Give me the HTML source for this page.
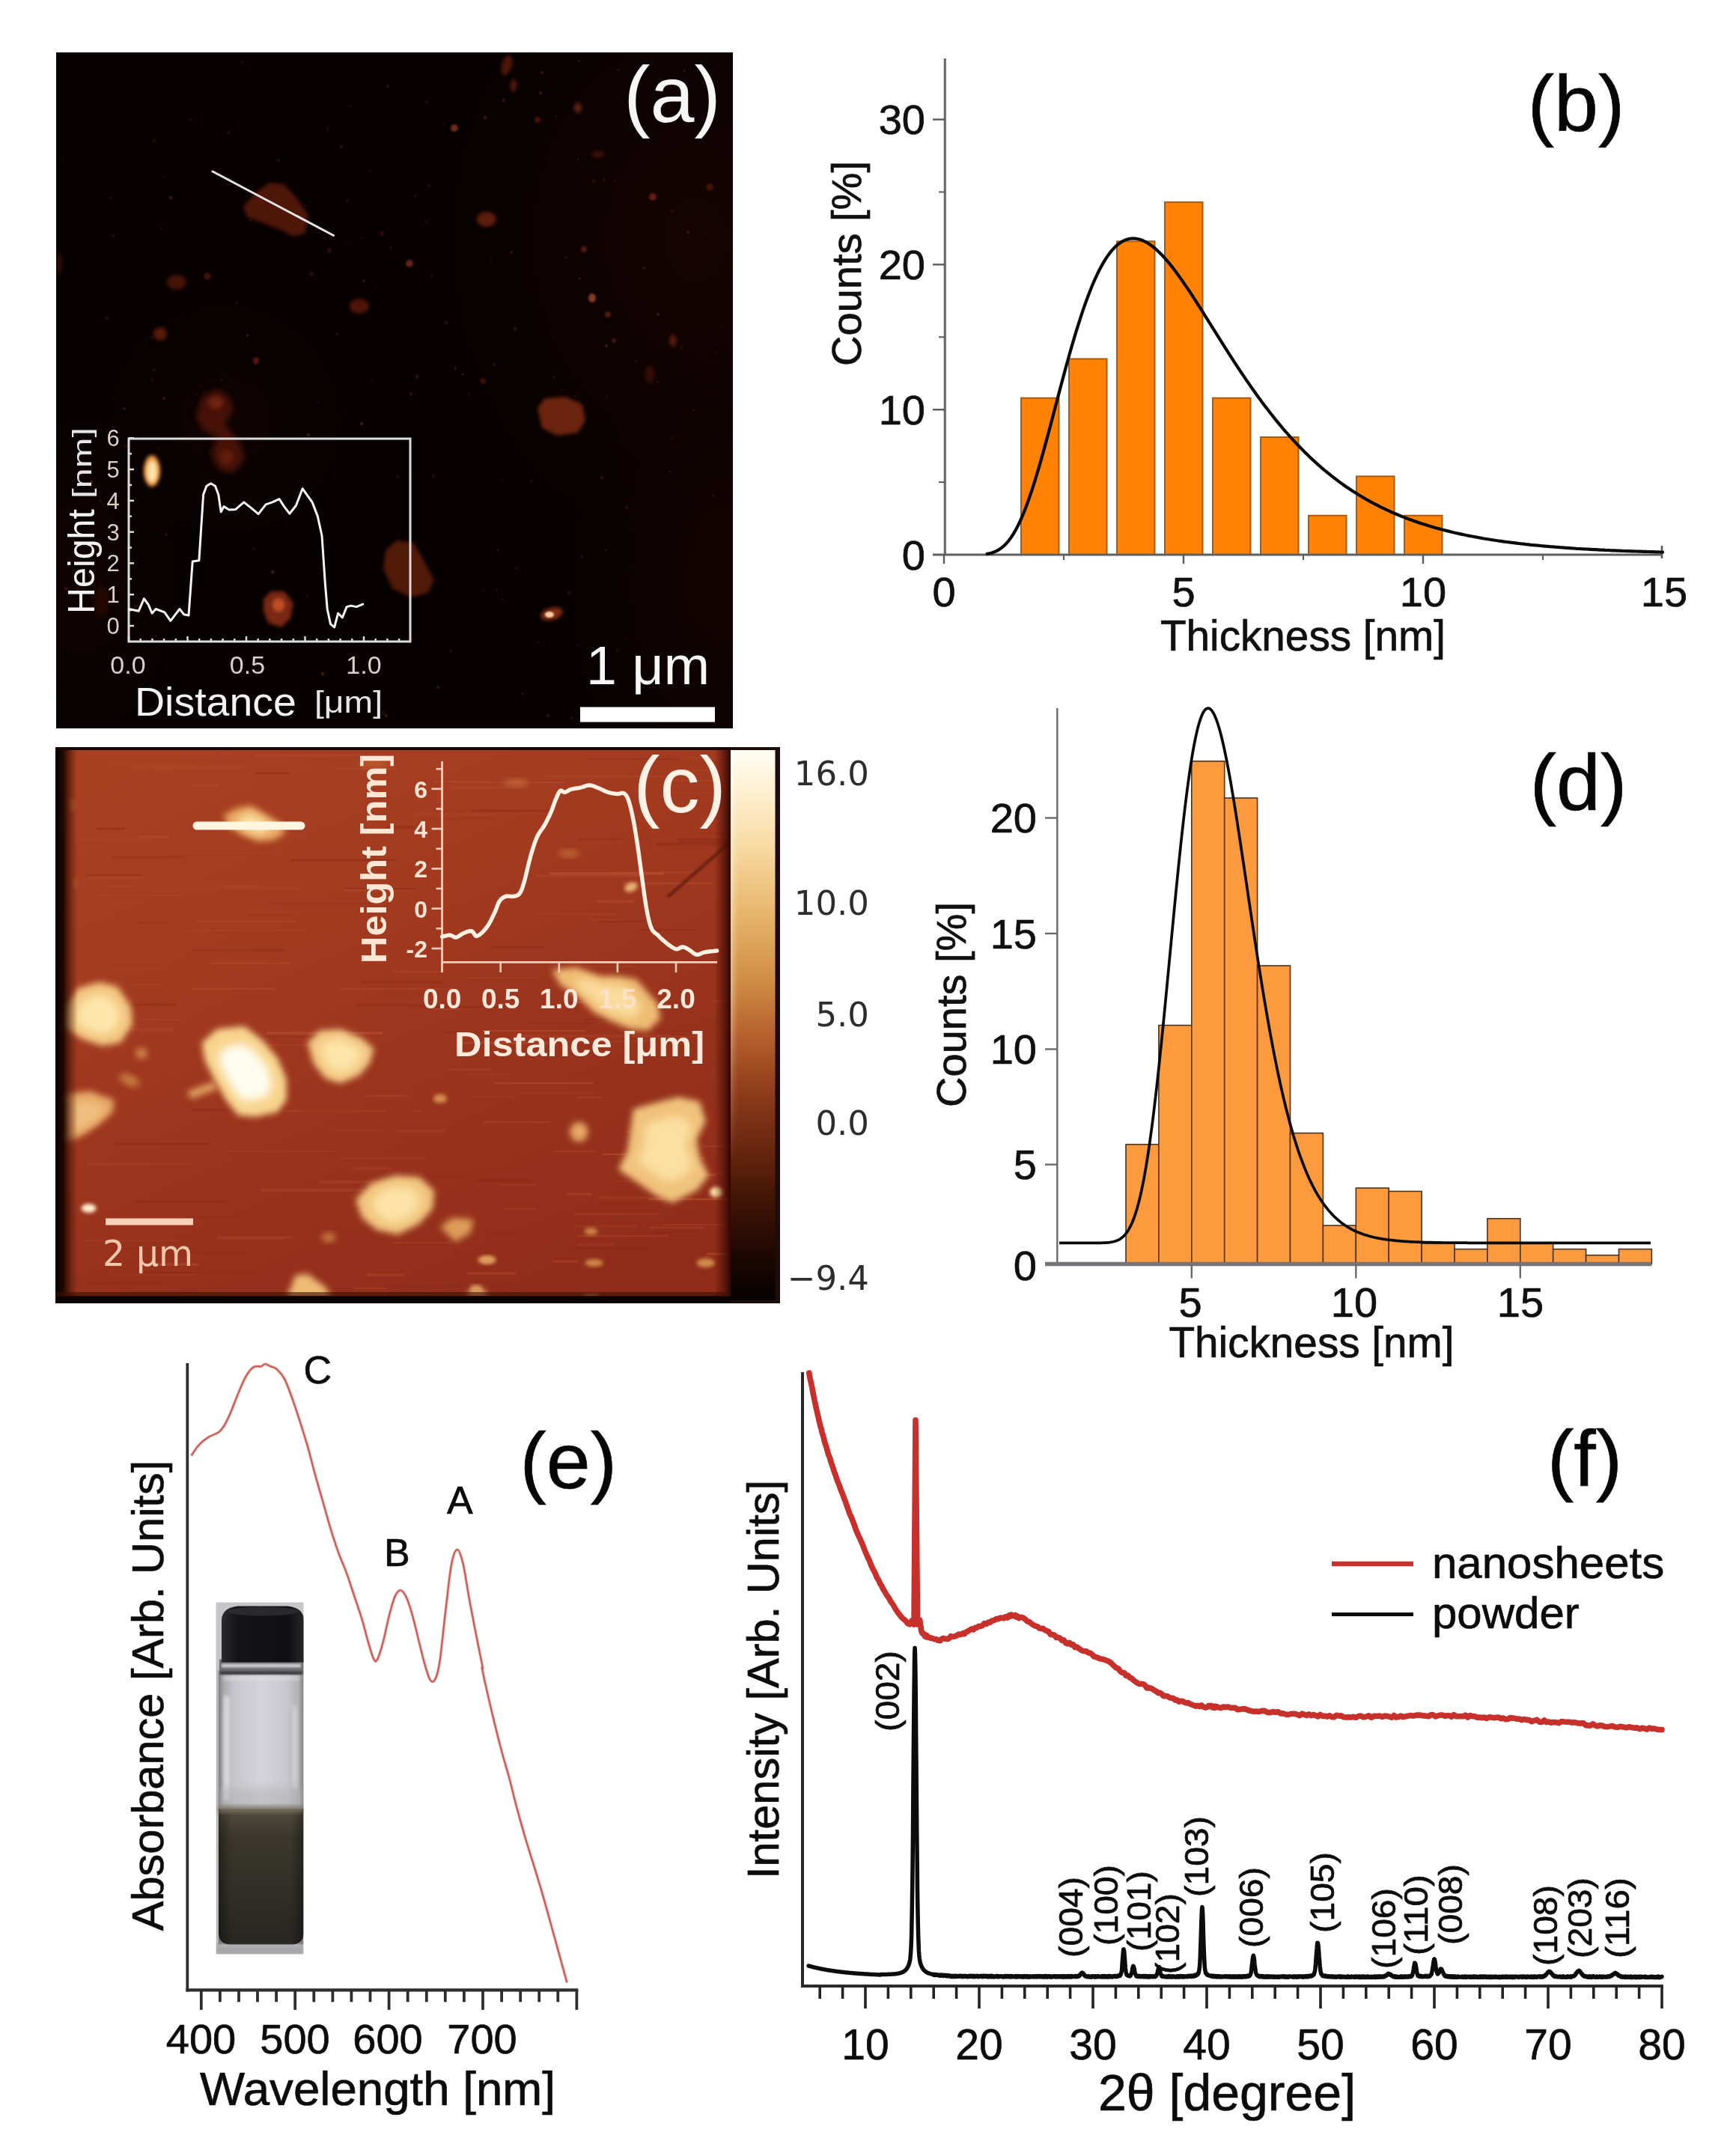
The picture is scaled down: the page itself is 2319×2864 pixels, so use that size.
<!DOCTYPE html>
<html lang="en"><head><meta charset="utf-8"><title>Figure: nanosheet characterisation</title>
<style>
html,body{margin:0;padding:0;background:#fff;}
body{width:2319px;height:2864px;overflow:hidden;}
svg{display:block;}
text{font-family:"Liberation Sans", sans-serif;}
.k text{stroke:#101010;stroke-width:0.7px;}
.dj{font-family:"DejaVu Sans", sans-serif;}
</style></head><body>
<svg width="2319" height="2864" viewBox="0 0 2319 2864">
<defs>
<filter id="b1" x="-30%" y="-30%" width="160%" height="160%"><feGaussianBlur stdDeviation="1.2"/></filter>
<filter id="b2" x="-30%" y="-30%" width="160%" height="160%"><feGaussianBlur stdDeviation="2.5"/></filter>
<filter id="b4" x="-30%" y="-30%" width="160%" height="160%"><feGaussianBlur stdDeviation="4"/></filter>
<filter id="b6" x="-30%" y="-30%" width="160%" height="160%"><feGaussianBlur stdDeviation="6"/></filter>
<filter id="b10" x="-40%" y="-40%" width="180%" height="180%"><feGaussianBlur stdDeviation="10"/></filter>
<filter id="b40" x="-50%" y="-50%" width="200%" height="200%"><feGaussianBlur stdDeviation="40"/></filter>
<filter id="tx" x="-5%" y="-5%" width="110%" height="110%"><feGaussianBlur stdDeviation="0.7"/></filter>
<clipPath id="clipV"><rect x="288.5" y="2137" width="117" height="470"/></clipPath>
<clipPath id="clipA"><rect x="75" y="70" width="904" height="903"/></clipPath>
<clipPath id="clipC"><rect x="74" y="998" width="902" height="743"/></clipPath>
<radialGradient id="hz1" cx="0.5" cy="0.5" r="0.5"><stop offset="0" stop-color="#2a0804" stop-opacity="0.42"/><stop offset="0.5" stop-color="#220604" stop-opacity="0.25"/><stop offset="1" stop-color="#1a0500" stop-opacity="0"/></radialGradient>
<linearGradient id="cbar" x1="0" y1="0" x2="0" y2="1">
<stop offset="0" stop-color="#fffdf6"/>
<stop offset="0.06" stop-color="#fff3d8"/>
<stop offset="0.18" stop-color="#f7d9a0"/>
<stop offset="0.30" stop-color="#e6b46a"/>
<stop offset="0.42" stop-color="#cf8c45"/>
<stop offset="0.52" stop-color="#b5602c"/>
<stop offset="0.62" stop-color="#8e3c1a"/>
<stop offset="0.72" stop-color="#6a2710"/>
<stop offset="0.82" stop-color="#401405"/>
<stop offset="0.92" stop-color="#1c0702"/>
<stop offset="1" stop-color="#060100"/>
</linearGradient>
<linearGradient id="cbg" x1="0.2" y1="0" x2="0.7" y2="1"><stop offset="0" stop-color="#a94022"/><stop offset="0.35" stop-color="#a23a20"/><stop offset="0.75" stop-color="#96311c"/><stop offset="1" stop-color="#902d1a"/></linearGradient>
<linearGradient id="sepg" x1="0" y1="0" x2="1" y2="0"><stop offset="0" stop-color="#ffffff" stop-opacity="0.4"/><stop offset="1" stop-color="#ffffff" stop-opacity="0"/></linearGradient>
<linearGradient id="sepv" x1="0" y1="0" x2="0" y2="1"><stop offset="0" stop-color="#fff" stop-opacity="1"/><stop offset="0.45" stop-color="#fff" stop-opacity="0.8"/><stop offset="0.75" stop-color="#fff" stop-opacity="0"/></linearGradient>
<linearGradient id="cright" x1="0" y1="0" x2="1" y2="0"><stop offset="0" stop-color="#4a0c02" stop-opacity="0"/><stop offset="0.55" stop-color="#400a02" stop-opacity="0.55"/><stop offset="1" stop-color="#2a0400" stop-opacity="0.95"/></linearGradient>
<linearGradient id="cleft" x1="0" y1="0" x2="1" y2="0">
<stop offset="0" stop-color="#000" stop-opacity="1"/>
<stop offset="0.35" stop-color="#1a0500" stop-opacity="0.95"/>
<stop offset="1" stop-color="#5a1a08" stop-opacity="0"/>
</linearGradient>
<linearGradient id="liq" x1="0" y1="0" x2="0" y2="1">
<stop offset="0" stop-color="#524c3e"/><stop offset="0.2" stop-color="#3b372d"/><stop offset="1" stop-color="#282622"/>
</linearGradient>
<linearGradient id="glass" x1="0" y1="0" x2="1" y2="0">
<stop offset="0" stop-color="#7e7e82"/><stop offset="0.06" stop-color="#a9a9ae"/><stop offset="0.18" stop-color="#c6c6cc"/><stop offset="0.5" stop-color="#d3d3d9"/><stop offset="0.8" stop-color="#c8c8ce"/><stop offset="0.94" stop-color="#b0b0b5"/><stop offset="1" stop-color="#828286"/>
</linearGradient>
<linearGradient id="capg" x1="0" y1="0" x2="1" y2="0">
<stop offset="0" stop-color="#2a2a2e"/><stop offset="0.2" stop-color="#141417"/><stop offset="0.8" stop-color="#101013"/><stop offset="1" stop-color="#26262a"/>
</linearGradient>
<linearGradient id="liqx" x1="0" y1="0" x2="1" y2="0">
<stop offset="0" stop-color="#000" stop-opacity="0.35"/><stop offset="0.15" stop-color="#000" stop-opacity="0"/><stop offset="0.85" stop-color="#000" stop-opacity="0"/><stop offset="1" stop-color="#000" stop-opacity="0.35"/>
</linearGradient>
</defs>
<rect x="0" y="0" width="2319" height="2864" fill="#ffffff"/>

<g id="panel-a">
<rect x="75" y="70" width="904" height="903" fill="#070101"/>
<g clip-path="url(#clipA)">
<ellipse cx="930" cy="320" rx="330" ry="420" fill="url(#hz1)"/>
<ellipse cx="960" cy="780" rx="200" ry="330" fill="url(#hz1)" opacity="0.8"/>
<ellipse cx="110" cy="770" rx="130" ry="220" fill="url(#hz1)" opacity="0.6"/>
<ellipse cx="300" cy="560" rx="160" ry="160" fill="url(#hz1)" opacity="0.5"/>
<g opacity="0.68">
<polygon points="325.0,276.0 340.0,258.0 360.0,244.0 380.0,246.0 396.0,264.0 412.0,287.0 408.0,312.0 392.0,316.0 379.0,309.0 352.0,298.0 330.0,290.0" fill="#6f200c" filter="url(#b2)" opacity="1"/>
<ellipse cx="677.0" cy="87.0" rx="7" ry="14" fill="#7a2610" filter="url(#b2)" opacity="0.9" transform="rotate(15 677.0 87.0)"/>
<ellipse cx="686.0" cy="114.0" rx="4" ry="9" fill="#8a2c12" filter="url(#b2)" opacity="0.9"/>
<ellipse cx="607.0" cy="171.0" rx="5" ry="5" fill="#b04528" filter="url(#b1)" opacity="0.9"/>
<ellipse cx="772.0" cy="144.0" rx="5" ry="7" fill="#a03820" filter="url(#b2)" opacity="0.9"/>
<ellipse cx="718.0" cy="160.0" rx="4" ry="4" fill="#7a2812" filter="url(#b1)" opacity="0.8"/>
<ellipse cx="799.0" cy="206.0" rx="9" ry="5" fill="#5a1a0a" filter="url(#b2)" opacity="0.8"/>
<ellipse cx="650.0" cy="293.0" rx="13" ry="10" fill="#8e2f16" filter="url(#b2)" opacity="0.95"/>
<ellipse cx="547.0" cy="352.0" rx="5" ry="5" fill="#9a3a22" filter="url(#b1)" opacity="0.9"/>
<ellipse cx="236.0" cy="377.0" rx="13" ry="10" fill="#70200c" filter="url(#b2)" opacity="0.9"/>
<ellipse cx="277.0" cy="369.0" rx="5" ry="5" fill="#6a2418" filter="url(#b1)" opacity="0.8"/>
<ellipse cx="480.0" cy="409.0" rx="13" ry="10" fill="#7a240e" filter="url(#b2)" opacity="0.95"/>
<ellipse cx="214.0" cy="446.0" rx="9" ry="9" fill="#8a2a10" filter="url(#b2)" opacity="0.95"/>
<ellipse cx="791.0" cy="398.0" rx="5" ry="6" fill="#c05a3a" filter="url(#b1)" opacity="0.95"/>
<ellipse cx="872.0" cy="263.0" rx="5" ry="5" fill="#9a3520" filter="url(#b1)" opacity="0.85"/>
<ellipse cx="899.0" cy="455.0" rx="5" ry="8" fill="#8a2a14" filter="url(#b2)" opacity="0.9"/>
<ellipse cx="780.0" cy="333.0" rx="4" ry="4" fill="#8a3020" filter="url(#b1)" opacity="0.8"/>
<ellipse cx="948.0" cy="250.0" rx="5" ry="5" fill="#70200e" filter="url(#b1)" opacity="0.8"/>
<ellipse cx="342.0" cy="482.0" rx="4" ry="5" fill="#8a2c14" filter="url(#b1)" opacity="0.85"/>
<ellipse cx="645.0" cy="509.0" rx="4" ry="4" fill="#6a2010" filter="url(#b1)" opacity="0.8"/>
<ellipse cx="79.0" cy="352.0" rx="5" ry="14" fill="#4a1408" filter="url(#b2)" opacity="0.8"/>
<ellipse cx="868.0" cy="500.0" rx="7" ry="12" fill="#5a1808" filter="url(#b2)" opacity="0.7"/>
<ellipse cx="812.0" cy="420.0" rx="4" ry="4" fill="#8a3020" filter="url(#b1)" opacity="0.8"/>
<ellipse cx="820.0" cy="455.0" rx="3" ry="3" fill="#7a2818" filter="url(#b1)" opacity="0.8"/>
<ellipse cx="440.0" cy="335.0" rx="3" ry="3" fill="#5a2018" filter="url(#b1)" opacity="0.8"/>
<ellipse cx="510.0" cy="312.0" rx="3" ry="3" fill="#5a2018" filter="url(#b1)" opacity="0.7"/>
<ellipse cx="416.0" cy="366.0" rx="3" ry="3" fill="#5a2018" filter="url(#b1)" opacity="0.7"/>
<circle cx="372" cy="214" r="2.1" fill="#4a1a14" opacity="0.81"/>
<circle cx="168" cy="596" r="2.5" fill="#5a2218" opacity="0.42"/>
<circle cx="469" cy="142" r="1.3" fill="#6a2a1c" opacity="0.43"/>
<circle cx="585" cy="918" r="2.1" fill="#50201a" opacity="0.87"/>
<circle cx="596" cy="431" r="2.6" fill="#4a1a14" opacity="0.68"/>
<circle cx="203" cy="451" r="2.0" fill="#50201a" opacity="0.55"/>
<circle cx="807" cy="240" r="2.0" fill="#5a2218" opacity="0.59"/>
<circle cx="570" cy="136" r="1.3" fill="#5a2218" opacity="0.65"/>
<circle cx="556" cy="768" r="1.9" fill="#6a2a1c" opacity="0.58"/>
<circle cx="305" cy="239" r="2.3" fill="#4a1a14" opacity="0.69"/>
<circle cx="550" cy="854" r="2.2" fill="#3a1410" opacity="0.70"/>
<circle cx="150" cy="533" r="1.4" fill="#3a1410" opacity="0.48"/>
<circle cx="518" cy="115" r="2.1" fill="#50201a" opacity="0.69"/>
<circle cx="860" cy="358" r="2.2" fill="#50201a" opacity="0.65"/>
<circle cx="790" cy="141" r="1.3" fill="#3a1410" opacity="0.64"/>
<circle cx="673" cy="134" r="2.2" fill="#50201a" opacity="0.90"/>
<circle cx="812" cy="332" r="1.7" fill="#3a1410" opacity="0.41"/>
<circle cx="494" cy="229" r="1.4" fill="#4a1a14" opacity="0.51"/>
<circle cx="339" cy="733" r="1.8" fill="#6a2a1c" opacity="0.44"/>
<circle cx="483" cy="566" r="2.4" fill="#6a2a1c" opacity="0.83"/>
<circle cx="331" cy="448" r="1.7" fill="#6a2a1c" opacity="0.88"/>
<circle cx="219" cy="236" r="1.5" fill="#5a2218" opacity="0.41"/>
<circle cx="821" cy="241" r="1.6" fill="#5a2218" opacity="0.61"/>
<circle cx="412" cy="581" r="2.5" fill="#50201a" opacity="0.88"/>
<circle cx="665" cy="735" r="1.8" fill="#50201a" opacity="0.60"/>
<circle cx="438" cy="172" r="2.1" fill="#4a1a14" opacity="0.50"/>
<circle cx="956" cy="470" r="1.4" fill="#50201a" opacity="0.43"/>
<circle cx="85" cy="214" r="1.3" fill="#3a1410" opacity="0.71"/>
<circle cx="147" cy="264" r="1.7" fill="#3a1410" opacity="0.88"/>
<circle cx="618" cy="500" r="1.4" fill="#6a2a1c" opacity="0.90"/>
<circle cx="497" cy="508" r="1.3" fill="#4a1a14" opacity="0.77"/>
<circle cx="740" cy="504" r="2.2" fill="#50201a" opacity="0.41"/>
<circle cx="927" cy="548" r="1.4" fill="#50201a" opacity="0.86"/>
<circle cx="756" cy="344" r="2.1" fill="#4a1a14" opacity="0.75"/>
<circle cx="316" cy="405" r="1.4" fill="#5a2218" opacity="0.67"/>
<circle cx="774" cy="372" r="1.5" fill="#5a2218" opacity="0.80"/>
<circle cx="809" cy="735" r="1.5" fill="#50201a" opacity="0.65"/>
<circle cx="732" cy="956" r="2.3" fill="#6a2a1c" opacity="0.53"/>
<circle cx="698" cy="927" r="1.8" fill="#3a1410" opacity="0.88"/>
<circle cx="408" cy="275" r="1.5" fill="#5a2218" opacity="0.57"/>
<circle cx="512" cy="952" r="2.1" fill="#4a1a14" opacity="0.64"/>
<circle cx="663" cy="788" r="1.3" fill="#4a1a14" opacity="0.85"/>
<circle cx="777" cy="744" r="1.9" fill="#5a2218" opacity="0.62"/>
<circle cx="648" cy="157" r="2.5" fill="#6a2a1c" opacity="0.63"/>
<circle cx="743" cy="155" r="1.4" fill="#5a2218" opacity="0.41"/>
<circle cx="608" cy="492" r="2.1" fill="#50201a" opacity="0.81"/>
<circle cx="953" cy="662" r="1.7" fill="#50201a" opacity="0.67"/>
<circle cx="104" cy="787" r="2.2" fill="#4a1a14" opacity="0.66"/>
<circle cx="911" cy="464" r="2.4" fill="#5a2218" opacity="0.41"/>
<circle cx="273" cy="524" r="2.3" fill="#3a1410" opacity="0.53"/>
<circle cx="456" cy="196" r="2.5" fill="#3a1410" opacity="0.85"/>
<circle cx="671" cy="801" r="1.9" fill="#50201a" opacity="0.47"/>
<circle cx="219" cy="532" r="2.4" fill="#5a2218" opacity="0.70"/>
<circle cx="772" cy="213" r="1.4" fill="#50201a" opacity="0.76"/>
<circle cx="577" cy="368" r="1.9" fill="#50201a" opacity="0.64"/>
<circle cx="772" cy="862" r="1.3" fill="#5a2218" opacity="0.54"/>
<circle cx="768" cy="529" r="2.0" fill="#4a1a14" opacity="0.62"/>
<circle cx="627" cy="527" r="1.9" fill="#3a1410" opacity="0.63"/>
<circle cx="557" cy="503" r="2.5" fill="#50201a" opacity="0.84"/>
<circle cx="919" cy="310" r="2.0" fill="#5a2218" opacity="0.82"/>
<circle cx="206" cy="188" r="1.8" fill="#4a1a14" opacity="0.74"/>
<circle cx="464" cy="268" r="1.6" fill="#4a1a14" opacity="0.85"/>
<circle cx="222" cy="714" r="2.1" fill="#5a2218" opacity="0.53"/>
<circle cx="206" cy="494" r="2.2" fill="#4a1a14" opacity="0.60"/>
<circle cx="516" cy="956" r="2.4" fill="#5a2218" opacity="0.75"/>
<circle cx="965" cy="437" r="1.8" fill="#3a1410" opacity="0.56"/>
<circle cx="724" cy="97" r="2.0" fill="#6a2a1c" opacity="0.75"/>
<circle cx="425" cy="538" r="1.6" fill="#4a1a14" opacity="0.46"/>
<circle cx="898" cy="282" r="2.4" fill="#4a1a14" opacity="0.53"/>
<circle cx="120" cy="769" r="1.6" fill="#5a2218" opacity="0.81"/>
<circle cx="837" cy="678" r="2.5" fill="#6a2a1c" opacity="0.47"/>
<circle cx="898" cy="585" r="2.2" fill="#4a1a14" opacity="0.54"/>
<circle cx="793" cy="242" r="2.5" fill="#3a1410" opacity="0.87"/>
<circle cx="646" cy="789" r="1.3" fill="#5a2218" opacity="0.43"/>
<circle cx="849" cy="482" r="1.7" fill="#50201a" opacity="0.61"/>
<circle cx="895" cy="630" r="1.3" fill="#5a2218" opacity="0.87"/>
<circle cx="943" cy="312" r="1.5" fill="#3a1410" opacity="0.71"/>
<circle cx="555" cy="262" r="1.8" fill="#5a2218" opacity="0.54"/>
<circle cx="796" cy="960" r="1.3" fill="#4a1a14" opacity="0.77"/>
<circle cx="573" cy="248" r="1.9" fill="#6a2a1c" opacity="0.45"/>
<circle cx="810" cy="462" r="1.9" fill="#6a2a1c" opacity="0.89"/>
<circle cx="357" cy="270" r="1.5" fill="#5a2218" opacity="0.82"/>
<circle cx="710" cy="643" r="1.8" fill="#3a1410" opacity="0.89"/>
<circle cx="826" cy="93" r="2.1" fill="#3a1410" opacity="0.62"/>
<circle cx="134" cy="669" r="1.7" fill="#50201a" opacity="0.74"/>
<circle cx="335" cy="294" r="1.6" fill="#6a2a1c" opacity="0.49"/>
<circle cx="323" cy="83" r="1.7" fill="#3a1410" opacity="0.89"/>
<circle cx="569" cy="296" r="2.6" fill="#3a1410" opacity="0.51"/>
<circle cx="247" cy="377" r="1.3" fill="#3a1410" opacity="0.65"/>
<circle cx="263" cy="527" r="1.2" fill="#3a1410" opacity="0.81"/>
<circle cx="212" cy="599" r="1.8" fill="#3a1410" opacity="0.55"/>
<circle cx="291" cy="598" r="1.9" fill="#5a2218" opacity="0.73"/>
<circle cx="719" cy="858" r="1.7" fill="#3a1410" opacity="0.76"/>
<circle cx="522" cy="331" r="2.1" fill="#5a2218" opacity="0.42"/>
<circle cx="824" cy="869" r="2.1" fill="#50201a" opacity="0.47"/>
<circle cx="549" cy="526" r="2.4" fill="#4a1a14" opacity="0.81"/>
<circle cx="602" cy="870" r="2.2" fill="#5a2218" opacity="0.44"/>
<circle cx="122" cy="644" r="2.5" fill="#6a2a1c" opacity="0.82"/>
<circle cx="579" cy="636" r="2.1" fill="#5a2218" opacity="0.64"/>
<circle cx="88" cy="786" r="2.2" fill="#50201a" opacity="0.85"/>
<circle cx="166" cy="546" r="2.2" fill="#6a2a1c" opacity="0.53"/>
<circle cx="151" cy="315" r="2.2" fill="#5a2218" opacity="0.52"/>
<circle cx="660" cy="487" r="2.4" fill="#4a1a14" opacity="0.64"/>
<circle cx="690" cy="759" r="2.1" fill="#5a2218" opacity="0.44"/>
<circle cx="215" cy="305" r="2.2" fill="#3a1410" opacity="0.71"/>
<circle cx="203" cy="507" r="1.9" fill="#4a1a14" opacity="0.75"/>
<circle cx="683" cy="337" r="1.9" fill="#6a2a1c" opacity="0.63"/>
<circle cx="764" cy="959" r="2.0" fill="#3a1410" opacity="0.89"/>
<circle cx="914" cy="95" r="1.8" fill="#50201a" opacity="0.88"/>
<circle cx="483" cy="318" r="1.5" fill="#5a2218" opacity="0.44"/>
<circle cx="165" cy="742" r="1.6" fill="#3a1410" opacity="0.47"/>
<circle cx="811" cy="530" r="2.4" fill="#3a1410" opacity="0.52"/>
<circle cx="879" cy="510" r="1.2" fill="#4a1a14" opacity="0.87"/>
<circle cx="688" cy="439" r="2.2" fill="#6a2a1c" opacity="0.57"/>
<circle cx="365" cy="824" r="1.2" fill="#3a1410" opacity="0.82"/>
<circle cx="191" cy="900" r="2.2" fill="#3a1410" opacity="0.53"/>
<circle cx="143" cy="425" r="2.4" fill="#4a1a14" opacity="0.58"/>
<circle cx="464" cy="324" r="1.3" fill="#4a1a14" opacity="0.43"/>
<circle cx="671" cy="642" r="1.4" fill="#3a1410" opacity="0.62"/>
<circle cx="364" cy="764" r="2.3" fill="#6a2a1c" opacity="0.84"/>
<circle cx="804" cy="638" r="2.5" fill="#50201a" opacity="0.67"/>
<circle cx="722" cy="124" r="2.2" fill="#6a2a1c" opacity="0.71"/>
<circle cx="208" cy="849" r="1.9" fill="#50201a" opacity="0.46"/>
<circle cx="503" cy="384" r="1.6" fill="#3a1410" opacity="0.60"/>
<circle cx="296" cy="508" r="2.1" fill="#4a1a14" opacity="0.48"/>
<circle cx="228" cy="264" r="2.5" fill="#6a2a1c" opacity="0.68"/>
<circle cx="486" cy="375" r="2.3" fill="#6a2a1c" opacity="0.47"/>
<circle cx="255" cy="160" r="1.7" fill="#4a1a14" opacity="0.56"/>
<circle cx="411" cy="796" r="1.5" fill="#4a1a14" opacity="0.77"/>
<circle cx="450" cy="446" r="1.9" fill="#6a2a1c" opacity="0.54"/>
<circle cx="751" cy="521" r="2.0" fill="#3a1410" opacity="0.46"/>
<circle cx="531" cy="637" r="2.4" fill="#5a2218" opacity="0.45"/>
<circle cx="879" cy="420" r="2.1" fill="#6a2a1c" opacity="0.88"/>
<circle cx="836" cy="853" r="1.2" fill="#4a1a14" opacity="0.61"/>
<circle cx="761" cy="792" r="2.6" fill="#6a2a1c" opacity="0.40"/>
<circle cx="431" cy="900" r="2.4" fill="#6a2a1c" opacity="0.89"/>
<circle cx="305" cy="177" r="1.4" fill="#50201a" opacity="0.89"/>
<circle cx="181" cy="810" r="2.2" fill="#6a2a1c" opacity="0.44"/>
<circle cx="773" cy="81" r="1.4" fill="#50201a" opacity="0.86"/>
<circle cx="656" cy="349" r="1.4" fill="#3a1410" opacity="0.66"/>
<polygon points="262.0,556.0 270.0,530.0 290.0,520.0 305.0,528.0 312.0,548.0 300.0,566.0 320.0,590.0 328.0,612.0 312.0,632.0 292.0,628.0 282.0,606.0 290.0,584.0 270.0,574.0" fill="#6a1e0a" filter="url(#b4)" opacity="0.95"/>
<ellipse cx="288.0" cy="538.0" rx="10" ry="9" fill="#a83a1c" filter="url(#b2)" opacity="0.8"/>
<ellipse cx="303.0" cy="610.0" rx="9" ry="10" fill="#9a3014" filter="url(#b2)" opacity="0.7"/>
<polygon points="718.0,545.0 728.0,532.0 755.0,530.0 778.0,540.0 782.0,562.0 772.0,578.0 745.0,582.0 724.0,572.0" fill="#9a3616" filter="url(#b2)" opacity="1"/>
<polygon points="515.0,735.0 530.0,722.0 552.0,724.0 566.0,748.0 580.0,775.0 572.0,792.0 548.0,798.0 524.0,786.0 512.0,760.0" fill="#74260e" filter="url(#b2)" opacity="1"/>
<polygon points="352.0,800.0 362.0,790.0 380.0,790.0 392.0,806.0 388.0,826.0 376.0,838.0 358.0,832.0 352.0,816.0" fill="#b03a1c" filter="url(#b2)" opacity="1"/>
<ellipse cx="372.0" cy="808.0" rx="7" ry="8" fill="#e0683a" filter="url(#b2)" opacity="0.9"/>
<ellipse cx="136.0" cy="803.0" rx="10" ry="22" fill="#3a1006" filter="url(#b4)" opacity="0.8"/>
</g>
<ellipse cx="203.0" cy="629.0" rx="11" ry="21" fill="#e89040" filter="url(#b2)" opacity="1"/>
<ellipse cx="203.0" cy="630.0" rx="7" ry="15" fill="#ffe2a8" filter="url(#b2)" opacity="1"/>
<ellipse cx="737.0" cy="820.0" rx="15" ry="8" fill="#8a3016" filter="url(#b2)" opacity="0.95" transform="rotate(-15 737.0 820.0)"/>
<ellipse cx="734.0" cy="821.0" rx="6" ry="4" fill="#ffd8b0" filter="url(#b1)" opacity="0.95"/>
<ellipse cx="372.0" cy="808.0" rx="8" ry="9" fill="#c8502a" filter="url(#b2)" opacity="0.85"/>
</g>
<line x1="284" y1="229" x2="445.5" y2="314.5" stroke="#e8e4e2" stroke-width="3" stroke-linecap="round"/>
<rect x="172" y="586" width="376" height="271" fill="none" stroke="#dcdcdc" stroke-width="3"/>
<line x1="172" y1="836.0" x2="179" y2="836.0" stroke="#dcdcdc" stroke-width="2.5"/>
<line x1="172" y1="815.1" x2="176" y2="815.1" stroke="#dcdcdc" stroke-width="2.5"/>
<line x1="172" y1="794.2" x2="179" y2="794.2" stroke="#dcdcdc" stroke-width="2.5"/>
<line x1="172" y1="773.3" x2="176" y2="773.3" stroke="#dcdcdc" stroke-width="2.5"/>
<line x1="172" y1="752.4" x2="179" y2="752.4" stroke="#dcdcdc" stroke-width="2.5"/>
<line x1="172" y1="731.5" x2="176" y2="731.5" stroke="#dcdcdc" stroke-width="2.5"/>
<line x1="172" y1="710.6" x2="179" y2="710.6" stroke="#dcdcdc" stroke-width="2.5"/>
<line x1="172" y1="689.7" x2="176" y2="689.7" stroke="#dcdcdc" stroke-width="2.5"/>
<line x1="172" y1="668.8" x2="179" y2="668.8" stroke="#dcdcdc" stroke-width="2.5"/>
<line x1="172" y1="647.9" x2="176" y2="647.9" stroke="#dcdcdc" stroke-width="2.5"/>
<line x1="172" y1="627.0" x2="179" y2="627.0" stroke="#dcdcdc" stroke-width="2.5"/>
<line x1="172" y1="606.1" x2="176" y2="606.1" stroke="#dcdcdc" stroke-width="2.5"/>
<line x1="172" y1="585.2" x2="179" y2="585.2" stroke="#dcdcdc" stroke-width="2.5"/>
<line x1="172.0" y1="857" x2="172.0" y2="850" stroke="#dcdcdc" stroke-width="2.5"/>
<line x1="187.7" y1="857" x2="187.7" y2="853" stroke="#dcdcdc" stroke-width="2.5"/>
<line x1="203.4" y1="857" x2="203.4" y2="853" stroke="#dcdcdc" stroke-width="2.5"/>
<line x1="219.1" y1="857" x2="219.1" y2="853" stroke="#dcdcdc" stroke-width="2.5"/>
<line x1="234.8" y1="857" x2="234.8" y2="853" stroke="#dcdcdc" stroke-width="2.5"/>
<line x1="250.5" y1="857" x2="250.5" y2="850" stroke="#dcdcdc" stroke-width="2.5"/>
<line x1="266.2" y1="857" x2="266.2" y2="853" stroke="#dcdcdc" stroke-width="2.5"/>
<line x1="281.9" y1="857" x2="281.9" y2="853" stroke="#dcdcdc" stroke-width="2.5"/>
<line x1="297.6" y1="857" x2="297.6" y2="853" stroke="#dcdcdc" stroke-width="2.5"/>
<line x1="313.3" y1="857" x2="313.3" y2="853" stroke="#dcdcdc" stroke-width="2.5"/>
<line x1="329.0" y1="857" x2="329.0" y2="850" stroke="#dcdcdc" stroke-width="2.5"/>
<line x1="344.7" y1="857" x2="344.7" y2="853" stroke="#dcdcdc" stroke-width="2.5"/>
<line x1="360.4" y1="857" x2="360.4" y2="853" stroke="#dcdcdc" stroke-width="2.5"/>
<line x1="376.1" y1="857" x2="376.1" y2="853" stroke="#dcdcdc" stroke-width="2.5"/>
<line x1="391.8" y1="857" x2="391.8" y2="853" stroke="#dcdcdc" stroke-width="2.5"/>
<line x1="407.5" y1="857" x2="407.5" y2="850" stroke="#dcdcdc" stroke-width="2.5"/>
<line x1="423.2" y1="857" x2="423.2" y2="853" stroke="#dcdcdc" stroke-width="2.5"/>
<line x1="438.9" y1="857" x2="438.9" y2="853" stroke="#dcdcdc" stroke-width="2.5"/>
<line x1="454.6" y1="857" x2="454.6" y2="853" stroke="#dcdcdc" stroke-width="2.5"/>
<line x1="470.3" y1="857" x2="470.3" y2="853" stroke="#dcdcdc" stroke-width="2.5"/>
<line x1="486.0" y1="857" x2="486.0" y2="850" stroke="#dcdcdc" stroke-width="2.5"/>
<line x1="501.7" y1="857" x2="501.7" y2="853" stroke="#dcdcdc" stroke-width="2.5"/>
<line x1="517.4" y1="857" x2="517.4" y2="853" stroke="#dcdcdc" stroke-width="2.5"/>
<line x1="533.1" y1="857" x2="533.1" y2="853" stroke="#dcdcdc" stroke-width="2.5"/>
<text x="151" y="847.0" font-size="31" fill="#dccfc8" text-anchor="middle">0</text>
<text x="151" y="805.2" font-size="31" fill="#dccfc8" text-anchor="middle">1</text>
<text x="151" y="763.4" font-size="31" fill="#dccfc8" text-anchor="middle">2</text>
<text x="151" y="721.6" font-size="31" fill="#dccfc8" text-anchor="middle">3</text>
<text x="151" y="679.8" font-size="31" fill="#dccfc8" text-anchor="middle">4</text>
<text x="151" y="638.0" font-size="31" fill="#dccfc8" text-anchor="middle">5</text>
<text x="151" y="596.2" font-size="31" fill="#dccfc8" text-anchor="middle">6</text>
<text x="171" y="900" font-size="34" fill="#d8d0cc" text-anchor="middle">0.0</text>
<text x="330.5" y="900" font-size="34" fill="#d8d0cc" text-anchor="middle">0.5</text>
<text x="486" y="900" font-size="34" fill="#d8d0cc" text-anchor="middle">1.0</text>
<text x="180" y="956" font-size="54" fill="#f2f2f2" textLength="216" lengthAdjust="spacingAndGlyphs">Distance</text>
<text x="420" y="952" font-size="41" fill="#e6e6e6" textLength="91" lengthAdjust="spacingAndGlyphs">[μm]</text>
<text transform="translate(126 820) rotate(-90)" font-size="50" fill="#f2f2f2" textLength="140" lengthAdjust="spacingAndGlyphs">Height</text>
<text transform="translate(122 666) rotate(-90)" font-size="35" fill="#e6e6e6" textLength="95" lengthAdjust="spacingAndGlyphs">[nm]</text>
<polyline points="172.2,813.5 185.2,816.3 192.4,799.6 198.2,807.7 203.1,819.2 208.2,813.5 219.8,817.8 227.8,829.3 235.6,819.2 239.9,813.5 245.7,820.7 252.0,822.1 257.2,750.1 265.9,748.7 271.6,660.8 275.9,649.3 281.7,645.8 287.5,649.3 291.8,660.8 295.2,683.8 299.0,676.6 306.2,681.0 314.8,680.4 325.8,670.9 335.0,678.1 345.1,686.7 355.1,673.8 363.8,670.9 373.0,666.6 379.6,676.6 386.8,686.2 395.5,675.2 404.1,652.7 409.9,660.8 417.1,670.9 424.3,689.6 430.0,715.5 434.3,778.9 437.2,813.5 441.5,833.6 446.7,837.9 451.6,819.2 457.4,825.0 463.1,810.6 468.9,809.1 476.1,810.6 484.7,807.1" fill="none" stroke="#f4f4f4" stroke-width="3" stroke-linejoin="round" stroke-linecap="round"/>
<text x="898" y="163.3" font-size="106" fill="#f6f6f6" text-anchor="middle">(a)</text>
<text x="783" y="914" font-size="72" fill="#f6f6f6" textLength="165" lengthAdjust="spacingAndGlyphs">1 μm</text>
<rect x="775" y="944.5" width="180" height="20" fill="#ffffff"/>
</g>
<g id="panel-b" class="k">
<rect x="1364.0" y="531.7" width="50.5" height="209.3" fill="#ff8205" stroke="#a85a14" stroke-width="2"/>
<rect x="1428.0" y="479.4" width="50.5" height="261.6" fill="#ff8205" stroke="#a85a14" stroke-width="2"/>
<rect x="1492.0" y="322.4" width="50.5" height="418.6" fill="#ff8205" stroke="#a85a14" stroke-width="2"/>
<rect x="1556.0" y="270.1" width="50.5" height="470.9" fill="#ff8205" stroke="#a85a14" stroke-width="2"/>
<rect x="1620.0" y="531.7" width="50.5" height="209.3" fill="#ff8205" stroke="#a85a14" stroke-width="2"/>
<rect x="1684.0" y="584.0" width="50.5" height="157.0" fill="#ff8205" stroke="#a85a14" stroke-width="2"/>
<rect x="1748.0" y="688.7" width="50.5" height="52.3" fill="#ff8205" stroke="#a85a14" stroke-width="2"/>
<rect x="1812.0" y="636.3" width="50.5" height="104.7" fill="#ff8205" stroke="#a85a14" stroke-width="2"/>
<rect x="1876.0" y="688.7" width="50.5" height="52.3" fill="#ff8205" stroke="#a85a14" stroke-width="2"/>
<line x1="1262.3" y1="78" x2="1262.3" y2="742" stroke="#6a6a6a" stroke-width="3.2"/>
<line x1="1246" y1="741" x2="2221" y2="741" stroke="#606060" stroke-width="3.2"/>
<line x1="1246" y1="547.2" x2="1262" y2="547.2" stroke="#5a5a5a" stroke-width="2.4"/>
<line x1="1246" y1="353.4" x2="1262" y2="353.4" stroke="#5a5a5a" stroke-width="2.4"/>
<line x1="1246" y1="159.6" x2="1262" y2="159.6" stroke="#5a5a5a" stroke-width="2.4"/>
<line x1="1254" y1="644.1" x2="1262" y2="644.1" stroke="#5a5a5a" stroke-width="2"/>
<line x1="1254" y1="450.3" x2="1262" y2="450.3" stroke="#5a5a5a" stroke-width="2"/>
<line x1="1254" y1="256.5" x2="1262" y2="256.5" stroke="#5a5a5a" stroke-width="2"/>
<line x1="1261.0" y1="741" x2="1261.0" y2="753" stroke="#5a5a5a" stroke-width="2.4"/>
<line x1="1581.0" y1="741" x2="1581.0" y2="753" stroke="#5a5a5a" stroke-width="2.4"/>
<line x1="1901.0" y1="741" x2="1901.0" y2="753" stroke="#5a5a5a" stroke-width="2.4"/>
<line x1="2220" y1="729" x2="2220" y2="746" stroke="#5a5a5a" stroke-width="2.6"/>
<line x1="1421.0" y1="741" x2="1421.0" y2="748" stroke="#5a5a5a" stroke-width="2"/>
<line x1="1741.0" y1="741" x2="1741.0" y2="748" stroke="#5a5a5a" stroke-width="2"/>
<line x1="2061.0" y1="741" x2="2061.0" y2="748" stroke="#5a5a5a" stroke-width="2"/>
<polyline points="1318.6,739.9 1321.8,739.3 1325.0,738.4 1328.2,737.3 1331.4,735.9 1334.6,734.1 1337.8,731.9 1341.0,729.2 1344.2,726.0 1347.4,722.3 1350.6,718.0 1353.8,713.1 1357.0,707.5 1360.2,701.4 1363.4,694.6 1366.6,687.2 1369.8,679.2 1373.0,670.6 1376.2,661.5 1379.4,651.9 1382.6,641.7 1385.8,631.2 1389.0,620.3 1392.2,609.0 1395.4,597.4 1398.6,585.6 1401.8,573.7 1405.0,561.6 1408.2,549.4 1411.4,537.2 1414.6,525.1 1417.8,513.0 1421.0,501.1 1424.2,489.3 1427.4,477.7 1430.6,466.4 1433.8,455.4 1437.0,444.6 1440.2,434.3 1443.4,424.3 1446.6,414.7 1449.8,405.5 1453.0,396.7 1456.2,388.4 1459.4,380.5 1462.6,373.2 1465.8,366.3 1469.0,359.8 1472.2,353.9 1475.4,348.4 1478.6,343.4 1481.8,338.9 1485.0,334.9 1488.2,331.3 1491.4,328.2 1494.6,325.6 1497.8,323.4 1501.0,321.6 1504.2,320.2 1507.4,319.3 1510.6,318.7 1513.8,318.5 1517.0,318.7 1520.2,319.2 1523.4,320.1 1526.6,321.3 1529.8,322.8 1533.0,324.6 1536.2,326.7 1539.4,329.0 1542.6,331.6 1545.8,334.4 1549.0,337.5 1552.2,340.8 1555.4,344.2 1558.6,347.9 1561.8,351.7 1565.0,355.6 1568.2,359.8 1571.4,364.0 1574.6,368.4 1577.8,372.9 1581.0,377.5 1584.2,382.1 1587.4,386.9 1590.6,391.7 1593.8,396.6 1597.0,401.6 1600.2,406.6 1603.4,411.6 1606.6,416.7 1609.8,421.8 1613.0,426.9 1616.2,432.0 1619.4,437.1 1622.6,442.2 1625.8,447.3 1629.0,452.4 1632.2,457.5 1635.4,462.6 1638.6,467.6 1641.8,472.6 1645.0,477.6 1648.2,482.6 1651.4,487.5 1654.6,492.3 1657.8,497.2 1661.0,501.9 1664.2,506.6 1667.4,511.3 1670.6,515.9 1673.8,520.5 1677.0,525.0 1680.2,529.4 1683.4,533.8 1686.6,538.2 1689.8,542.4 1693.0,546.6 1696.2,550.8 1699.4,554.8 1702.6,558.9 1705.8,562.8 1709.0,566.7 1712.2,570.5 1715.4,574.3 1718.6,578.0 1721.8,581.6 1725.0,585.2 1728.2,588.7 1731.4,592.1 1734.6,595.5 1737.8,598.8 1741.0,602.0 1744.2,605.2 1747.4,608.3 1750.6,611.4 1753.8,614.4 1757.0,617.3 1760.2,620.2 1763.4,623.0 1766.6,625.8 1769.8,628.5 1773.0,631.1 1776.2,633.7 1779.4,636.3 1782.6,638.7 1785.8,641.2 1789.0,643.6 1792.2,645.9 1795.4,648.2 1798.6,650.4 1801.8,652.6 1805.0,654.7 1808.2,656.8 1811.4,658.8 1814.6,660.8 1817.8,662.7 1821.0,664.6 1824.2,666.5 1827.4,668.3 1830.6,670.1 1833.8,671.8 1837.0,673.5 1840.2,675.1 1843.4,676.8 1846.6,678.3 1849.8,679.9 1853.0,681.4 1856.2,682.8 1859.4,684.3 1862.6,685.7 1865.8,687.0 1869.0,688.4 1872.2,689.7 1875.4,690.9 1878.6,692.2 1881.8,693.4 1885.0,694.5 1888.2,695.7 1891.4,696.8 1894.6,697.9 1897.8,699.0 1901.0,700.0 1904.2,701.0 1907.4,702.0 1910.6,703.0 1913.8,703.9 1917.0,704.9 1920.2,705.8 1923.4,706.6 1926.6,707.5 1929.8,708.3 1933.0,709.1 1936.2,709.9 1939.4,710.7 1942.6,711.5 1945.8,712.2 1949.0,712.9 1952.2,713.6 1955.4,714.3 1958.6,715.0 1961.8,715.6 1965.0,716.2 1968.2,716.8 1971.4,717.4 1974.6,718.0 1977.8,718.6 1981.0,719.2 1984.2,719.7 1987.4,720.2 1990.6,720.7 1993.8,721.2 1997.0,721.7 2000.2,722.2 2003.4,722.7 2006.6,723.1 2009.8,723.6 2013.0,724.0 2016.2,724.4 2019.4,724.8 2022.6,725.2 2025.8,725.6 2029.0,726.0 2032.2,726.4 2035.4,726.7 2038.6,727.1 2041.8,727.4 2045.0,727.8 2048.2,728.1 2051.4,728.4 2054.6,728.7 2057.8,729.0 2061.0,729.3 2064.2,729.6 2067.4,729.9 2070.6,730.2 2073.8,730.4 2077.0,730.7 2080.2,730.9 2083.4,731.2 2086.6,731.4 2089.8,731.7 2093.0,731.9 2096.2,732.1 2099.4,732.3 2102.6,732.5 2105.8,732.8 2109.0,733.0 2112.2,733.2 2115.4,733.3 2118.6,733.5 2121.8,733.7 2125.0,733.9 2128.2,734.1 2131.4,734.2 2134.6,734.4 2137.8,734.6 2141.0,734.7 2144.2,734.9 2147.4,735.0 2150.6,735.2 2153.8,735.3 2157.0,735.4 2160.2,735.6 2163.4,735.7 2166.6,735.8 2169.8,736.0 2173.0,736.1 2176.2,736.2 2179.4,736.3 2182.6,736.4 2185.8,736.5 2189.0,736.6 2192.2,736.7 2195.4,736.8 2198.6,736.9 2201.8,737.0 2205.0,737.1 2208.2,737.2 2211.4,737.3 2214.6,737.4 2217.8,737.5 2221.0,737.6" fill="none" stroke="#0a0a0a" stroke-width="4.2" stroke-linejoin="round" stroke-linecap="round"/>
<text x="1236" y="760.5" font-size="56" fill="#101010" text-anchor="end">0</text>
<text x="1236" y="566.7" font-size="56" fill="#101010" text-anchor="end">10</text>
<text x="1236" y="372.9" font-size="56" fill="#101010" text-anchor="end">20</text>
<text x="1236" y="179.1" font-size="56" fill="#101010" text-anchor="end">30</text>
<text x="1261" y="810" font-size="56" fill="#101010" text-anchor="middle">0</text>
<text x="1581" y="810" font-size="56" fill="#101010" text-anchor="middle">5</text>
<text x="1901" y="810" font-size="56" fill="#101010" text-anchor="middle">10</text>
<text x="2223" y="810" font-size="56" fill="#101010" text-anchor="middle">15</text>
<text x="1740.5" y="868.5" font-size="56.7" fill="#101010" text-anchor="middle">Thickness [nm]</text>
<text transform="translate(1150 352) rotate(-90)" font-size="56" fill="#101010" text-anchor="middle">Counts [%]</text>
<text x="2105.5" y="174.5" font-size="106" fill="#060606" text-anchor="middle">(b)</text>
</g>
<g id="panel-c">
<rect x="74" y="998" width="902" height="743" fill="url(#cbg)"/>
<g clip-path="url(#clipC)">
<line x1="753" y1="1322" x2="796" y2="1322" stroke="#b04426" stroke-width="2.5" opacity="0.45"/>
<line x1="280" y1="1287" x2="388" y2="1287" stroke="#b54a2c" stroke-width="2.6" opacity="0.60"/>
<line x1="361" y1="1207" x2="500" y2="1207" stroke="#8e2c18" stroke-width="2.5" opacity="0.33"/>
<line x1="925" y1="1184" x2="1047" y2="1184" stroke="#b04426" stroke-width="1.6" opacity="0.32"/>
<line x1="651" y1="1648" x2="691" y2="1648" stroke="#8e2c18" stroke-width="2.8" opacity="0.57"/>
<line x1="114" y1="1169" x2="188" y2="1169" stroke="#8a2a14" stroke-width="2.2" opacity="0.39"/>
<line x1="340" y1="1009" x2="480" y2="1009" stroke="#b54a2c" stroke-width="1.9" opacity="0.59"/>
<line x1="802" y1="1231" x2="862" y2="1231" stroke="#8e2c18" stroke-width="2.0" opacity="0.56"/>
<line x1="630" y1="1083" x2="740" y2="1083" stroke="#8e2c18" stroke-width="2.5" opacity="0.57"/>
<line x1="605" y1="1045" x2="755" y2="1045" stroke="#b54a2c" stroke-width="1.9" opacity="0.59"/>
<line x1="129" y1="1107" x2="167" y2="1107" stroke="#8a2a14" stroke-width="2.4" opacity="0.50"/>
<line x1="183" y1="1233" x2="223" y2="1233" stroke="#8e2c18" stroke-width="2.2" opacity="0.31"/>
<line x1="738" y1="1685" x2="772" y2="1685" stroke="#b24628" stroke-width="3.0" opacity="0.54"/>
<line x1="472" y1="1721" x2="516" y2="1721" stroke="#b54a2c" stroke-width="2.1" opacity="0.37"/>
<line x1="192" y1="1700" x2="348" y2="1700" stroke="#8e2c18" stroke-width="2.3" opacity="0.52"/>
<line x1="788" y1="1229" x2="830" y2="1229" stroke="#b24628" stroke-width="2.4" opacity="0.38"/>
<line x1="253" y1="1673" x2="330" y2="1673" stroke="#8a2a14" stroke-width="1.6" opacity="0.39"/>
<line x1="756" y1="1595" x2="791" y2="1595" stroke="#b54a2c" stroke-width="2.4" opacity="0.53"/>
<line x1="255" y1="1049" x2="293" y2="1049" stroke="#bb5234" stroke-width="2.2" opacity="0.35"/>
<line x1="624" y1="1701" x2="689" y2="1701" stroke="#b24628" stroke-width="2.9" opacity="0.57"/>
<line x1="716" y1="1221" x2="824" y2="1221" stroke="#b24628" stroke-width="3.4" opacity="0.27"/>
<line x1="178" y1="1605" x2="301" y2="1605" stroke="#8a2a14" stroke-width="3.4" opacity="0.39"/>
<line x1="461" y1="1187" x2="555" y2="1187" stroke="#8a2a14" stroke-width="1.9" opacity="0.53"/>
<line x1="805" y1="1542" x2="935" y2="1542" stroke="#bb5234" stroke-width="2.0" opacity="0.55"/>
<line x1="771" y1="1339" x2="878" y2="1339" stroke="#bb5234" stroke-width="1.9" opacity="0.51"/>
<line x1="141" y1="1184" x2="175" y2="1184" stroke="#bb5234" stroke-width="2.6" opacity="0.31"/>
<line x1="176" y1="1315" x2="216" y2="1315" stroke="#bb5234" stroke-width="1.7" opacity="0.28"/>
<line x1="706" y1="1367" x2="794" y2="1367" stroke="#8e2c18" stroke-width="1.8" opacity="0.41"/>
<line x1="290" y1="1653" x2="390" y2="1653" stroke="#b24628" stroke-width="3.0" opacity="0.52"/>
<line x1="329" y1="1218" x2="394" y2="1218" stroke="#b04426" stroke-width="3.0" opacity="0.32"/>
<line x1="299" y1="1184" x2="349" y2="1184" stroke="#bb5234" stroke-width="1.9" opacity="0.27"/>
<line x1="299" y1="1187" x2="398" y2="1187" stroke="#b24628" stroke-width="3.1" opacity="0.48"/>
<line x1="174" y1="1725" x2="265" y2="1725" stroke="#8e2c18" stroke-width="3.2" opacity="0.57"/>
<line x1="341" y1="1033" x2="387" y2="1033" stroke="#8e2c18" stroke-width="2.7" opacity="0.54"/>
<line x1="150" y1="1145" x2="246" y2="1145" stroke="#8e2c18" stroke-width="2.4" opacity="0.34"/>
<line x1="912" y1="1570" x2="956" y2="1570" stroke="#bb5234" stroke-width="2.9" opacity="0.37"/>
<line x1="382" y1="1031" x2="418" y2="1031" stroke="#b04426" stroke-width="1.6" opacity="0.51"/>
<line x1="798" y1="1669" x2="934" y2="1669" stroke="#8a2a14" stroke-width="2.9" opacity="0.31"/>
<line x1="262" y1="1231" x2="396" y2="1231" stroke="#bb5234" stroke-width="2.5" opacity="0.39"/>
<line x1="666" y1="1583" x2="716" y2="1583" stroke="#bb5234" stroke-width="1.7" opacity="0.31"/>
<line x1="443" y1="1510" x2="510" y2="1510" stroke="#b04426" stroke-width="2.3" opacity="0.27"/>
<line x1="858" y1="1547" x2="942" y2="1547" stroke="#b54a2c" stroke-width="3.2" opacity="0.60"/>
<line x1="257" y1="1269" x2="381" y2="1269" stroke="#8e2c18" stroke-width="3.4" opacity="0.40"/>
<line x1="183" y1="1118" x2="225" y2="1118" stroke="#bb5234" stroke-width="3.3" opacity="0.41"/>
<line x1="97" y1="1122" x2="199" y2="1122" stroke="#b24628" stroke-width="3.1" opacity="0.39"/>
<line x1="896" y1="1421" x2="1022" y2="1421" stroke="#8e2c18" stroke-width="1.8" opacity="0.35"/>
<line x1="895" y1="1383" x2="939" y2="1383" stroke="#8a2a14" stroke-width="3.0" opacity="0.53"/>
<line x1="348" y1="1590" x2="487" y2="1590" stroke="#b54a2c" stroke-width="3.5" opacity="0.42"/>
<line x1="895" y1="1043" x2="976" y2="1043" stroke="#b24628" stroke-width="2.7" opacity="0.54"/>
<line x1="772" y1="1121" x2="831" y2="1121" stroke="#8a2a14" stroke-width="2.7" opacity="0.32"/>
<line x1="579" y1="1348" x2="615" y2="1348" stroke="#bb5234" stroke-width="1.8" opacity="0.38"/>
<line x1="934" y1="1113" x2="1070" y2="1113" stroke="#8e2c18" stroke-width="1.6" opacity="0.45"/>
<line x1="117" y1="1555" x2="256" y2="1555" stroke="#b54a2c" stroke-width="2.3" opacity="0.41"/>
<line x1="766" y1="1622" x2="880" y2="1622" stroke="#b04426" stroke-width="2.7" opacity="0.40"/>
<line x1="475" y1="1484" x2="562" y2="1484" stroke="#b54a2c" stroke-width="1.5" opacity="0.60"/>
<line x1="475" y1="1343" x2="586" y2="1343" stroke="#8a2a14" stroke-width="3.2" opacity="0.53"/>
<line x1="143" y1="1295" x2="219" y2="1295" stroke="#b04426" stroke-width="1.7" opacity="0.40"/>
<line x1="120" y1="1375" x2="232" y2="1375" stroke="#b54a2c" stroke-width="3.3" opacity="0.36"/>
<line x1="154" y1="1528" x2="282" y2="1528" stroke="#8a2a14" stroke-width="2.8" opacity="0.52"/>
<line x1="142" y1="1023" x2="252" y2="1023" stroke="#b24628" stroke-width="3.1" opacity="0.32"/>
<line x1="515" y1="1719" x2="669" y2="1719" stroke="#8e2c18" stroke-width="2.9" opacity="0.50"/>
<line x1="814" y1="1165" x2="923" y2="1165" stroke="#b04426" stroke-width="1.8" opacity="0.56"/>
<line x1="798" y1="1204" x2="847" y2="1204" stroke="#bb5234" stroke-width="3.4" opacity="0.42"/>
<line x1="623" y1="1435" x2="684" y2="1435" stroke="#b04426" stroke-width="1.6" opacity="0.31"/>
<line x1="904" y1="1121" x2="1023" y2="1121" stroke="#8a2a14" stroke-width="1.8" opacity="0.52"/>
<line x1="549" y1="1088" x2="662" y2="1088" stroke="#b04426" stroke-width="3.4" opacity="0.41"/>
<line x1="687" y1="1384" x2="834" y2="1384" stroke="#b04426" stroke-width="3.5" opacity="0.47"/>
<line x1="783" y1="1291" x2="847" y2="1291" stroke="#b04426" stroke-width="2.7" opacity="0.38"/>
<line x1="471" y1="1561" x2="524" y2="1561" stroke="#b24628" stroke-width="3.4" opacity="0.35"/>
<line x1="356" y1="1380" x2="511" y2="1380" stroke="#bb5234" stroke-width="3.4" opacity="0.56"/>
<line x1="738" y1="1538" x2="797" y2="1538" stroke="#b04426" stroke-width="2.7" opacity="0.40"/>
<line x1="868" y1="1377" x2="916" y2="1377" stroke="#8e2c18" stroke-width="2.7" opacity="0.27"/>
<line x1="581" y1="1044" x2="650" y2="1044" stroke="#bb5234" stroke-width="2.2" opacity="0.33"/>
<line x1="600" y1="1429" x2="657" y2="1429" stroke="#bb5234" stroke-width="3.2" opacity="0.31"/>
<line x1="786" y1="1014" x2="908" y2="1014" stroke="#8a2a14" stroke-width="1.7" opacity="0.47"/>
<line x1="769" y1="1638" x2="851" y2="1638" stroke="#b04426" stroke-width="3.4" opacity="0.27"/>
<line x1="866" y1="1602" x2="973" y2="1602" stroke="#bb5234" stroke-width="2.4" opacity="0.58"/>
<line x1="302" y1="1538" x2="449" y2="1538" stroke="#b54a2c" stroke-width="1.6" opacity="0.26"/>
<line x1="223" y1="1139" x2="372" y2="1139" stroke="#b54a2c" stroke-width="1.5" opacity="0.44"/>
<line x1="209" y1="1689" x2="265" y2="1689" stroke="#bb5234" stroke-width="2.8" opacity="0.48"/>
<line x1="621" y1="1306" x2="717" y2="1306" stroke="#b54a2c" stroke-width="2.1" opacity="0.27"/>
<line x1="770" y1="1651" x2="893" y2="1651" stroke="#b54a2c" stroke-width="2.3" opacity="0.40"/>
<line x1="154" y1="1668" x2="270" y2="1668" stroke="#8e2c18" stroke-width="2.0" opacity="0.29"/>
<line x1="118" y1="1173" x2="192" y2="1173" stroke="#b24628" stroke-width="3.4" opacity="0.58"/>
<line x1="130" y1="1196" x2="243" y2="1196" stroke="#b24628" stroke-width="2.4" opacity="0.53"/>
<line x1="316" y1="1385" x2="430" y2="1385" stroke="#8e2c18" stroke-width="1.7" opacity="0.43"/>
<line x1="877" y1="1128" x2="1016" y2="1128" stroke="#8e2c18" stroke-width="3.4" opacity="0.51"/>
<line x1="855" y1="1242" x2="928" y2="1242" stroke="#8e2c18" stroke-width="2.3" opacity="0.55"/>
<line x1="944" y1="1675" x2="1083" y2="1675" stroke="#bb5234" stroke-width="2.4" opacity="0.54"/>
<line x1="835" y1="1512" x2="922" y2="1512" stroke="#b24628" stroke-width="2.0" opacity="0.56"/>
<line x1="427" y1="1579" x2="533" y2="1579" stroke="#bb5234" stroke-width="3.3" opacity="0.30"/>
<line x1="177" y1="1024" x2="328" y2="1024" stroke="#b04426" stroke-width="3.5" opacity="0.50"/>
<line x1="205" y1="1026" x2="319" y2="1026" stroke="#b54a2c" stroke-width="2.9" opacity="0.51"/>
<line x1="601" y1="1052" x2="678" y2="1052" stroke="#bb5234" stroke-width="3.3" opacity="0.27"/>
<line x1="885" y1="1636" x2="1038" y2="1636" stroke="#b54a2c" stroke-width="2.0" opacity="0.32"/>
<line x1="916" y1="1029" x2="1064" y2="1029" stroke="#b24628" stroke-width="1.7" opacity="0.51"/>
<line x1="502" y1="1464" x2="549" y2="1464" stroke="#b24628" stroke-width="1.9" opacity="0.36"/>
<line x1="102" y1="1313" x2="166" y2="1313" stroke="#b04426" stroke-width="1.6" opacity="0.52"/>
<line x1="758" y1="1667" x2="866" y2="1667" stroke="#8a2a14" stroke-width="3.2" opacity="0.47"/>
<line x1="446" y1="1027" x2="532" y2="1027" stroke="#b54a2c" stroke-width="2.2" opacity="0.50"/>
<line x1="274" y1="1396" x2="416" y2="1396" stroke="#b54a2c" stroke-width="2.6" opacity="0.35"/>
<line x1="543" y1="1321" x2="610" y2="1321" stroke="#b54a2c" stroke-width="1.5" opacity="0.42"/>
<line x1="782" y1="1362" x2="836" y2="1362" stroke="#8a2a14" stroke-width="2.7" opacity="0.59"/>
<line x1="590" y1="1379" x2="641" y2="1379" stroke="#8e2c18" stroke-width="3.4" opacity="0.33"/>
<line x1="906" y1="1125" x2="1036" y2="1125" stroke="#8a2a14" stroke-width="3.1" opacity="0.49"/>
<line x1="634" y1="1577" x2="710" y2="1577" stroke="#8a2a14" stroke-width="3.4" opacity="0.56"/>
<line x1="454" y1="1547" x2="568" y2="1547" stroke="#b04426" stroke-width="1.9" opacity="0.34"/>
<line x1="523" y1="1660" x2="602" y2="1660" stroke="#b24628" stroke-width="2.0" opacity="0.41"/>
<line x1="745" y1="1391" x2="873" y2="1391" stroke="#b24628" stroke-width="1.6" opacity="0.45"/>
<line x1="844" y1="1384" x2="933" y2="1384" stroke="#bb5234" stroke-width="3.0" opacity="0.31"/>
<line x1="762" y1="1323" x2="867" y2="1323" stroke="#8e2c18" stroke-width="2.2" opacity="0.47"/>
<line x1="529" y1="1511" x2="594" y2="1511" stroke="#b24628" stroke-width="3.2" opacity="0.47"/>
<line x1="938" y1="1531" x2="1062" y2="1531" stroke="#bb5234" stroke-width="2.5" opacity="0.31"/>
<line x1="250" y1="1243" x2="407" y2="1243" stroke="#b24628" stroke-width="3.5" opacity="0.31"/>
<line x1="255" y1="1483" x2="305" y2="1483" stroke="#8e2c18" stroke-width="3.1" opacity="0.51"/>
<line x1="256" y1="1321" x2="369" y2="1321" stroke="#b54a2c" stroke-width="2.1" opacity="0.56"/>
<line x1="95" y1="1342" x2="236" y2="1342" stroke="#8a2a14" stroke-width="2.9" opacity="0.43"/>
<line x1="490" y1="1464" x2="538" y2="1464" stroke="#bb5234" stroke-width="3.0" opacity="0.25"/>
<line x1="831" y1="1180" x2="952" y2="1180" stroke="#bb5234" stroke-width="3.0" opacity="0.40"/>
<line x1="717" y1="1170" x2="861" y2="1170" stroke="#b24628" stroke-width="2.9" opacity="0.55"/>
<line x1="646" y1="1499" x2="735" y2="1499" stroke="#b04426" stroke-width="2.0" opacity="0.50"/>
<line x1="296" y1="1655" x2="378" y2="1655" stroke="#b24628" stroke-width="2.8" opacity="0.34"/>
<line x1="483" y1="1312" x2="594" y2="1312" stroke="#8a2a14" stroke-width="2.5" opacity="0.48"/>
<line x1="868" y1="1640" x2="940" y2="1640" stroke="#b54a2c" stroke-width="2.3" opacity="0.42"/>
<line x1="117" y1="1714" x2="218" y2="1714" stroke="#8e2c18" stroke-width="2.9" opacity="0.58"/>
<line x1="389" y1="1149" x2="529" y2="1149" stroke="#8a2a14" stroke-width="2.6" opacity="0.50"/>
<line x1="644" y1="1377" x2="782" y2="1377" stroke="#bb5234" stroke-width="2.2" opacity="0.51"/>
<line x1="951" y1="1337" x2="1005" y2="1337" stroke="#bb5234" stroke-width="3.0" opacity="0.29"/>
<line x1="395" y1="1721" x2="433" y2="1721" stroke="#b04426" stroke-width="2.3" opacity="0.27"/>
<line x1="886" y1="1059" x2="998" y2="1059" stroke="#b24628" stroke-width="2.2" opacity="0.34"/>
<line x1="734" y1="1167" x2="886" y2="1167" stroke="#bb5234" stroke-width="3.4" opacity="0.60"/>
<line x1="489" y1="1703" x2="540" y2="1703" stroke="#b54a2c" stroke-width="3.1" opacity="0.47"/>
<line x1="576" y1="1346" x2="636" y2="1346" stroke="#8e2c18" stroke-width="2.2" opacity="0.47"/>
<line x1="799" y1="1600" x2="890" y2="1600" stroke="#b04426" stroke-width="3.0" opacity="0.48"/>
<line x1="495" y1="1572" x2="627" y2="1572" stroke="#8e2c18" stroke-width="2.0" opacity="0.38"/>
<line x1="457" y1="1189" x2="511" y2="1189" stroke="#b54a2c" stroke-width="3.1" opacity="0.53"/>
<line x1="657" y1="1265" x2="729" y2="1265" stroke="#8a2a14" stroke-width="2.4" opacity="0.47"/>
<line x1="401" y1="1484" x2="552" y2="1484" stroke="#8a2a14" stroke-width="1.6" opacity="0.54"/>
<line x1="771" y1="1663" x2="819" y2="1663" stroke="#b04426" stroke-width="2.8" opacity="0.26"/>
<line x1="918" y1="1012" x2="1033" y2="1012" stroke="#b04426" stroke-width="2.7" opacity="0.45"/>
<line x1="247" y1="1626" x2="335" y2="1626" stroke="#8e2c18" stroke-width="1.9" opacity="0.39"/>
<line x1="618" y1="1393" x2="737" y2="1393" stroke="#b54a2c" stroke-width="2.8" opacity="0.56"/>
<line x1="819" y1="1578" x2="874" y2="1578" stroke="#b24628" stroke-width="1.9" opacity="0.28"/>
<line x1="672" y1="1615" x2="717" y2="1615" stroke="#b54a2c" stroke-width="2.0" opacity="0.33"/>
<line x1="516" y1="1105" x2="554" y2="1105" stroke="#8a2a14" stroke-width="3.3" opacity="0.50"/>
<line x1="228" y1="1184" x2="336" y2="1184" stroke="#b24628" stroke-width="1.5" opacity="0.54"/>
<line x1="577" y1="1345" x2="693" y2="1345" stroke="#8a2a14" stroke-width="2.2" opacity="0.40"/>
<line x1="150" y1="1703" x2="263" y2="1703" stroke="#b24628" stroke-width="2.8" opacity="0.26"/>
<line x1="729" y1="1037" x2="889" y2="1037" stroke="#b54a2c" stroke-width="2.5" opacity="0.42"/>
<line x1="114" y1="1657" x2="237" y2="1657" stroke="#b24628" stroke-width="1.8" opacity="0.28"/>
<line x1="383" y1="1484" x2="514" y2="1484" stroke="#bb5234" stroke-width="3.0" opacity="0.32"/>
<line x1="454" y1="1321" x2="556" y2="1321" stroke="#b04426" stroke-width="2.1" opacity="0.54"/>
<line x1="525" y1="1298" x2="591" y2="1298" stroke="#bb5234" stroke-width="2.2" opacity="0.32"/>
<line x1="187" y1="1362" x2="242" y2="1362" stroke="#b24628" stroke-width="2.1" opacity="0.46"/>
<line x1="771" y1="1466" x2="806" y2="1466" stroke="#b24628" stroke-width="2.6" opacity="0.39"/>
<line x1="433" y1="1422" x2="477" y2="1422" stroke="#b54a2c" stroke-width="1.9" opacity="0.57"/>
<line x1="660" y1="1447" x2="793" y2="1447" stroke="#bb5234" stroke-width="2.7" opacity="0.47"/>
<line x1="694" y1="1460" x2="802" y2="1460" stroke="#b24628" stroke-width="1.7" opacity="0.26"/>
<line x1="632" y1="1465" x2="684" y2="1465" stroke="#b24628" stroke-width="1.9" opacity="0.26"/>
<line x1="885" y1="1568" x2="1000" y2="1568" stroke="#b04426" stroke-width="3.2" opacity="0.30"/>
<line x1="972" y1="1128" x2="892" y2="1198" stroke="#5a1a0a" stroke-width="4" opacity="0.75" filter="url(#b1)"/>
<polygon points="298.0,1090.0 315.0,1080.0 335.0,1076.0 352.0,1086.0 372.0,1098.0 382.0,1112.0 366.0,1122.0 345.0,1124.0 325.0,1116.0 308.0,1106.0" fill="#e9a862" filter="url(#b4)"/>
<polygon points="316.8,1095.0 326.2,1089.5 337.2,1087.2 346.5,1092.8 357.5,1099.3 363.0,1107.0 354.2,1112.5 342.7,1113.7 331.7,1109.2 322.3,1103.8" fill="#fbe3a8" filter="url(#b6)"/>
<polygon points="84.0,1348.5 104.0,1320.0 132.6,1312.0 156.8,1318.0 175.0,1344.5 177.0,1368.7 160.8,1393.0 136.6,1397.0 112.4,1389.0 84.0,1372.7" fill="#f3c680" filter="url(#b4)"/>
<polygon points="102.4,1351.5 114.8,1333.8 132.5,1328.8 147.5,1332.6 158.8,1349.0 160.0,1364.0 150.0,1379.1 135.0,1381.5 120.0,1376.6 102.4,1366.5" fill="#fde6ac" filter="url(#b6)"/>
<polygon points="84.0,1461.5 120.5,1457.4 152.7,1469.5 150.7,1485.6 132.6,1501.8 108.4,1518.0 84.0,1526.0" fill="#e4a564" filter="url(#b4)"/>
<polygon points="98.0,1472.3 119.9,1469.9 139.2,1477.1 138.0,1486.8 127.2,1496.5 112.6,1506.2 98.0,1511.0" fill="#f0c080" filter="url(#b6)"/>
<polygon points="250,1458 285,1445 290,1455 255,1468" fill="#e0a060" filter="url(#b4)"/>
<polygon points="269.7,1393.0 289.8,1374.8 326.0,1370.7 350.0,1388.9 370.5,1413.0 382.6,1441.3 382.6,1469.5 370.5,1485.6 342.0,1491.7 318.0,1489.7 302.0,1469.5 285.8,1441.3 273.7,1417.0" fill="#f8d48e" filter="url(#b4)"/>
<polygon points="291.8,1408.7 304.3,1397.4 326.7,1394.9 341.6,1406.2 354.3,1421.1 361.8,1438.6 361.8,1456.1 354.3,1466.1 336.7,1469.9 321.8,1468.7 311.9,1456.1 301.8,1438.6 294.3,1423.6" fill="#fffdf0" filter="url(#b6)"/>
<polygon points="410.8,1393.0 427.0,1376.8 455.0,1374.8 483.4,1386.9 499.5,1401.0 493.5,1421.0 479.4,1437.0 455.0,1447.0 435.0,1441.0 418.9,1421.0" fill="#f3c884" filter="url(#b4)"/>
<polygon points="427.9,1399.4 437.9,1389.4 455.3,1388.2 472.9,1395.7 482.9,1404.4 479.2,1416.8 470.4,1426.7 455.3,1432.9 442.9,1429.2 432.9,1416.8" fill="#fde4a8" filter="url(#b6)"/>
<polygon points="737.0,1296.0 769.4,1292.0 801.6,1304.0 825.8,1304.0 850.0,1308.0 878.2,1340.5 882.3,1360.6 866.0,1376.8 842.0,1374.8 817.7,1364.7 793.5,1352.6 769.4,1328.4 749.0,1316.3" fill="#eebb72" filter="url(#b4)"/>
<polygon points="766.3,1309.8 786.3,1307.3 806.3,1314.7 821.3,1314.7 836.3,1317.2 853.8,1337.3 856.3,1349.8 846.2,1359.9 831.4,1358.6 816.3,1352.4 801.3,1344.9 786.3,1329.8 773.7,1322.3" fill="#fadc9c" filter="url(#b6)"/>
<polygon points="846.0,1481.6 874.0,1473.5 906.5,1465.5 934.7,1471.5 942.7,1497.7 930.6,1522.0 934.7,1546.0 946.8,1570.3 930.6,1590.5 898.4,1606.6 878.2,1598.5 850.0,1578.4 825.8,1562.3 838.0,1538.0 842.0,1509.8" fill="#f0c27c" filter="url(#b4)"/>
<polygon points="863.5,1501.6 880.8,1496.5 901.0,1491.6 918.4,1495.3 923.4,1511.5 915.9,1526.6 918.4,1541.5 926.0,1556.6 915.9,1569.1 895.9,1579.1 883.4,1574.0 865.9,1561.6 850.9,1551.6 858.5,1536.5 861.0,1519.1" fill="#fbe0a2" filter="url(#b6)"/>
<polygon points="475.3,1602.6 495.5,1580.4 527.7,1570.3 560.0,1572.3 580.0,1590.5 578.0,1614.7 560.0,1634.8 531.8,1649.0 503.5,1643.0 483.4,1626.8" fill="#f1c47e" filter="url(#b4)"/>
<polygon points="495.9,1604.8 508.4,1591.1 528.4,1584.8 548.4,1586.0 560.8,1597.3 559.6,1612.3 548.4,1624.8 530.9,1633.6 513.4,1629.9 500.9,1619.8" fill="#fce2a6" filter="url(#b6)"/>
<polygon points="588,1639 604,1626.8 632.6,1628.8 628.5,1647 608.4,1659" fill="#dd9b58" filter="url(#b4)"/>
<polygon points="382.6,1735 394.7,1703.4 410.8,1701.4 435,1719.5 443,1735" fill="#eebb74" filter="url(#b4)"/>
<polygon points="620.5,1735 632.6,1719.5 644.7,1721.5 654,1735" fill="#eab46c" filter="url(#b4)"/>
<ellipse cx="773.4" cy="1512.0" rx="12" ry="13" fill="#e6a866" filter="url(#b4)" opacity="1"/>
<ellipse cx="118.5" cy="1614.0" rx="10" ry="6" fill="#fff0d0" filter="url(#b2)" opacity="1"/>
<ellipse cx="956.9" cy="1592.5" rx="9" ry="7" fill="#f8d9a0" filter="url(#b2)" opacity="1"/>
<ellipse cx="588.0" cy="1467.5" rx="9" ry="6" fill="#d68c50" filter="url(#b2)" opacity="1"/>
<ellipse cx="652.7" cy="1683.0" rx="10" ry="5" fill="#e0a060" filter="url(#b2)" opacity="1"/>
<ellipse cx="189.0" cy="1407.0" rx="8" ry="7" fill="#d08548" filter="url(#b4)" opacity="1"/>
<ellipse cx="173.0" cy="1443.0" rx="14" ry="7" fill="#c87a40" filter="url(#b4)" opacity="1" transform="rotate(25 173.0 1443.0)"/>
<ellipse cx="439.0" cy="1653.0" rx="9" ry="6" fill="#cc8044" filter="url(#b4)" opacity="1"/>
<ellipse cx="843.0" cy="1185.0" rx="9" ry="6" fill="#e7b070" filter="url(#b2)" opacity="1" transform="rotate(-20 843.0 1185.0)"/>
<ellipse cx="648.4" cy="1683.0" rx="10" ry="5" fill="#dd9a58" filter="url(#b2)" opacity="1"/>
<ellipse cx="789.5" cy="1645.0" rx="9" ry="5" fill="#cc8246" filter="url(#b2)" opacity="1"/>
<ellipse cx="793.5" cy="1687.0" rx="12" ry="5" fill="#cf884a" filter="url(#b2)" opacity="1"/>
<ellipse cx="942.7" cy="1687.0" rx="12" ry="6" fill="#d28c4e" filter="url(#b2)" opacity="1"/>
<ellipse cx="636.0" cy="1722.0" rx="8" ry="5" fill="#d9985a" filter="url(#b2)" opacity="1"/>
<ellipse cx="789.5" cy="1733.0" rx="12" ry="4" fill="#e0a466" filter="url(#b2)" opacity="1"/>
<ellipse cx="500.0" cy="1020.0" rx="20" ry="5" fill="#c46a38" filter="url(#b4)" opacity="0.8"/>
<ellipse cx="690.0" cy="1046.0" rx="16" ry="5" fill="#c8703c" filter="url(#b4)" opacity="0.8"/>
<ellipse cx="760.0" cy="1140.0" rx="14" ry="5" fill="#c8703c" filter="url(#b4)" opacity="0.8"/>
<ellipse cx="96.0" cy="1075.0" rx="5" ry="8" fill="#c06030" filter="url(#b2)" opacity="0.8"/>
<ellipse cx="100.0" cy="1180.0" rx="4" ry="7" fill="#b85a2c" filter="url(#b2)" opacity="0.8"/>
<rect x="74" y="998" width="30" height="743" fill="url(#cleft)"/>
<rect x="954" y="998" width="22" height="743" fill="url(#cright)"/>
<rect x="74" y="1731" width="902" height="10" fill="#0a0200"/>
<rect x="74" y="1726" width="902" height="6" fill="#3a0f04" opacity="0.6"/>
<rect x="74" y="998" width="902" height="4" fill="#1a0602"/>
</g>
<line x1="263" y1="1103" x2="402" y2="1103" stroke="#fff6e2" stroke-width="11" stroke-linecap="round"/>
<rect x="976" y="998" width="66" height="743" fill="#1c0d08"/>
<rect x="976" y="1002" width="59.5" height="735" fill="url(#cbar)"/>
<rect x="976" y="1002" width="3" height="735" fill="url(#sepv)" opacity="0.4"/>
<rect x="979" y="1002" width="3" height="735" fill="url(#sepv)" opacity="0.22"/>
<rect x="982" y="1002" width="3" height="735" fill="url(#sepv)" opacity="0.1"/>
<text class="dj" x="1161" y="1049" font-size="45" fill="#2d2d2d" text-anchor="end">16.0</text>
<text class="dj" x="1161" y="1222" font-size="45" fill="#2d2d2d" text-anchor="end">10.0</text>
<text class="dj" x="1161" y="1371" font-size="45" fill="#2d2d2d" text-anchor="end">5.0</text>
<text class="dj" x="1161" y="1516" font-size="45" fill="#2d2d2d" text-anchor="end">0.0</text>
<text class="dj" x="1161" y="1723" font-size="45" fill="#2d2d2d" text-anchor="end">−9.4</text>
<line x1="590.6" y1="1017" x2="590.6" y2="1299" stroke="#f6cdb8" stroke-width="2.8"/>
<line x1="590.6" y1="1285.3" x2="958" y2="1285.3" stroke="#f6cdb8" stroke-width="2.8"/>
<line x1="576.6" y1="1267.0" x2="590.6" y2="1267.0" stroke="#f6cdb8" stroke-width="2.6"/>
<line x1="582.6" y1="1240.3" x2="590.6" y2="1240.3" stroke="#f6cdb8" stroke-width="2.6"/>
<line x1="576.6" y1="1213.7" x2="590.6" y2="1213.7" stroke="#f6cdb8" stroke-width="2.6"/>
<line x1="582.6" y1="1187.0" x2="590.6" y2="1187.0" stroke="#f6cdb8" stroke-width="2.6"/>
<line x1="576.6" y1="1160.4" x2="590.6" y2="1160.4" stroke="#f6cdb8" stroke-width="2.6"/>
<line x1="582.6" y1="1133.8" x2="590.6" y2="1133.8" stroke="#f6cdb8" stroke-width="2.6"/>
<line x1="576.6" y1="1107.1" x2="590.6" y2="1107.1" stroke="#f6cdb8" stroke-width="2.6"/>
<line x1="582.6" y1="1080.5" x2="590.6" y2="1080.5" stroke="#f6cdb8" stroke-width="2.6"/>
<line x1="576.6" y1="1053.8" x2="590.6" y2="1053.8" stroke="#f6cdb8" stroke-width="2.6"/>
<line x1="582.6" y1="1027.2" x2="590.6" y2="1027.2" stroke="#f6cdb8" stroke-width="2.6"/>
<line x1="590.6" y1="1285" x2="590.6" y2="1299" stroke="#f6cdb8" stroke-width="2.6"/>
<line x1="668.7" y1="1285" x2="668.7" y2="1299" stroke="#f6cdb8" stroke-width="2.6"/>
<line x1="746.8" y1="1285" x2="746.8" y2="1299" stroke="#f6cdb8" stroke-width="2.6"/>
<line x1="824.9" y1="1285" x2="824.9" y2="1299" stroke="#f6cdb8" stroke-width="2.6"/>
<line x1="903.0" y1="1285" x2="903.0" y2="1299" stroke="#f6cdb8" stroke-width="2.6"/>
<text x="571" y="1065.8" font-size="32" font-weight="bold" fill="#fde3d2" text-anchor="end">6</text>
<text x="571" y="1118.9" font-size="32" font-weight="bold" fill="#fde3d2" text-anchor="end">4</text>
<text x="571" y="1172.0" font-size="32" font-weight="bold" fill="#fde3d2" text-anchor="end">2</text>
<text x="571" y="1225.5" font-size="32" font-weight="bold" fill="#fde3d2" text-anchor="end">0</text>
<text x="571" y="1278.5" font-size="32" font-weight="bold" fill="#fde3d2" text-anchor="end">-2</text>
<text x="590.6" y="1347" font-size="37" font-weight="bold" fill="#fde7d8" text-anchor="middle">0.0</text>
<text x="668.7" y="1347" font-size="37" font-weight="bold" fill="#fde7d8" text-anchor="middle">0.5</text>
<text x="746.8" y="1347" font-size="37" font-weight="bold" fill="#fde7d8" text-anchor="middle">1.0</text>
<text x="824.9" y="1347" font-size="37" font-weight="bold" fill="#fde7d8" text-anchor="middle" opacity="0.7">1.5</text>
<text x="903.0" y="1347" font-size="37" font-weight="bold" fill="#fde7d8" text-anchor="middle">2.0</text>
<text x="607" y="1410.5" font-size="47" font-weight="bold" fill="#fdeadb" textLength="334" lengthAdjust="spacingAndGlyphs">Distance [μm]</text>
<text transform="translate(516 1287) rotate(-90)" font-size="49" font-weight="bold" fill="#fde6d4" textLength="280" lengthAdjust="spacingAndGlyphs">Height [nm]</text>
<polyline points="590.6,1251.3 592.1,1250.9 594.1,1250.4 596.5,1249.8 598.9,1249.3 601.0,1249.2 602.8,1249.6 604.4,1250.4 605.9,1251.3 607.6,1252.0 609.3,1252.1 611.3,1251.5 613.3,1250.3 615.4,1248.8 617.6,1247.4 619.7,1246.3 621.8,1245.5 624.0,1244.6 626.2,1244.0 628.2,1243.7 630.0,1243.8 631.5,1244.8 632.7,1246.4 633.8,1248.2 635.0,1249.8 636.3,1250.5 637.8,1250.2 639.4,1249.4 641.1,1248.2 642.9,1246.7 644.6,1245.1 646.2,1243.4 647.9,1241.6 649.5,1239.5 651.2,1237.3 652.9,1234.7 654.6,1231.7 656.3,1228.4 658.0,1224.9 659.6,1221.4 661.2,1218.1 662.5,1214.9 663.7,1211.8 664.8,1208.7 666.0,1205.9 667.4,1203.6 668.9,1201.7 670.4,1200.2 672.1,1199.0 673.8,1198.1 675.7,1197.4 677.6,1197.0 679.8,1197.1 681.9,1197.4 684.1,1197.5 686.0,1197.4 687.9,1197.0 689.6,1196.6 691.3,1196.0 692.8,1194.9 694.3,1193.2 695.7,1191.0 696.9,1188.3 698.0,1185.1 699.2,1181.2 700.6,1176.6 702.1,1170.9 703.7,1164.2 705.4,1156.9 707.2,1149.8 708.8,1143.5 710.5,1137.8 712.1,1132.5 713.7,1127.5 715.4,1122.9 717.1,1118.6 719.1,1114.7 721.2,1111.3 723.4,1108.2 725.5,1105.2 727.5,1102.0 729.3,1098.7 731.1,1095.3 732.7,1092.0 734.3,1088.7 735.8,1085.4 737.2,1082.0 738.4,1078.6 739.6,1075.1 740.8,1071.9 742.0,1068.8 743.3,1065.8 744.5,1062.8 745.8,1060.1 747.0,1057.9 748.3,1056.4 749.5,1055.9 750.6,1056.4 751.8,1057.4 753.1,1058.2 754.5,1058.4 755.9,1058.0 757.4,1057.1 759.1,1056.1 760.8,1055.1 762.8,1054.3 765.0,1053.8 767.4,1053.4 770.0,1053.0 772.7,1052.7 775.2,1052.2 777.7,1051.5 780.2,1050.6 782.7,1049.7 785.2,1049.1 787.7,1048.9 790.1,1049.2 792.6,1050.0 795.1,1050.9 797.6,1052.0 800.1,1053.0 802.6,1054.1 805.1,1055.3 807.6,1056.5 810.0,1057.5 812.5,1058.4 815.1,1059.1 817.7,1059.6 820.3,1060.0 822.8,1060.3 825.0,1060.5 826.9,1060.4 828.7,1059.9 830.3,1059.4 831.8,1059.3 833.3,1059.7 834.7,1060.6 835.9,1061.9 837.1,1063.5 838.3,1065.8 839.5,1068.8 840.7,1072.6 842.0,1077.0 843.2,1082.1 844.5,1087.7 845.7,1093.7 847.0,1100.2 848.2,1107.3 849.4,1114.9 850.7,1122.8 851.9,1131.0 853.2,1139.7 854.4,1148.9 855.7,1158.3 856.9,1167.6 858.2,1176.6 859.4,1185.5 860.6,1194.4 861.9,1203.1 863.1,1211.1 864.4,1218.1 865.6,1224.1 866.8,1229.3 868.0,1233.7 869.2,1237.6 870.6,1240.9 872.2,1243.5 873.9,1245.4 875.6,1246.7 877.3,1247.9 878.9,1249.2 880.2,1250.6 881.3,1251.8 882.4,1252.9 883.6,1254.1 885.1,1255.4 887.0,1257.0 889.1,1258.8 891.3,1260.6 893.5,1262.3 895.5,1263.7 897.3,1264.9 899.0,1266.0 900.6,1266.9 902.2,1267.6 903.8,1267.9 905.4,1267.6 907.1,1266.9 908.8,1266.0 910.4,1265.2 912.1,1265.0 913.7,1265.3 915.3,1265.9 916.9,1266.7 918.6,1267.7 920.4,1268.7 922.3,1270.0 924.4,1271.6 926.5,1273.3 928.6,1274.6 930.7,1275.3 932.7,1275.3 934.6,1274.7 936.5,1273.7 938.6,1272.8 941.1,1272.0 944.3,1271.5 948.1,1271.0 952.0,1270.6 955.3,1270.2 957.7,1270.0" fill="none" stroke="#fff0e2" stroke-width="5.4" stroke-linejoin="round" stroke-linecap="round"/>
<text x="908" y="1085" font-size="106" fill="#fff1e4" text-anchor="middle">(c)</text>
<rect x="141" y="1627.5" width="117" height="9" fill="#f8d2bc"/>
<text class="dj" x="137" y="1691" font-size="48" fill="#f4c7ad" textLength="121" lengthAdjust="spacingAndGlyphs">2 μm</text>
</g>
<g id="panel-d" class="k">
<rect x="1504.0" y="1528.7" width="43.9" height="159.8" fill="#fd9a3e" stroke="#4a3420" stroke-width="1.6"/>
<rect x="1547.9" y="1369.6" width="43.9" height="318.9" fill="#fd9a3e" stroke="#4a3420" stroke-width="1.6"/>
<rect x="1591.8" y="1016.8" width="43.9" height="671.7" fill="#fd9a3e" stroke="#4a3420" stroke-width="1.6"/>
<rect x="1635.7" y="1066.0" width="43.9" height="622.5" fill="#fd9a3e" stroke="#4a3420" stroke-width="1.6"/>
<rect x="1679.6" y="1290.0" width="43.9" height="398.5" fill="#fd9a3e" stroke="#4a3420" stroke-width="1.6"/>
<rect x="1723.5" y="1513.6" width="43.9" height="174.9" fill="#fd9a3e" stroke="#4a3420" stroke-width="1.6"/>
<rect x="1767.4" y="1637.0" width="43.9" height="51.5" fill="#fd9a3e" stroke="#4a3420" stroke-width="1.6"/>
<rect x="1811.3" y="1587.0" width="43.9" height="101.5" fill="#fd9a3e" stroke="#4a3420" stroke-width="1.6"/>
<rect x="1855.2" y="1591.4" width="43.9" height="97.1" fill="#fd9a3e" stroke="#4a3420" stroke-width="1.6"/>
<rect x="1899.1" y="1661.0" width="43.9" height="27.5" fill="#fd9a3e" stroke="#4a3420" stroke-width="1.6"/>
<rect x="1943.0" y="1668.6" width="43.9" height="19.9" fill="#fd9a3e" stroke="#4a3420" stroke-width="1.6"/>
<rect x="1986.9" y="1627.8" width="43.9" height="60.7" fill="#fd9a3e" stroke="#4a3420" stroke-width="1.6"/>
<rect x="2030.8" y="1661.0" width="43.9" height="27.5" fill="#fd9a3e" stroke="#4a3420" stroke-width="1.6"/>
<rect x="2074.7" y="1668.6" width="43.9" height="19.9" fill="#fd9a3e" stroke="#4a3420" stroke-width="1.6"/>
<rect x="2118.6" y="1676.7" width="43.9" height="11.8" fill="#fd9a3e" stroke="#4a3420" stroke-width="1.6"/>
<rect x="2162.5" y="1668.6" width="43.9" height="19.9" fill="#fd9a3e" stroke="#4a3420" stroke-width="1.6"/>
<line x1="1412.3" y1="946" x2="1412.3" y2="1690.5" stroke="#6a6a6a" stroke-width="2.4"/>
<line x1="1396" y1="1688.5" x2="2206" y2="1688.5" stroke="#74747a" stroke-width="5.5"/>
<line x1="1396" y1="1092.6" x2="1412" y2="1092.6" stroke="#6a6a6a" stroke-width="2.4"/>
<line x1="1396" y1="1247" x2="1412" y2="1247" stroke="#6a6a6a" stroke-width="2.4"/>
<line x1="1396" y1="1401.5" x2="1412" y2="1401.5" stroke="#6a6a6a" stroke-width="2.4"/>
<line x1="1396" y1="1555.6" x2="1412" y2="1555.6" stroke="#6a6a6a" stroke-width="2.4"/>
<line x1="1591.8" y1="1688.5" x2="1591.8" y2="1707.5" stroke="#6a6a6a" stroke-width="2.4"/>
<line x1="1811.3" y1="1688.5" x2="1811.3" y2="1707.5" stroke="#6a6a6a" stroke-width="2.4"/>
<line x1="2030.8" y1="1688.5" x2="2030.8" y2="1707.5" stroke="#6a6a6a" stroke-width="2.4"/>
<polyline points="1415.0,1660.4 1417.0,1660.4 1419.0,1660.4 1421.0,1660.4 1423.0,1660.4 1425.0,1660.4 1427.0,1660.4 1429.0,1660.4 1431.0,1660.4 1433.0,1660.4 1435.0,1660.4 1437.0,1660.4 1439.0,1660.4 1441.0,1660.4 1443.0,1660.4 1445.0,1660.4 1447.0,1660.4 1449.0,1660.4 1451.0,1660.4 1453.0,1660.4 1455.0,1660.4 1457.0,1660.4 1459.0,1660.4 1461.0,1660.4 1463.0,1660.4 1465.0,1660.4 1467.0,1660.4 1469.0,1660.3 1471.0,1660.3 1473.0,1660.2 1475.0,1660.2 1477.0,1660.1 1479.0,1659.9 1481.0,1659.8 1483.0,1659.5 1485.0,1659.2 1487.0,1658.8 1489.0,1658.3 1491.0,1657.6 1493.0,1656.8 1495.0,1655.8 1497.0,1654.6 1499.0,1653.1 1501.0,1651.3 1503.0,1649.2 1505.0,1646.6 1507.0,1643.7 1509.0,1640.2 1511.0,1636.2 1513.0,1631.7 1515.0,1626.5 1517.0,1620.7 1519.0,1614.1 1521.0,1606.8 1523.0,1598.7 1525.0,1589.7 1527.0,1580.0 1529.0,1569.3 1531.0,1557.8 1533.0,1545.4 1535.0,1532.1 1537.0,1518.0 1539.0,1503.0 1541.0,1487.2 1543.0,1470.5 1545.0,1453.2 1547.0,1435.1 1549.0,1416.4 1551.0,1397.1 1553.0,1377.3 1555.0,1357.1 1557.0,1336.5 1559.0,1315.7 1561.0,1294.7 1563.0,1273.6 1565.0,1252.6 1567.0,1231.6 1569.0,1210.8 1571.0,1190.3 1573.0,1170.2 1575.0,1150.5 1577.0,1131.4 1579.0,1112.9 1581.0,1095.1 1583.0,1078.1 1585.0,1062.0 1587.0,1046.7 1589.0,1032.4 1591.0,1019.1 1593.0,1006.8 1595.0,995.6 1597.0,985.6 1599.0,976.6 1601.0,968.8 1603.0,962.1 1605.0,956.6 1607.0,952.3 1609.0,949.1 1611.0,947.0 1613.0,946.1 1615.0,946.2 1617.0,947.4 1619.0,949.5 1621.0,952.7 1623.0,956.7 1625.0,961.7 1627.0,967.5 1629.0,974.1 1631.0,981.5 1633.0,989.7 1635.0,998.4 1637.0,1007.9 1639.0,1017.9 1641.0,1028.4 1643.0,1039.4 1645.0,1050.9 1647.0,1062.7 1649.0,1074.9 1651.0,1087.4 1653.0,1100.2 1655.0,1113.2 1657.0,1126.4 1659.0,1139.7 1661.0,1153.1 1663.0,1166.6 1665.0,1180.1 1667.0,1193.7 1669.0,1207.2 1671.0,1220.6 1673.0,1234.0 1675.0,1247.3 1677.0,1260.5 1679.0,1273.5 1681.0,1286.3 1683.0,1299.0 1685.0,1311.5 1687.0,1323.7 1689.0,1335.8 1691.0,1347.6 1693.0,1359.1 1695.0,1370.4 1697.0,1381.5 1699.0,1392.2 1701.0,1402.7 1703.0,1413.0 1705.0,1422.9 1707.0,1432.6 1709.0,1442.0 1711.0,1451.1 1713.0,1459.9 1715.0,1468.5 1717.0,1476.7 1719.0,1484.7 1721.0,1492.4 1723.0,1499.9 1725.0,1507.1 1727.0,1514.0 1729.0,1520.7 1731.0,1527.1 1733.0,1533.3 1735.0,1539.3 1737.0,1545.0 1739.0,1550.4 1741.0,1555.7 1743.0,1560.8 1745.0,1565.6 1747.0,1570.2 1749.0,1574.7 1751.0,1578.9 1753.0,1583.0 1755.0,1586.8 1757.0,1590.6 1759.0,1594.1 1761.0,1597.5 1763.0,1600.7 1765.0,1603.8 1767.0,1606.7 1769.0,1609.5 1771.0,1612.2 1773.0,1614.7 1775.0,1617.1 1777.0,1619.4 1779.0,1621.6 1781.0,1623.7 1783.0,1625.7 1785.0,1627.6 1787.0,1629.3 1789.0,1631.0 1791.0,1632.6 1793.0,1634.2 1795.0,1635.6 1797.0,1637.0 1799.0,1638.3 1801.0,1639.5 1803.0,1640.7 1805.0,1641.8 1807.0,1642.8 1809.0,1643.8 1811.0,1644.8 1813.0,1645.6 1815.0,1646.5 1817.0,1647.3 1819.0,1648.0 1821.0,1648.7 1823.0,1649.4 1825.0,1650.0 1827.0,1650.6 1829.0,1651.2 1831.0,1651.7 1833.0,1652.3 1835.0,1652.7 1837.0,1653.2 1839.0,1653.6 1841.0,1654.0 1843.0,1654.4 1845.0,1654.7 1847.0,1655.1 1849.0,1655.4 1851.0,1655.7 1853.0,1656.0 1855.0,1656.2 1857.0,1656.5 1859.0,1656.7 1861.0,1656.9 1863.0,1657.1 1865.0,1657.3 1867.0,1657.5 1869.0,1657.7 1871.0,1657.9 1873.0,1658.0 1875.0,1658.2 1877.0,1658.3 1879.0,1658.4 1881.0,1658.5 1883.0,1658.7 1885.0,1658.8 1887.0,1658.9 1889.0,1659.0 1891.0,1659.0 1893.0,1659.1 1895.0,1659.2 1897.0,1659.3 1899.0,1659.3 1901.0,1659.4 1903.0,1659.5 1905.0,1659.5 1907.0,1659.6 1909.0,1659.6 1911.0,1659.7 1913.0,1659.7 1915.0,1659.8 1917.0,1659.8 1919.0,1659.8 1921.0,1659.9 1923.0,1659.9 1925.0,1659.9 1927.0,1660.0 1929.0,1660.0 1931.0,1660.0 1933.0,1660.0 1935.0,1660.1 1937.0,1660.1 1939.0,1660.1 1941.0,1660.1 1943.0,1660.1 1945.0,1660.2 1947.0,1660.2 1949.0,1660.2 1951.0,1660.2 1953.0,1660.2 1955.0,1660.2 1957.0,1660.2 1959.0,1660.2 1961.0,1660.3 1963.0,1660.3 1965.0,1660.3 1967.0,1660.3 1969.0,1660.3 1971.0,1660.3 1973.0,1660.3 1975.0,1660.3 1977.0,1660.3 1979.0,1660.3 1981.0,1660.3 1983.0,1660.3 1985.0,1660.3 1987.0,1660.3 1989.0,1660.3 1991.0,1660.3 1993.0,1660.3 1995.0,1660.4 1997.0,1660.4 1999.0,1660.4 2001.0,1660.4 2003.0,1660.4 2005.0,1660.4 2007.0,1660.4 2009.0,1660.4 2011.0,1660.4 2013.0,1660.4 2015.0,1660.4 2017.0,1660.4 2019.0,1660.4 2021.0,1660.4 2023.0,1660.4 2025.0,1660.4 2027.0,1660.4 2029.0,1660.4 2031.0,1660.4 2033.0,1660.4 2035.0,1660.4 2037.0,1660.4 2039.0,1660.4 2041.0,1660.4 2043.0,1660.4 2045.0,1660.4 2047.0,1660.4 2049.0,1660.4 2051.0,1660.4 2053.0,1660.4 2055.0,1660.4 2057.0,1660.4 2059.0,1660.4 2061.0,1660.4 2063.0,1660.4 2065.0,1660.4 2067.0,1660.4 2069.0,1660.4 2071.0,1660.4 2073.0,1660.4 2075.0,1660.4 2077.0,1660.4 2079.0,1660.4 2081.0,1660.4 2083.0,1660.4 2085.0,1660.4 2087.0,1660.4 2089.0,1660.4 2091.0,1660.4 2093.0,1660.4 2095.0,1660.4 2097.0,1660.4 2099.0,1660.4 2101.0,1660.4 2103.0,1660.4 2105.0,1660.4 2107.0,1660.4 2109.0,1660.4 2111.0,1660.4 2113.0,1660.4 2115.0,1660.4 2117.0,1660.4 2119.0,1660.4 2121.0,1660.4 2123.0,1660.4 2125.0,1660.4 2127.0,1660.4 2129.0,1660.4 2131.0,1660.4 2133.0,1660.4 2135.0,1660.4 2137.0,1660.4 2139.0,1660.4 2141.0,1660.4 2143.0,1660.4 2145.0,1660.4 2147.0,1660.4 2149.0,1660.4 2151.0,1660.4 2153.0,1660.4 2155.0,1660.4 2157.0,1660.4 2159.0,1660.4 2161.0,1660.4 2163.0,1660.4 2165.0,1660.4 2167.0,1660.4 2169.0,1660.4 2171.0,1660.4 2173.0,1660.4 2175.0,1660.4 2177.0,1660.4 2179.0,1660.4 2181.0,1660.4 2183.0,1660.4 2185.0,1660.4 2187.0,1660.4 2189.0,1660.4 2191.0,1660.4 2193.0,1660.4 2195.0,1660.4 2197.0,1660.4 2199.0,1660.4 2201.0,1660.4 2203.0,1660.4 2205.0,1660.4" fill="none" stroke="#0a0a0a" stroke-width="3.7" stroke-linejoin="round"/>
<text x="1385" y="1112.1" font-size="56" fill="#101010" text-anchor="end">20</text>
<text x="1385" y="1266.5" font-size="56" fill="#101010" text-anchor="end">15</text>
<text x="1385" y="1421.0" font-size="56" fill="#101010" text-anchor="end">10</text>
<text x="1385" y="1575.1" font-size="56" fill="#101010" text-anchor="end">5</text>
<text x="1385" y="1709.5" font-size="56" fill="#101010" text-anchor="end">0</text>
<text x="1590" y="1759" font-size="56" fill="#101010" text-anchor="middle">5</text>
<text x="1809" y="1759" font-size="56" fill="#101010" text-anchor="middle">10</text>
<text x="2031" y="1759" font-size="56" fill="#101010" text-anchor="middle">15</text>
<text x="1752" y="1812.5" font-size="56.7" fill="#101010" text-anchor="middle">Thickness [nm]</text>
<text transform="translate(1289.5 1342) rotate(-90)" font-size="56" fill="#101010" text-anchor="middle">Counts [%]</text>
<text x="2108.5" y="1082" font-size="106" fill="#060606" text-anchor="middle">(d)</text>
</g>
<g id="panel-e" class="k">
<g clip-path="url(#clipV)" transform="translate(0 3.5)">
<rect x="288.5" y="2137" width="117" height="470" fill="#b7b7ba"/>
<rect x="288.5" y="2137" width="117" height="90" fill="#c6c6c9"/>
<rect x="292" y="2228" width="113.5" height="188" fill="url(#glass)"/>
<rect x="299" y="2262" width="7" height="140" fill="#ececf0" opacity="0.75" filter="url(#b2)"/>
<rect x="391" y="2275" width="6" height="110" fill="#e6e6ea" opacity="0.55" filter="url(#b2)"/>
<rect x="292" y="2385" width="113.5" height="30" fill="#b0b0b2" opacity="0.45" filter="url(#b4)"/>
<rect x="293" y="2213" width="112.5" height="20" fill="#6f6f73"/>
<rect x="296" y="2219" width="106" height="5" fill="#d9d9dc" opacity="0.85" filter="url(#b1)"/>
<rect x="294" y="2229" width="110" height="4.5" fill="#37373b" opacity="0.85" filter="url(#b1)"/>
<rect x="298" y="2236" width="102" height="5" fill="#e4e4e8" opacity="0.6" filter="url(#b2)"/>
<path d="M296,2217 L296,2160 Q297,2144 318,2142 L384,2142 Q405,2144 406,2160 L406,2217 Z" fill="url(#capg)"/>
<ellipse cx="351" cy="2149" rx="48" ry="6" fill="#2c2c31" opacity="0.9"/>
<path d="M292,2413 L405.5,2413 L405.5,2578 Q405.5,2594 389,2594 L308,2594 Q292,2594 292,2578 Z" fill="url(#liq)"/>
<rect x="292" y="2413" width="113.5" height="181" fill="url(#liqx)"/>
<rect x="292" y="2409" width="113.5" height="9" fill="#77705f" opacity="0.85" filter="url(#b2)"/>
<rect x="288.5" y="2596" width="117" height="11" fill="#a3a3a5" opacity="0.8" filter="url(#b2)"/>
</g>
<line x1="250.3" y1="1821" x2="250.3" y2="2660.5" stroke="#2e2e2e" stroke-width="3.8"/>
<line x1="248.4" y1="2658.4" x2="772.3" y2="2658.4" stroke="#2e2e2e" stroke-width="4.2"/>
<line x1="268.8" y1="2658" x2="268.8" y2="2684.8" stroke="#2e2e2e" stroke-width="3.8"/>
<line x1="293.9" y1="2658" x2="293.9" y2="2674.3" stroke="#2e2e2e" stroke-width="3.8"/>
<line x1="319.0" y1="2658" x2="319.0" y2="2674.3" stroke="#2e2e2e" stroke-width="3.8"/>
<line x1="344.0" y1="2658" x2="344.0" y2="2674.3" stroke="#2e2e2e" stroke-width="3.8"/>
<line x1="369.1" y1="2658" x2="369.1" y2="2674.3" stroke="#2e2e2e" stroke-width="3.8"/>
<line x1="394.2" y1="2658" x2="394.2" y2="2684.8" stroke="#2e2e2e" stroke-width="3.8"/>
<line x1="419.3" y1="2658" x2="419.3" y2="2674.3" stroke="#2e2e2e" stroke-width="3.8"/>
<line x1="444.4" y1="2658" x2="444.4" y2="2674.3" stroke="#2e2e2e" stroke-width="3.8"/>
<line x1="469.4" y1="2658" x2="469.4" y2="2674.3" stroke="#2e2e2e" stroke-width="3.8"/>
<line x1="494.5" y1="2658" x2="494.5" y2="2674.3" stroke="#2e2e2e" stroke-width="3.8"/>
<line x1="519.6" y1="2658" x2="519.6" y2="2684.8" stroke="#2e2e2e" stroke-width="3.8"/>
<line x1="544.7" y1="2658" x2="544.7" y2="2674.3" stroke="#2e2e2e" stroke-width="3.8"/>
<line x1="569.8" y1="2658" x2="569.8" y2="2674.3" stroke="#2e2e2e" stroke-width="3.8"/>
<line x1="594.8" y1="2658" x2="594.8" y2="2674.3" stroke="#2e2e2e" stroke-width="3.8"/>
<line x1="619.9" y1="2658" x2="619.9" y2="2674.3" stroke="#2e2e2e" stroke-width="3.8"/>
<line x1="645.0" y1="2658" x2="645.0" y2="2684.8" stroke="#2e2e2e" stroke-width="3.8"/>
<line x1="670.1" y1="2658" x2="670.1" y2="2674.3" stroke="#2e2e2e" stroke-width="3.8"/>
<line x1="695.2" y1="2658" x2="695.2" y2="2674.3" stroke="#2e2e2e" stroke-width="3.8"/>
<line x1="720.2" y1="2658" x2="720.2" y2="2674.3" stroke="#2e2e2e" stroke-width="3.8"/>
<line x1="745.3" y1="2658" x2="745.3" y2="2674.3" stroke="#2e2e2e" stroke-width="3.8"/>
<line x1="770.4" y1="2658" x2="770.4" y2="2684.8" stroke="#2e2e2e" stroke-width="3.8"/>
<text x="268.5" y="2742.6" font-size="56" fill="#0c0c0c" text-anchor="middle">400</text>
<text x="394" y="2742.6" font-size="56" fill="#0c0c0c" text-anchor="middle">500</text>
<text x="518" y="2742.6" font-size="56" fill="#0c0c0c" text-anchor="middle">600</text>
<text x="644" y="2742.6" font-size="56" fill="#0c0c0c" text-anchor="middle">700</text>
<text x="504.5" y="2812" font-size="63.6" fill="#0c0c0c" text-anchor="middle">Wavelength [nm]</text>
<text transform="translate(218 2265) rotate(-90)" font-size="59.5" fill="#0c0c0c" text-anchor="middle">Absorbance [Arb. Units]</text>
<path d="M255.5,1944.5 C257.3,1942.1 262.0,1934.1 265.9,1930.0 C269.8,1925.8 274.5,1922.4 278.9,1919.6 C283.2,1916.8 288.4,1916.0 291.8,1913.4 C295.3,1910.8 297.0,1908.2 299.6,1904.1 C302.2,1899.9 304.3,1895.4 307.4,1888.5 C310.4,1881.6 314.3,1870.8 317.7,1862.6 C321.2,1854.4 324.7,1845.3 328.1,1839.3 C331.6,1833.2 335.0,1828.6 338.5,1826.3 C341.9,1824.0 346.3,1825.9 348.8,1825.3 C351.4,1824.6 351.9,1822.1 354.0,1822.1 C356.2,1822.1 359.2,1824.1 361.8,1825.3 C364.4,1826.4 366.6,1826.1 369.6,1828.9 C372.6,1831.6 376.5,1835.4 380.0,1841.8 C383.4,1848.3 386.9,1858.3 390.3,1867.8 C393.8,1877.3 397.2,1888.1 400.7,1898.9 C404.1,1909.7 407.6,1920.5 411.1,1932.6 C414.5,1944.7 418.0,1958.9 421.4,1971.5 C424.9,1984.0 428.3,1995.6 431.8,2007.7 C435.3,2019.8 438.7,2032.8 442.2,2044.0 C445.6,2055.3 449.1,2065.6 452.5,2075.1 C456.0,2084.6 459.4,2091.6 462.9,2101.1 C466.4,2110.6 469.8,2121.8 473.3,2132.2 C476.7,2142.5 480.6,2153.3 483.6,2163.3 C486.7,2173.2 488.8,2183.0 491.4,2191.8 C494.0,2200.6 497.0,2212.1 499.2,2216.1 C501.4,2220.2 502.2,2220.2 504.4,2216.1 C506.5,2212.1 509.6,2201.5 512.2,2191.8 C514.7,2182.1 517.3,2168.0 519.9,2158.1 C522.5,2148.1 525.1,2137.8 527.7,2132.2 C530.3,2126.5 532.9,2124.0 535.5,2124.4 C538.1,2124.8 540.7,2129.1 543.3,2134.8 C545.8,2140.4 548.4,2149.0 551.0,2158.1 C553.6,2167.2 556.2,2178.8 558.8,2189.2 C561.4,2199.6 564.0,2211.2 566.6,2220.3 C569.2,2229.4 571.9,2239.7 574.4,2243.6 C576.8,2247.5 578.9,2247.5 581.1,2243.6 C583.3,2239.7 585.0,2235.4 587.3,2220.3 C589.7,2205.2 592.5,2174.5 595.1,2152.9 C597.7,2131.3 600.3,2104.5 602.9,2090.7 C605.5,2076.9 608.1,2070.4 610.7,2070.0 C613.2,2069.5 615.8,2077.7 618.4,2088.1 C621.0,2098.5 623.6,2117.9 626.2,2132.2 C628.8,2146.4 631.0,2158.1 634.0,2173.6 C637.0,2189.2 642.6,2215.9 644.4,2225.5 C646.1,2235.1 642.2,2220.7 644.4,2231.1 C646.5,2241.5 653.0,2270.0 657.3,2288.1 C661.6,2306.3 666.4,2325.3 670.3,2340.0 C674.2,2354.7 677.6,2365.0 680.6,2376.3 C683.7,2387.5 685.0,2394.4 688.4,2407.4 C691.9,2420.3 695.8,2435.0 701.4,2454.0 C707.0,2473.0 715.6,2499.4 722.1,2521.4 C728.6,2543.5 734.4,2565.1 740.3,2586.2 C746.1,2607.4 754.5,2638.1 757.4,2648.4" fill="none" stroke="#f3b8ae" stroke-width="4.5" stroke-linejoin="round" opacity="0.6"/>
<path d="M255.5,1944.5 C257.3,1942.1 262.0,1934.1 265.9,1930.0 C269.8,1925.8 274.5,1922.4 278.9,1919.6 C283.2,1916.8 288.4,1916.0 291.8,1913.4 C295.3,1910.8 297.0,1908.2 299.6,1904.1 C302.2,1899.9 304.3,1895.4 307.4,1888.5 C310.4,1881.6 314.3,1870.8 317.7,1862.6 C321.2,1854.4 324.7,1845.3 328.1,1839.3 C331.6,1833.2 335.0,1828.6 338.5,1826.3 C341.9,1824.0 346.3,1825.9 348.8,1825.3 C351.4,1824.6 351.9,1822.1 354.0,1822.1 C356.2,1822.1 359.2,1824.1 361.8,1825.3 C364.4,1826.4 366.6,1826.1 369.6,1828.9 C372.6,1831.6 376.5,1835.4 380.0,1841.8 C383.4,1848.3 386.9,1858.3 390.3,1867.8 C393.8,1877.3 397.2,1888.1 400.7,1898.9 C404.1,1909.7 407.6,1920.5 411.1,1932.6 C414.5,1944.7 418.0,1958.9 421.4,1971.5 C424.9,1984.0 428.3,1995.6 431.8,2007.7 C435.3,2019.8 438.7,2032.8 442.2,2044.0 C445.6,2055.3 449.1,2065.6 452.5,2075.1 C456.0,2084.6 459.4,2091.6 462.9,2101.1 C466.4,2110.6 469.8,2121.8 473.3,2132.2 C476.7,2142.5 480.6,2153.3 483.6,2163.3 C486.7,2173.2 488.8,2183.0 491.4,2191.8 C494.0,2200.6 497.0,2212.1 499.2,2216.1 C501.4,2220.2 502.2,2220.2 504.4,2216.1 C506.5,2212.1 509.6,2201.5 512.2,2191.8 C514.7,2182.1 517.3,2168.0 519.9,2158.1 C522.5,2148.1 525.1,2137.8 527.7,2132.2 C530.3,2126.5 532.9,2124.0 535.5,2124.4 C538.1,2124.8 540.7,2129.1 543.3,2134.8 C545.8,2140.4 548.4,2149.0 551.0,2158.1 C553.6,2167.2 556.2,2178.8 558.8,2189.2 C561.4,2199.6 564.0,2211.2 566.6,2220.3 C569.2,2229.4 571.9,2239.7 574.4,2243.6 C576.8,2247.5 578.9,2247.5 581.1,2243.6 C583.3,2239.7 585.0,2235.4 587.3,2220.3 C589.7,2205.2 592.5,2174.5 595.1,2152.9 C597.7,2131.3 600.3,2104.5 602.9,2090.7 C605.5,2076.9 608.1,2070.4 610.7,2070.0 C613.2,2069.5 615.8,2077.7 618.4,2088.1 C621.0,2098.5 623.6,2117.9 626.2,2132.2 C628.8,2146.4 631.0,2158.1 634.0,2173.6 C637.0,2189.2 642.6,2215.9 644.4,2225.5 C646.1,2235.1 642.2,2220.7 644.4,2231.1 C646.5,2241.5 653.0,2270.0 657.3,2288.1 C661.6,2306.3 666.4,2325.3 670.3,2340.0 C674.2,2354.7 677.6,2365.0 680.6,2376.3 C683.7,2387.5 685.0,2394.4 688.4,2407.4 C691.9,2420.3 695.8,2435.0 701.4,2454.0 C707.0,2473.0 715.6,2499.4 722.1,2521.4 C728.6,2543.5 734.4,2565.1 740.3,2586.2 C746.1,2607.4 754.5,2638.1 757.4,2648.4" fill="none" stroke="#c4605a" stroke-width="2.4" stroke-linejoin="round"/>
<text x="424.3" y="1848" font-size="52" fill="#0c0c0c" text-anchor="middle">C</text>
<text x="530.3" y="2091.5" font-size="52" fill="#0c0c0c" text-anchor="middle">B</text>
<text x="614.4" y="2022.4" font-size="52" fill="#0c0c0c" text-anchor="middle">A</text>
<text x="759.3" y="1987.5" font-size="106" fill="#060606" text-anchor="middle">(e)</text>
</g>
<g id="panel-f" class="k">
<line x1="1072" y1="1833" x2="1072" y2="2655" stroke="#2a2a2a" stroke-width="4"/>
<line x1="1070" y1="2653" x2="2221.8" y2="2653" stroke="#2a2a2a" stroke-width="4"/>
<line x1="1095.2" y1="2653" x2="1095.2" y2="2670" stroke="#222" stroke-width="3.6"/>
<line x1="1125.6" y1="2653" x2="1125.6" y2="2670" stroke="#222" stroke-width="3.6"/>
<line x1="1156.0" y1="2653" x2="1156.0" y2="2683" stroke="#222" stroke-width="3.6"/>
<line x1="1186.4" y1="2653" x2="1186.4" y2="2670" stroke="#222" stroke-width="3.6"/>
<line x1="1216.8" y1="2653" x2="1216.8" y2="2670" stroke="#222" stroke-width="3.6"/>
<line x1="1247.2" y1="2653" x2="1247.2" y2="2670" stroke="#222" stroke-width="3.6"/>
<line x1="1277.6" y1="2653" x2="1277.6" y2="2670" stroke="#222" stroke-width="3.6"/>
<line x1="1308.0" y1="2653" x2="1308.0" y2="2683" stroke="#222" stroke-width="3.6"/>
<line x1="1338.4" y1="2653" x2="1338.4" y2="2670" stroke="#222" stroke-width="3.6"/>
<line x1="1368.8" y1="2653" x2="1368.8" y2="2670" stroke="#222" stroke-width="3.6"/>
<line x1="1399.2" y1="2653" x2="1399.2" y2="2670" stroke="#222" stroke-width="3.6"/>
<line x1="1429.6" y1="2653" x2="1429.6" y2="2670" stroke="#222" stroke-width="3.6"/>
<line x1="1460.0" y1="2653" x2="1460.0" y2="2683" stroke="#222" stroke-width="3.6"/>
<line x1="1490.4" y1="2653" x2="1490.4" y2="2670" stroke="#222" stroke-width="3.6"/>
<line x1="1520.8" y1="2653" x2="1520.8" y2="2670" stroke="#222" stroke-width="3.6"/>
<line x1="1551.2" y1="2653" x2="1551.2" y2="2670" stroke="#222" stroke-width="3.6"/>
<line x1="1581.6" y1="2653" x2="1581.6" y2="2670" stroke="#222" stroke-width="3.6"/>
<line x1="1612.0" y1="2653" x2="1612.0" y2="2683" stroke="#222" stroke-width="3.6"/>
<line x1="1642.4" y1="2653" x2="1642.4" y2="2670" stroke="#222" stroke-width="3.6"/>
<line x1="1672.8" y1="2653" x2="1672.8" y2="2670" stroke="#222" stroke-width="3.6"/>
<line x1="1703.2" y1="2653" x2="1703.2" y2="2670" stroke="#222" stroke-width="3.6"/>
<line x1="1733.6" y1="2653" x2="1733.6" y2="2670" stroke="#222" stroke-width="3.6"/>
<line x1="1764.0" y1="2653" x2="1764.0" y2="2683" stroke="#222" stroke-width="3.6"/>
<line x1="1794.4" y1="2653" x2="1794.4" y2="2670" stroke="#222" stroke-width="3.6"/>
<line x1="1824.8" y1="2653" x2="1824.8" y2="2670" stroke="#222" stroke-width="3.6"/>
<line x1="1855.2" y1="2653" x2="1855.2" y2="2670" stroke="#222" stroke-width="3.6"/>
<line x1="1885.6" y1="2653" x2="1885.6" y2="2670" stroke="#222" stroke-width="3.6"/>
<line x1="1916.0" y1="2653" x2="1916.0" y2="2683" stroke="#222" stroke-width="3.6"/>
<line x1="1946.4" y1="2653" x2="1946.4" y2="2670" stroke="#222" stroke-width="3.6"/>
<line x1="1976.8" y1="2653" x2="1976.8" y2="2670" stroke="#222" stroke-width="3.6"/>
<line x1="2007.2" y1="2653" x2="2007.2" y2="2670" stroke="#222" stroke-width="3.6"/>
<line x1="2037.6" y1="2653" x2="2037.6" y2="2670" stroke="#222" stroke-width="3.6"/>
<line x1="2068.0" y1="2653" x2="2068.0" y2="2683" stroke="#222" stroke-width="3.6"/>
<line x1="2098.4" y1="2653" x2="2098.4" y2="2670" stroke="#222" stroke-width="3.6"/>
<line x1="2128.8" y1="2653" x2="2128.8" y2="2670" stroke="#222" stroke-width="3.6"/>
<line x1="2159.2" y1="2653" x2="2159.2" y2="2670" stroke="#222" stroke-width="3.6"/>
<line x1="2189.6" y1="2653" x2="2189.6" y2="2670" stroke="#222" stroke-width="3.6"/>
<line x1="2220.0" y1="2653" x2="2220.0" y2="2683" stroke="#222" stroke-width="3.6"/>
<text x="1156.0" y="2751" font-size="57" fill="#0c0c0c" text-anchor="middle">10</text>
<text x="1308.0" y="2751" font-size="57" fill="#0c0c0c" text-anchor="middle">20</text>
<text x="1460.0" y="2751" font-size="57" fill="#0c0c0c" text-anchor="middle">30</text>
<text x="1612.0" y="2751" font-size="57" fill="#0c0c0c" text-anchor="middle">40</text>
<text x="1764.0" y="2751" font-size="57" fill="#0c0c0c" text-anchor="middle">50</text>
<text x="1916.0" y="2751" font-size="57" fill="#0c0c0c" text-anchor="middle">60</text>
<text x="2068.0" y="2751" font-size="57" fill="#0c0c0c" text-anchor="middle">70</text>
<text x="2220.0" y="2751" font-size="57" fill="#0c0c0c" text-anchor="middle">80</text>
<text x="1639" y="2818.5" font-size="68" fill="#0c0c0c" text-anchor="middle">2θ [degree]</text>
<text transform="translate(1040 2243.5) rotate(-90)" font-size="59.6" fill="#0c0c0c" text-anchor="middle">Intensity [Arb. Units]</text>
<polyline points="1080.8,1834.0 1081.4,1837.8 1082.3,1842.4 1083.3,1846.7 1084.5,1852.2 1085.1,1855.2 1085.7,1858.9 1086.9,1864.6 1088.1,1870.8 1088.7,1873.2 1089.3,1876.2 1090.0,1879.7 1090.6,1882.7 1091.3,1885.3 1092.0,1888.8 1092.7,1891.5 1093.4,1894.1 1094.2,1898.0 1094.9,1900.9 1095.7,1904.5 1096.5,1907.1 1097.3,1909.4 1098.1,1913.3 1098.9,1916.0 1099.7,1918.4 1100.6,1921.9 1101.4,1925.6 1102.3,1928.2 1103.2,1930.9 1104.1,1933.4 1105.0,1937.3 1105.9,1940.8 1106.9,1943.7 1107.9,1945.9 1108.9,1948.8 1109.9,1952.4 1110.9,1955.2 1112.0,1958.6 1113.0,1961.5 1114.0,1964.9 1115.1,1968.2 1116.1,1970.3 1117.1,1973.7 1119.1,1979.3 1121.1,1983.9 1123.1,1990.1 1125.2,1994.8 1127.2,2000.4 1129.2,2005.6 1131.2,2011.3 1133.2,2017.1 1135.2,2022.6 1137.3,2026.8 1139.3,2032.1 1141.3,2037.3 1143.3,2043.4 1145.3,2047.9 1147.3,2052.4 1149.4,2056.7 1151.4,2061.2 1153.4,2066.3 1155.4,2071.5 1157.4,2076.2 1159.4,2080.6 1161.5,2085.0 1163.5,2090.5 1165.5,2094.7 1167.5,2098.6 1169.5,2102.4 1171.5,2107.6 1173.5,2110.4 1175.6,2115.4 1177.6,2118.1 1179.6,2122.6 1181.6,2125.6 1183.6,2129.4 1185.6,2132.2 1187.7,2135.2 1189.7,2139.1 1191.7,2141.7 1193.7,2144.8 1195.7,2148.5 1197.7,2151.5 1199.8,2154.6 1201.8,2157.0 1203.9,2159.9 1206.1,2162.2 1208.3,2163.6 1210.4,2165.8 1212.3,2168.4 1213.9,2169.1 1215.1,2169.8 1216.0,2168.3 1216.6,2167.5 1217.2,2166.4 1217.6,2165.9 1217.9,2164.9 1221.0,2170.0 1223.0,1897.0 1225.6,2170.0 1228.8,2164.1 1229.0,2166.1 1229.2,2168.6 1229.5,2169.7 1229.8,2171.9 1230.2,2174.0 1230.7,2178.6 1231.3,2180.2 1232.0,2181.9 1232.9,2181.7 1234.0,2182.3 1235.2,2185.4 1236.5,2186.4 1237.9,2184.4 1239.3,2187.4 1240.7,2187.4 1242.1,2187.2 1243.5,2188.5 1244.9,2188.3 1246.3,2188.9 1247.8,2189.4 1249.3,2189.7 1250.8,2189.7 1252.5,2191.1 1254.2,2191.0 1256.0,2191.7 1257.9,2189.4 1259.9,2188.3 1262.0,2188.9 1264.1,2189.3 1266.2,2189.4 1268.3,2187.9 1270.3,2185.6 1272.3,2186.2 1274.4,2186.2 1276.4,2185.6 1278.4,2184.5 1280.4,2183.0 1282.4,2183.4 1284.4,2183.1 1286.5,2181.5 1288.4,2182.5 1290.4,2180.1 1292.3,2179.8 1294.3,2178.0 1296.2,2177.1 1298.3,2175.8 1300.4,2176.9 1302.6,2174.4 1304.9,2174.2 1307.3,2172.4 1309.8,2172.5 1312.4,2171.5 1315.0,2168.5 1317.6,2169.4 1320.2,2167.1 1322.7,2167.2 1325.3,2164.9 1328.1,2164.4 1330.8,2162.5 1333.6,2162.6 1336.2,2161.1 1338.7,2161.3 1341.0,2161.7 1342.9,2159.7 1344.5,2159.5 1345.7,2161.0 1346.6,2159.6 1347.4,2159.2 1348.2,2157.7 1349.0,2159.6 1349.8,2157.5 1351.0,2156.9 1352.2,2157.9 1353.5,2158.5 1354.9,2158.7 1356.3,2157.6 1357.8,2160.1 1359.4,2159.1 1361.1,2161.6 1363.1,2160.5 1365.2,2160.4 1367.5,2161.5 1370.0,2163.7 1372.6,2166.0 1375.3,2166.7 1378.0,2169.2 1380.7,2170.8 1383.2,2172.1 1385.7,2172.7 1388.3,2175.0 1390.8,2175.7 1393.3,2175.3 1395.8,2177.5 1398.3,2178.6 1400.9,2179.6 1403.4,2183.5 1405.9,2183.7 1408.4,2184.1 1410.9,2187.5 1413.5,2187.4 1416.0,2188.3 1418.5,2191.2 1421.0,2190.8 1423.5,2194.5 1426.1,2195.8 1428.6,2194.4 1431.1,2197.1 1433.6,2196.8 1436.1,2200.7 1438.7,2200.0 1441.2,2202.0 1443.7,2203.9 1446.2,2205.3 1448.8,2205.7 1451.3,2205.9 1453.8,2207.8 1456.3,2208.2 1458.8,2210.0 1461.4,2212.9 1463.9,2213.6 1466.4,2214.2 1468.9,2215.7 1471.4,2216.0 1474.0,2216.6 1476.5,2217.5 1479.0,2218.5 1481.5,2219.6 1484.0,2221.2 1486.6,2224.0 1489.1,2226.2 1491.6,2228.2 1494.1,2229.1 1496.6,2232.6 1499.2,2234.5 1501.7,2234.6 1504.2,2238.5 1506.7,2238.0 1509.2,2241.2 1511.8,2242.0 1514.3,2244.7 1516.8,2246.2 1519.3,2248.2 1521.8,2249.5 1524.4,2249.3 1526.9,2249.5 1529.4,2251.0 1531.9,2255.0 1534.4,2254.3 1537.0,2255.2 1539.5,2256.1 1542.0,2258.1 1544.5,2259.2 1547.0,2261.6 1549.6,2261.2 1552.1,2263.2 1554.6,2265.7 1557.1,2265.6 1559.6,2265.8 1562.2,2267.7 1564.7,2268.2 1567.2,2268.5 1569.7,2271.0 1572.2,2270.9 1574.8,2273.2 1577.3,2272.3 1579.8,2272.5 1582.3,2274.2 1584.8,2274.9 1587.4,2274.6 1589.9,2276.2 1592.4,2277.2 1594.9,2278.2 1597.4,2279.1 1600.0,2278.4 1602.5,2279.7 1605.0,2277.9 1607.7,2280.1 1610.6,2281.1 1613.7,2279.7 1616.7,2279.5 1619.5,2279.6 1621.9,2279.7 1623.9,2280.3 1625.2,2280.4 1625.0,2279.5 1623.2,2281.2 1620.4,2281.2 1617.5,2278.3 1615.3,2279.4 1614.4,2278.6 1615.8,2278.8 1620.0,2279.2 1623.8,2279.4 1627.5,2280.8 1630.9,2281.6 1634.3,2280.0 1637.7,2280.6 1640.8,2280.0 1643.9,2281.4 1646.9,2281.4 1650.0,2281.4 1653.4,2283.8 1656.9,2283.2 1660.3,2282.7 1663.7,2282.9 1667.4,2284.5 1671.0,2285.6 1674.6,2286.2 1678.3,2286.1 1682.0,2286.5 1685.6,2285.2 1689.3,2285.4 1693.0,2287.4 1696.6,2287.6 1700.2,2286.6 1703.8,2287.3 1707.4,2286.7 1710.7,2289.0 1714.0,2288.8 1717.3,2290.0 1720.7,2290.5 1723.8,2289.5 1726.9,2289.2 1730.0,2289.2 1733.1,2290.5 1736.2,2291.6 1739.2,2289.2 1742.3,2290.3 1745.4,2291.6 1748.4,2289.8 1751.4,2291.6 1754.5,2290.5 1757.5,2291.6 1760.6,2293.0 1763.6,2290.3 1766.7,2292.4 1769.7,2292.2 1772.8,2293.1 1775.9,2291.7 1779.0,2293.6 1782.1,2293.8 1785.3,2291.2 1788.4,2292.1 1791.6,2291.9 1794.7,2293.7 1798.0,2294.1 1801.3,2293.7 1804.5,2294.1 1807.8,2293.3 1811.2,2294.3 1814.6,2292.5 1817.9,2292.0 1821.3,2293.9 1824.9,2293.1 1828.4,2291.9 1831.9,2294.2 1835.5,2292.2 1839.1,2292.5 1842.8,2292.0 1846.5,2293.5 1850.1,2292.1 1853.1,2292.5 1856.1,2293.2 1859.1,2294.3 1862.1,2291.4 1865.2,2294.1 1868.2,2293.5 1871.3,2292.0 1874.3,2293.6 1877.4,2292.9 1880.5,2292.3 1883.6,2291.6 1886.7,2292.1 1889.8,2291.8 1892.8,2291.0 1895.9,2291.1 1899.0,2291.4 1902.1,2291.9 1905.2,2292.2 1908.4,2292.7 1911.5,2290.7 1914.5,2290.7 1917.6,2293.0 1920.7,2292.0 1923.8,2291.0 1926.9,2291.0 1929.9,2292.4 1933.0,2291.8 1936.0,2291.7 1939.1,2293.3 1942.1,2290.6 1945.2,2292.6 1948.3,2292.8 1951.4,2292.6 1954.4,2292.8 1957.5,2291.2 1960.7,2294.1 1963.8,2291.5 1967.0,2292.6 1970.1,2292.8 1973.3,2294.3 1976.5,2294.1 1979.6,2294.7 1982.8,2294.0 1986.0,2295.5 1989.2,2293.7 1992.4,2294.1 1995.5,2294.8 1998.7,2294.3 2001.9,2294.0 2005.0,2295.8 2008.1,2295.0 2011.3,2296.8 2014.4,2296.4 2017.5,2294.6 2020.6,2295.1 2023.6,2295.6 2026.6,2296.2 2029.6,2296.0 2032.6,2297.7 2035.6,2296.5 2039.1,2297.4 2042.7,2297.6 2046.2,2299.6 2049.8,2298.3 2053.0,2297.3 2056.3,2300.3 2059.6,2300.5 2062.9,2297.9 2065.9,2300.6 2068.9,2300.1 2071.9,2301.2 2074.9,2300.5 2078.6,2300.8 2082.3,2301.6 2086.0,2299.5 2089.4,2300.0 2092.8,2300.3 2096.2,2300.2 2099.5,2301.1 2102.7,2300.8 2106.0,2301.3 2109.1,2302.2 2112.2,2301.9 2115.3,2301.9 2118.4,2304.8 2121.5,2304.9 2124.5,2305.1 2127.7,2302.9 2130.8,2304.7 2133.9,2305.9 2137.1,2304.7 2140.3,2305.1 2143.5,2306.5 2146.9,2306.8 2150.3,2306.1 2153.7,2305.4 2157.4,2307.0 2161.0,2307.3 2164.7,2306.2 2168.4,2306.9 2172.1,2307.9 2175.8,2306.8 2179.4,2307.5 2183.1,2308.2 2186.7,2307.9 2190.2,2309.7 2193.6,2308.2 2197.1,2309.0 2200.1,2310.2 2203.2,2308.0 2206.3,2309.1 2210.2,2309.0 2214.1,2310.3 2220.0,2310.6" fill="none" stroke="#c7302b" stroke-width="7.6" stroke-linejoin="round" stroke-linecap="round"/>
<polyline points="1080.0,2626.0 1080.4,2626.1 1080.8,2626.2 1081.1,2626.3 1081.5,2626.4 1081.9,2626.5 1082.3,2626.6 1082.7,2626.7 1083.0,2626.8 1083.4,2626.9 1083.8,2627.0 1084.2,2627.1 1084.6,2627.2 1084.9,2627.3 1085.3,2627.4 1085.7,2627.5 1086.1,2627.6 1086.5,2627.7 1086.8,2627.8 1087.2,2627.9 1087.6,2628.0 1088.0,2628.1 1088.4,2628.2 1088.7,2628.3 1089.1,2628.3 1089.5,2628.4 1089.9,2628.5 1090.3,2628.6 1090.6,2628.7 1091.0,2628.8 1091.4,2628.9 1091.8,2628.9 1092.2,2629.0 1092.5,2629.1 1092.9,2629.2 1093.3,2629.3 1093.7,2629.4 1094.1,2629.4 1094.4,2629.5 1094.8,2629.6 1095.2,2629.7 1095.6,2629.8 1096.0,2629.8 1096.3,2629.9 1096.7,2630.0 1097.1,2630.1 1097.5,2630.1 1097.9,2630.2 1098.2,2630.3 1098.6,2630.4 1099.0,2630.4 1099.4,2630.5 1099.8,2630.6 1100.1,2630.7 1100.5,2630.7 1100.9,2630.8 1101.3,2630.9 1101.7,2630.9 1102.0,2631.0 1102.4,2631.1 1102.8,2631.1 1103.2,2631.2 1103.6,2631.3 1103.9,2631.3 1104.3,2631.4 1104.7,2631.5 1105.1,2631.5 1105.5,2631.6 1105.8,2631.7 1106.2,2631.7 1106.6,2631.8 1107.0,2631.9 1107.4,2631.9 1107.7,2632.0 1108.1,2632.0 1108.5,2632.1 1108.9,2632.2 1109.3,2632.2 1109.6,2632.3 1110.0,2632.3 1110.4,2632.4 1110.8,2632.4 1111.2,2632.5 1111.5,2632.6 1111.9,2632.6 1112.3,2632.7 1112.7,2632.7 1113.1,2632.8 1113.4,2632.8 1113.8,2632.9 1114.2,2632.9 1114.6,2633.0 1115.0,2633.1 1115.3,2633.1 1115.7,2633.2 1116.1,2633.2 1116.5,2633.3 1116.9,2633.3 1117.2,2633.4 1117.6,2633.4 1118.0,2633.5 1118.4,2633.5 1118.8,2633.6 1119.1,2633.6 1119.5,2633.7 1119.9,2633.7 1120.3,2633.8 1120.7,2633.8 1121.0,2633.8 1121.4,2633.9 1121.8,2633.9 1122.2,2634.0 1122.6,2634.0 1122.9,2634.1 1123.3,2634.1 1123.7,2634.2 1124.1,2634.2 1124.5,2634.3 1124.8,2634.3 1125.2,2634.3 1125.6,2634.4 1126.0,2634.4 1126.4,2634.5 1126.7,2634.5 1127.1,2634.6 1127.5,2634.6 1127.9,2634.6 1128.3,2634.7 1128.6,2634.7 1129.0,2634.8 1129.4,2634.8 1129.8,2634.8 1130.2,2634.9 1130.5,2634.9 1130.9,2634.9 1131.3,2635.0 1131.7,2635.0 1132.1,2635.1 1132.4,2635.1 1132.8,2635.1 1133.2,2635.2 1133.6,2635.2 1134.0,2635.2 1134.3,2635.3 1134.7,2635.3 1135.1,2635.4 1135.5,2635.4 1135.9,2635.4 1136.2,2635.5 1136.6,2635.5 1137.0,2635.5 1137.4,2635.6 1137.8,2635.6 1138.1,2635.6 1138.5,2635.7 1138.9,2635.7 1139.3,2635.7 1139.7,2635.8 1140.0,2635.8 1140.4,2635.8 1140.8,2635.9 1141.2,2635.9 1141.6,2635.9 1141.9,2635.9 1142.3,2636.0 1142.7,2636.0 1143.1,2636.0 1143.5,2636.1 1143.8,2636.1 1144.2,2636.1 1144.6,2636.2 1145.0,2636.2 1145.4,2636.2 1145.7,2636.2 1146.1,2636.3 1146.5,2636.3 1146.9,2636.3 1147.3,2636.4 1147.6,2636.4 1148.0,2636.4 1148.4,2636.4 1148.8,2636.5 1149.2,2636.5 1149.5,2636.5 1149.9,2636.5 1150.3,2636.6 1150.7,2636.6 1151.1,2636.6 1151.4,2636.6 1151.8,2636.7 1152.2,2636.7 1152.6,2636.7 1153.0,2636.7 1153.3,2636.8 1153.7,2636.8 1154.1,2636.8 1154.5,2636.8 1154.9,2636.9 1155.2,2636.9 1155.6,2636.9 1156.0,2636.9 1156.4,2637.0 1156.8,2637.0 1157.1,2637.0 1157.5,2637.0 1157.9,2637.1 1158.3,2637.1 1158.7,2637.1 1159.0,2637.1 1159.4,2637.1 1159.8,2637.2 1160.2,2637.2 1160.6,2637.2 1160.9,2637.2 1161.3,2637.3 1161.7,2637.3 1162.1,2637.3 1162.5,2637.3 1162.8,2637.3 1163.2,2637.4 1163.6,2637.4 1164.0,2637.4 1164.4,2637.4 1164.7,2637.4 1165.1,2637.5 1165.5,2637.5 1165.9,2637.5 1166.3,2637.5 1166.6,2637.5 1167.0,2637.6 1167.4,2637.6 1167.8,2637.6 1168.2,2637.6 1168.5,2637.6 1168.9,2637.6 1169.3,2637.7 1169.7,2637.7 1170.1,2637.7 1170.4,2637.7 1170.8,2637.7 1171.2,2637.7 1171.6,2637.8 1172.0,2637.8 1172.3,2637.8 1172.7,2637.8 1173.1,2637.8 1173.5,2637.9 1173.9,2637.9 1174.2,2637.9 1174.6,2637.9 1175.0,2637.9 1175.4,2637.9 1175.8,2637.9 1176.1,2638.0 1176.5,2637.4 1176.9,2637.4 1177.3,2637.4 1177.7,2637.4 1178.0,2637.4 1178.4,2637.4 1178.8,2637.4 1179.2,2637.4 1179.6,2637.4 1179.9,2637.4 1180.3,2637.4 1180.7,2637.4 1181.1,2637.4 1181.5,2637.4 1181.8,2637.4 1182.2,2637.4 1182.6,2637.4 1183.0,2637.4 1183.4,2637.4 1183.7,2637.4 1184.1,2637.4 1184.5,2637.4 1184.9,2637.4 1185.3,2637.4 1185.6,2637.4 1186.0,2637.3 1186.4,2637.3 1186.8,2637.3 1187.2,2637.3 1187.5,2637.3 1187.9,2637.3 1188.3,2637.3 1188.7,2637.3 1189.1,2637.3 1189.4,2637.2 1189.8,2637.2 1190.2,2637.2 1190.6,2637.2 1191.0,2637.2 1191.3,2637.2 1191.7,2637.1 1192.1,2637.1 1192.5,2637.1 1192.9,2637.1 1193.2,2637.0 1193.6,2637.0 1194.0,2637.0 1194.4,2636.9 1194.8,2636.9 1195.1,2636.9 1195.5,2636.8 1195.9,2636.8 1196.3,2636.8 1196.7,2636.7 1197.0,2636.7 1197.4,2636.6 1197.8,2636.6 1198.2,2636.5 1198.6,2636.4 1198.9,2636.4 1199.3,2636.3 1199.7,2636.2 1200.1,2636.2 1200.5,2636.1 1200.8,2636.0 1201.2,2635.9 1201.6,2635.8 1202.0,2635.7 1202.4,2635.6 1202.7,2635.5 1203.1,2635.4 1203.5,2635.3 1203.9,2635.2 1204.3,2635.0 1204.6,2634.9 1205.0,2634.7 1205.4,2634.6 1205.8,2634.4 1206.2,2634.2 1206.5,2634.0 1206.9,2633.8 1207.3,2633.5 1207.7,2633.3 1208.1,2633.0 1208.4,2632.7 1208.8,2632.4 1209.2,2632.1 1209.6,2631.7 1210.0,2631.4 1210.3,2630.9 1210.7,2630.5 1211.1,2630.0 1211.5,2629.5 1211.9,2628.9 1212.2,2628.3 1212.6,2627.6 1213.0,2626.9 1213.4,2626.0 1213.8,2625.1 1214.1,2624.1 1214.5,2623.0 1214.9,2621.6 1215.3,2620.0 1215.7,2617.9 1216.0,2615.1 1216.4,2611.1 1216.8,2605.5 1217.2,2597.6 1217.6,2586.3 1217.9,2570.6 1218.3,2549.6 1218.7,2522.2 1219.1,2488.3 1219.5,2448.1 1219.8,2402.9 1220.2,2355.0 1220.6,2307.8 1221.0,2265.1 1221.4,2231.0 1221.7,2208.9 1222.1,2201.2 1222.5,2208.9 1222.9,2231.0 1223.3,2265.2 1223.6,2307.9 1224.0,2355.1 1224.4,2403.0 1224.8,2448.2 1225.2,2488.4 1225.5,2522.4 1225.9,2549.7 1226.3,2570.8 1226.7,2586.4 1227.1,2597.7 1227.4,2605.7 1227.8,2611.3 1228.2,2615.3 1228.6,2618.1 1229.0,2620.2 1229.3,2621.9 1229.7,2623.2 1230.1,2624.4 1230.5,2625.4 1230.9,2626.3 1231.2,2627.2 1231.6,2627.9 1232.0,2628.6 1232.4,2629.3 1232.8,2629.9 1233.1,2630.4 1233.5,2630.9 1233.9,2631.4 1234.3,2631.8 1234.7,2632.2 1235.0,2632.6 1235.4,2632.9 1235.8,2633.2 1236.2,2633.5 1236.6,2633.8 1236.9,2634.1 1237.3,2634.3 1237.7,2634.5 1238.1,2634.8 1238.5,2635.0 1238.8,2635.2 1239.2,2635.3 1239.6,2635.5 1240.0,2635.7 1240.4,2635.8 1240.7,2636.0 1241.1,2636.1 1241.5,2636.2 1241.9,2636.4 1242.3,2636.5 1242.6,2636.6 1243.0,2636.7 1243.4,2636.8 1243.8,2636.9 1244.2,2637.0 1244.5,2637.1 1244.9,2637.1 1245.3,2637.2 1245.7,2637.3 1246.1,2637.4 1246.4,2637.4 1246.8,2637.5 1247.2,2638.2 1247.6,2637.5 1248.0,2638.3 1248.3,2637.3 1248.7,2638.4 1249.1,2637.6 1249.5,2637.7 1249.9,2637.6 1250.2,2638.5 1250.6,2637.7 1251.0,2637.5 1251.4,2637.5 1251.8,2638.3 1252.1,2638.4 1252.5,2638.1 1252.9,2638.5 1253.3,2638.4 1253.7,2638.8 1254.0,2638.2 1254.4,2638.8 1254.8,2638.5 1255.2,2639.2 1255.6,2638.8 1255.9,2639.2 1256.3,2638.5 1256.7,2638.9 1257.1,2638.1 1257.5,2638.3 1257.8,2638.9 1258.2,2638.4 1258.6,2639.2 1259.0,2638.2 1259.4,2639.3 1259.7,2639.4 1260.1,2639.5 1260.5,2638.5 1260.9,2639.1 1261.3,2639.1 1261.6,2639.2 1262.0,2638.8 1262.4,2638.4 1262.8,2638.8 1263.2,2639.1 1263.5,2638.5 1263.9,2638.9 1264.3,2639.7 1264.7,2638.6 1265.1,2639.6 1265.4,2638.8 1265.8,2639.3 1266.2,2638.6 1266.6,2639.6 1267.0,2639.4 1267.3,2638.9 1267.7,2639.6 1268.1,2639.6 1268.5,2639.8 1268.9,2639.9 1269.2,2640.0 1269.6,2639.1 1270.0,2640.2 1270.4,2640.5 1270.8,2639.7 1271.1,2639.5 1271.5,2639.9 1271.9,2640.3 1272.3,2639.7 1272.7,2639.7 1273.0,2639.5 1273.4,2640.3 1273.8,2639.6 1274.2,2640.5 1274.6,2640.0 1274.9,2639.5 1275.3,2639.6 1275.7,2640.5 1276.1,2640.4 1276.5,2640.5 1276.8,2639.2 1277.2,2639.5 1277.6,2640.4 1278.0,2639.6 1278.4,2639.9 1278.7,2639.6 1279.1,2640.1 1279.5,2639.8 1279.9,2640.3 1280.3,2640.2 1280.6,2639.8 1281.0,2639.8 1281.4,2639.3 1281.8,2640.2 1282.2,2639.8 1282.5,2639.2 1282.9,2639.3 1283.3,2639.5 1283.7,2639.8 1284.1,2639.9 1284.4,2640.1 1284.8,2640.5 1285.2,2639.4 1285.6,2639.5 1286.0,2639.8 1286.3,2639.8 1286.7,2640.3 1287.1,2640.5 1287.5,2640.1 1287.9,2640.2 1288.2,2640.3 1288.6,2639.4 1289.0,2639.8 1289.4,2639.8 1289.8,2639.4 1290.1,2639.7 1290.5,2639.5 1290.9,2640.2 1291.3,2639.7 1291.7,2639.7 1292.0,2640.6 1292.4,2640.0 1292.8,2640.6 1293.2,2640.2 1293.6,2640.0 1293.9,2640.4 1294.3,2639.6 1294.7,2640.5 1295.1,2639.9 1295.5,2639.4 1295.8,2640.1 1296.2,2639.4 1296.6,2640.1 1297.0,2640.2 1297.4,2640.3 1297.7,2640.3 1298.1,2639.3 1298.5,2639.3 1298.9,2640.3 1299.3,2640.1 1299.6,2640.6 1300.0,2639.9 1300.4,2639.5 1300.8,2639.3 1301.2,2639.4 1301.5,2639.6 1301.9,2640.4 1302.3,2640.1 1302.7,2640.5 1303.1,2640.6 1303.4,2640.1 1303.8,2639.5 1304.2,2639.6 1304.6,2640.2 1305.0,2639.5 1305.3,2640.1 1305.7,2640.1 1306.1,2639.4 1306.5,2639.5 1306.9,2640.7 1307.2,2640.0 1307.6,2640.0 1308.0,2640.0 1308.4,2640.5 1308.8,2640.3 1309.1,2640.3 1309.5,2640.2 1309.9,2639.6 1310.3,2639.7 1310.7,2639.8 1311.0,2639.4 1311.4,2640.2 1311.8,2640.6 1312.2,2640.7 1312.6,2639.5 1312.9,2639.6 1313.3,2640.3 1313.7,2639.4 1314.1,2639.7 1314.5,2639.9 1314.8,2640.5 1315.2,2639.4 1315.6,2639.5 1316.0,2639.7 1316.4,2639.7 1316.7,2639.6 1317.1,2640.2 1317.5,2639.6 1317.9,2639.4 1318.3,2640.6 1318.6,2640.0 1319.0,2640.0 1319.4,2639.8 1319.8,2640.6 1320.2,2640.8 1320.5,2639.5 1320.9,2640.4 1321.3,2640.4 1321.7,2640.2 1322.1,2640.0 1322.4,2640.0 1322.8,2640.4 1323.2,2639.4 1323.6,2640.6 1324.0,2639.5 1324.3,2639.7 1324.7,2640.0 1325.1,2639.4 1325.5,2640.7 1325.9,2640.0 1326.2,2639.9 1326.6,2639.9 1327.0,2640.7 1327.4,2639.9 1327.8,2640.3 1328.1,2640.8 1328.5,2640.0 1328.9,2640.7 1329.3,2640.2 1329.7,2640.0 1330.0,2640.1 1330.4,2639.9 1330.8,2640.1 1331.2,2639.8 1331.6,2639.5 1331.9,2640.6 1332.3,2639.8 1332.7,2639.6 1333.1,2639.7 1333.5,2640.2 1333.8,2640.6 1334.2,2640.2 1334.6,2640.1 1335.0,2640.6 1335.4,2639.8 1335.7,2640.0 1336.1,2639.8 1336.5,2640.0 1336.9,2640.3 1337.3,2640.3 1337.6,2639.9 1338.0,2640.1 1338.4,2639.8 1338.8,2640.7 1339.2,2640.4 1339.5,2640.8 1339.9,2640.9 1340.3,2640.3 1340.7,2640.1 1341.1,2640.9 1341.4,2640.2 1341.8,2640.1 1342.2,2640.2 1342.6,2639.7 1343.0,2640.5 1343.3,2640.4 1343.7,2639.6 1344.1,2640.7 1344.5,2640.5 1344.9,2640.6 1345.2,2639.5 1345.6,2640.5 1346.0,2639.7 1346.4,2639.5 1346.8,2640.5 1347.1,2640.5 1347.5,2640.6 1347.9,2639.8 1348.3,2639.8 1348.7,2640.8 1349.0,2639.6 1349.4,2640.8 1349.8,2640.6 1350.2,2640.6 1350.6,2639.8 1350.9,2640.5 1351.3,2639.6 1351.7,2639.9 1352.1,2640.7 1352.5,2640.1 1352.8,2640.0 1353.2,2640.7 1353.6,2640.2 1354.0,2640.4 1354.4,2640.4 1354.7,2640.7 1355.1,2640.8 1355.5,2639.8 1355.9,2640.0 1356.3,2640.6 1356.6,2640.5 1357.0,2640.8 1357.4,2639.6 1357.8,2640.5 1358.2,2640.2 1358.5,2640.9 1358.9,2640.1 1359.3,2640.8 1359.7,2639.7 1360.1,2639.9 1360.4,2639.9 1360.8,2640.4 1361.2,2639.8 1361.6,2640.5 1362.0,2640.1 1362.3,2640.4 1362.7,2640.1 1363.1,2640.6 1363.5,2639.8 1363.9,2640.6 1364.2,2640.3 1364.6,2640.4 1365.0,2640.9 1365.4,2640.3 1365.8,2639.9 1366.1,2640.3 1366.5,2640.3 1366.9,2640.9 1367.3,2640.5 1367.7,2640.4 1368.0,2640.9 1368.4,2639.7 1368.8,2640.6 1369.2,2640.5 1369.6,2640.8 1369.9,2640.8 1370.3,2640.4 1370.7,2640.5 1371.1,2640.9 1371.5,2640.5 1371.8,2639.6 1372.2,2640.0 1372.6,2640.7 1373.0,2640.1 1373.4,2640.9 1373.7,2640.2 1374.1,2640.6 1374.5,2641.0 1374.9,2640.4 1375.3,2639.9 1375.6,2640.3 1376.0,2640.1 1376.4,2640.9 1376.8,2640.2 1377.2,2640.1 1377.5,2640.3 1377.9,2640.5 1378.3,2640.8 1378.7,2640.5 1379.1,2640.3 1379.4,2640.5 1379.8,2639.9 1380.2,2640.5 1380.6,2640.8 1381.0,2640.7 1381.3,2640.3 1381.7,2639.9 1382.1,2640.9 1382.5,2640.8 1382.9,2640.4 1383.2,2639.8 1383.6,2639.8 1384.0,2640.7 1384.4,2639.9 1384.8,2640.0 1385.1,2641.0 1385.5,2639.8 1385.9,2640.1 1386.3,2639.7 1386.7,2640.5 1387.0,2639.8 1387.4,2640.6 1387.8,2640.3 1388.2,2640.3 1388.6,2640.6 1388.9,2639.6 1389.3,2640.6 1389.7,2639.8 1390.1,2640.5 1390.5,2640.6 1390.8,2639.8 1391.2,2640.6 1391.6,2640.4 1392.0,2640.0 1392.4,2640.5 1392.7,2639.8 1393.1,2640.2 1393.5,2640.9 1393.9,2640.6 1394.3,2639.8 1394.6,2641.0 1395.0,2640.8 1395.4,2640.2 1395.8,2639.9 1396.2,2640.6 1396.5,2639.6 1396.9,2640.3 1397.3,2639.7 1397.7,2640.9 1398.1,2640.1 1398.4,2639.8 1398.8,2640.1 1399.2,2641.0 1399.6,2639.9 1400.0,2640.3 1400.3,2640.4 1400.7,2640.0 1401.1,2640.4 1401.5,2639.7 1401.9,2640.3 1402.2,2641.0 1402.6,2640.3 1403.0,2640.7 1403.4,2640.1 1403.8,2640.7 1404.1,2640.0 1404.5,2640.5 1404.9,2641.0 1405.3,2640.3 1405.7,2640.7 1406.0,2640.1 1406.4,2640.1 1406.8,2639.8 1407.2,2640.0 1407.6,2640.5 1407.9,2640.7 1408.3,2640.6 1408.7,2640.6 1409.1,2639.8 1409.5,2640.7 1409.8,2639.7 1410.2,2640.2 1410.6,2639.8 1411.0,2640.2 1411.4,2641.0 1411.7,2640.4 1412.1,2640.9 1412.5,2640.6 1412.9,2639.8 1413.3,2640.7 1413.6,2640.1 1414.0,2640.5 1414.4,2640.2 1414.8,2640.6 1415.2,2640.1 1415.5,2640.0 1415.9,2639.8 1416.3,2640.9 1416.7,2640.8 1417.1,2640.0 1417.4,2639.7 1417.8,2639.8 1418.2,2640.8 1418.6,2640.9 1419.0,2641.0 1419.3,2640.2 1419.7,2639.7 1420.1,2640.0 1420.5,2640.2 1420.9,2640.7 1421.2,2641.0 1421.6,2640.5 1422.0,2640.5 1422.4,2639.8 1422.8,2640.0 1423.1,2639.8 1423.5,2640.5 1423.9,2640.2 1424.3,2641.0 1424.7,2640.8 1425.0,2640.3 1425.4,2640.0 1425.8,2640.2 1426.2,2639.7 1426.6,2640.5 1426.9,2640.8 1427.3,2640.4 1427.7,2639.8 1428.1,2639.7 1428.5,2639.7 1428.8,2640.6 1429.2,2640.9 1429.6,2639.7 1430.0,2639.6 1430.4,2641.0 1430.7,2639.9 1431.1,2640.6 1431.5,2640.1 1431.9,2639.6 1432.3,2640.7 1432.6,2640.6 1433.0,2640.4 1433.4,2640.3 1433.8,2640.4 1434.2,2640.3 1434.5,2640.2 1434.9,2640.3 1435.3,2640.4 1435.7,2639.8 1436.1,2640.1 1436.4,2640.4 1436.8,2639.7 1437.2,2640.7 1437.6,2640.5 1438.0,2640.0 1438.3,2640.4 1438.7,2640.3 1439.1,2640.0 1439.5,2639.9 1439.9,2640.3 1440.2,2639.4 1440.6,2640.3 1441.0,2639.7 1441.4,2639.7 1441.8,2639.7 1442.1,2638.5 1442.5,2638.8 1442.9,2638.3 1443.3,2637.0 1443.7,2637.1 1444.0,2636.6 1444.4,2636.7 1444.8,2635.5 1445.2,2635.1 1445.6,2635.3 1445.9,2635.2 1446.3,2635.3 1446.7,2636.7 1447.1,2636.1 1447.5,2637.4 1447.8,2637.1 1448.2,2638.5 1448.6,2638.7 1449.0,2638.4 1449.4,2639.5 1449.7,2639.8 1450.1,2639.3 1450.5,2639.8 1450.9,2640.0 1451.3,2640.3 1451.6,2640.4 1452.0,2640.7 1452.4,2640.3 1452.8,2640.7 1453.2,2640.5 1453.5,2640.7 1453.9,2639.7 1454.3,2640.3 1454.7,2640.3 1455.1,2640.8 1455.4,2640.9 1455.8,2640.5 1456.2,2640.9 1456.6,2640.3 1457.0,2640.2 1457.3,2640.6 1457.7,2640.4 1458.1,2641.0 1458.5,2639.9 1458.9,2640.3 1459.2,2639.8 1459.6,2640.2 1460.0,2640.5 1460.4,2640.2 1460.8,2639.7 1461.1,2639.7 1461.5,2640.6 1461.9,2641.0 1462.3,2640.3 1462.7,2639.8 1463.0,2639.8 1463.4,2640.9 1463.8,2639.8 1464.2,2641.0 1464.6,2639.9 1464.9,2639.8 1465.3,2640.7 1465.7,2640.2 1466.1,2640.2 1466.5,2640.8 1466.8,2640.8 1467.2,2640.7 1467.6,2639.7 1468.0,2640.0 1468.4,2640.0 1468.7,2640.4 1469.1,2640.4 1469.5,2640.2 1469.9,2640.3 1470.3,2640.8 1470.6,2640.2 1471.0,2640.2 1471.4,2640.1 1471.8,2640.5 1472.2,2639.7 1472.5,2640.9 1472.9,2640.0 1473.3,2640.1 1473.7,2640.6 1474.1,2639.7 1474.4,2641.0 1474.8,2640.3 1475.2,2640.8 1475.6,2640.3 1476.0,2639.7 1476.3,2640.0 1476.7,2639.8 1477.1,2640.9 1477.5,2640.9 1477.9,2640.6 1478.2,2640.8 1478.6,2640.4 1479.0,2640.0 1479.4,2641.0 1479.8,2640.7 1480.1,2640.0 1480.5,2640.2 1480.9,2639.6 1481.3,2641.0 1481.7,2640.3 1482.0,2640.3 1482.4,2639.6 1482.8,2640.7 1483.2,2639.7 1483.6,2640.4 1483.9,2640.4 1484.3,2640.4 1484.7,2640.7 1485.1,2640.9 1485.5,2640.5 1485.8,2640.1 1486.2,2639.8 1486.6,2640.8 1487.0,2640.2 1487.4,2639.9 1487.7,2640.2 1488.1,2639.8 1488.5,2639.6 1488.9,2640.2 1489.3,2639.6 1489.6,2640.5 1490.0,2640.3 1490.4,2639.7 1490.8,2639.9 1491.2,2640.5 1491.5,2639.6 1491.9,2639.6 1492.3,2639.8 1492.7,2639.3 1493.1,2639.3 1493.4,2640.1 1493.8,2639.7 1494.2,2639.6 1494.6,2639.7 1495.0,2638.7 1495.3,2639.0 1495.7,2638.4 1496.1,2639.5 1496.5,2638.3 1496.9,2638.2 1497.2,2637.5 1497.6,2635.7 1498.0,2634.8 1498.4,2632.4 1498.8,2628.8 1499.1,2623.0 1499.5,2617.8 1499.9,2612.6 1500.3,2608.0 1500.7,2604.0 1501.0,2603.8 1501.4,2605.0 1501.8,2607.5 1502.2,2613.1 1502.6,2617.7 1502.9,2622.9 1503.3,2628.8 1503.7,2631.5 1504.1,2634.2 1504.5,2636.6 1504.8,2636.8 1505.2,2638.4 1505.6,2638.6 1506.0,2638.3 1506.4,2639.0 1506.7,2639.1 1507.1,2639.5 1507.5,2639.4 1507.9,2639.1 1508.3,2639.6 1508.6,2639.5 1509.0,2639.8 1509.4,2638.6 1509.8,2638.5 1510.2,2639.3 1510.5,2638.6 1510.9,2637.6 1511.3,2636.6 1511.7,2635.8 1512.1,2634.3 1512.4,2631.8 1512.8,2629.1 1513.2,2628.1 1513.6,2626.3 1514.0,2626.3 1514.3,2626.9 1514.7,2628.6 1515.1,2629.2 1515.5,2631.4 1515.9,2634.5 1516.2,2635.8 1516.6,2636.8 1517.0,2637.8 1517.4,2638.7 1517.8,2639.8 1518.1,2639.7 1518.5,2639.9 1518.9,2640.3 1519.3,2640.2 1519.7,2639.6 1520.0,2639.4 1520.4,2640.5 1520.8,2640.0 1521.2,2640.4 1521.6,2640.2 1521.9,2639.7 1522.3,2639.4 1522.7,2639.5 1523.1,2640.1 1523.5,2640.7 1523.8,2639.9 1524.2,2640.2 1524.6,2639.7 1525.0,2639.9 1525.4,2639.6 1525.7,2639.7 1526.1,2639.6 1526.5,2639.7 1526.9,2640.7 1527.3,2640.4 1527.6,2640.6 1528.0,2639.6 1528.4,2640.0 1528.8,2640.5 1529.2,2639.6 1529.5,2640.1 1529.9,2639.7 1530.3,2640.1 1530.7,2640.8 1531.1,2639.7 1531.4,2640.3 1531.8,2640.5 1532.2,2640.8 1532.6,2639.9 1533.0,2640.8 1533.3,2640.8 1533.7,2639.8 1534.1,2640.5 1534.5,2640.7 1534.9,2641.0 1535.2,2640.2 1535.6,2640.9 1536.0,2640.8 1536.4,2639.7 1536.8,2640.1 1537.1,2640.5 1537.5,2640.0 1537.9,2640.2 1538.3,2640.6 1538.7,2640.7 1539.0,2639.8 1539.4,2639.6 1539.8,2639.8 1540.2,2640.2 1540.6,2640.7 1540.9,2640.0 1541.3,2639.9 1541.7,2639.9 1542.1,2640.3 1542.5,2640.5 1542.8,2639.5 1543.2,2640.6 1543.6,2639.9 1544.0,2639.3 1544.4,2639.6 1544.7,2639.5 1545.1,2638.4 1545.5,2636.8 1545.9,2636.4 1546.3,2634.8 1546.6,2632.8 1547.0,2631.1 1547.4,2629.2 1547.8,2627.8 1548.2,2627.6 1548.5,2627.6 1548.9,2628.8 1549.3,2630.9 1549.7,2632.2 1550.1,2635.1 1550.4,2636.9 1550.8,2637.1 1551.2,2638.6 1551.6,2638.9 1552.0,2640.1 1552.3,2640.3 1552.7,2640.0 1553.1,2639.4 1553.5,2640.1 1553.9,2639.7 1554.2,2640.5 1554.6,2639.8 1555.0,2640.4 1555.4,2640.6 1555.8,2640.8 1556.1,2640.8 1556.5,2640.8 1556.9,2640.7 1557.3,2640.4 1557.7,2640.1 1558.0,2640.7 1558.4,2640.3 1558.8,2640.9 1559.2,2640.0 1559.6,2641.0 1559.9,2641.0 1560.3,2640.3 1560.7,2640.0 1561.1,2640.8 1561.5,2639.7 1561.8,2640.6 1562.2,2639.7 1562.6,2640.8 1563.0,2641.0 1563.4,2640.6 1563.7,2640.2 1564.1,2640.0 1564.5,2640.2 1564.9,2641.0 1565.3,2640.2 1565.6,2640.6 1566.0,2640.9 1566.4,2639.8 1566.8,2639.7 1567.2,2640.7 1567.5,2640.0 1567.9,2640.2 1568.3,2640.2 1568.7,2640.3 1569.1,2640.1 1569.4,2640.9 1569.8,2640.4 1570.2,2641.1 1570.6,2640.8 1571.0,2640.4 1571.3,2641.0 1571.7,2640.8 1572.1,2641.0 1572.5,2639.9 1572.9,2640.1 1573.2,2639.8 1573.6,2639.7 1574.0,2640.9 1574.4,2640.0 1574.8,2640.1 1575.1,2640.5 1575.5,2641.0 1575.9,2640.0 1576.3,2639.7 1576.7,2640.8 1577.0,2640.8 1577.4,2640.7 1577.8,2639.7 1578.2,2640.7 1578.6,2640.3 1578.9,2640.2 1579.3,2639.8 1579.7,2640.9 1580.1,2640.6 1580.5,2640.7 1580.8,2639.8 1581.2,2640.9 1581.6,2639.8 1582.0,2640.0 1582.4,2640.3 1582.7,2640.1 1583.1,2640.6 1583.5,2640.2 1583.9,2640.1 1584.3,2640.1 1584.6,2640.4 1585.0,2640.4 1585.4,2640.0 1585.8,2639.9 1586.2,2640.7 1586.5,2640.3 1586.9,2639.7 1587.3,2640.3 1587.7,2639.4 1588.1,2639.5 1588.4,2640.2 1588.8,2640.1 1589.2,2640.3 1589.6,2640.3 1590.0,2639.3 1590.3,2640.5 1590.7,2639.3 1591.1,2639.3 1591.5,2640.4 1591.9,2640.4 1592.2,2639.8 1592.6,2639.0 1593.0,2639.2 1593.4,2639.6 1593.8,2639.7 1594.1,2639.5 1594.5,2640.1 1594.9,2639.3 1595.3,2639.7 1595.7,2639.8 1596.0,2638.4 1596.4,2639.6 1596.8,2639.3 1597.2,2639.3 1597.6,2638.1 1597.9,2637.8 1598.3,2638.5 1598.7,2637.3 1599.1,2637.4 1599.5,2638.1 1599.8,2636.8 1600.2,2636.2 1600.6,2636.8 1601.0,2636.3 1601.4,2634.3 1601.7,2632.9 1602.1,2630.1 1602.5,2626.9 1602.9,2621.3 1603.3,2613.9 1603.6,2604.3 1604.0,2593.6 1604.4,2580.6 1604.8,2567.5 1605.2,2557.2 1605.5,2550.2 1605.9,2547.5 1606.3,2549.7 1606.7,2557.7 1607.1,2568.4 1607.4,2580.7 1607.8,2593.5 1608.2,2604.7 1608.6,2613.8 1609.0,2621.6 1609.3,2627.7 1609.7,2631.0 1610.1,2633.4 1610.5,2635.4 1610.9,2636.1 1611.2,2636.6 1611.6,2636.3 1612.0,2637.4 1612.4,2636.9 1612.8,2638.1 1613.1,2637.9 1613.5,2638.3 1613.9,2638.6 1614.3,2638.5 1614.7,2638.9 1615.0,2638.8 1615.4,2639.1 1615.8,2639.0 1616.2,2639.4 1616.6,2639.2 1616.9,2639.1 1617.3,2639.5 1617.7,2639.3 1618.1,2640.0 1618.5,2640.0 1618.8,2640.2 1619.2,2639.5 1619.6,2639.1 1620.0,2640.5 1620.4,2639.5 1620.7,2640.1 1621.1,2640.4 1621.5,2639.3 1621.9,2640.4 1622.3,2640.2 1622.6,2640.6 1623.0,2640.4 1623.4,2639.7 1623.8,2640.6 1624.2,2640.6 1624.5,2639.9 1624.9,2640.3 1625.3,2640.3 1625.7,2640.9 1626.1,2639.6 1626.4,2640.6 1626.8,2640.1 1627.2,2639.8 1627.6,2639.8 1628.0,2640.1 1628.3,2640.5 1628.7,2639.8 1629.1,2640.5 1629.5,2639.8 1629.9,2640.9 1630.2,2640.8 1630.6,2640.5 1631.0,2640.9 1631.4,2640.1 1631.8,2640.2 1632.1,2640.9 1632.5,2640.3 1632.9,2640.2 1633.3,2640.7 1633.7,2640.2 1634.0,2640.2 1634.4,2640.6 1634.8,2640.4 1635.2,2640.1 1635.6,2640.6 1635.9,2640.1 1636.3,2640.1 1636.7,2640.3 1637.1,2639.9 1637.5,2640.6 1637.8,2640.8 1638.2,2640.0 1638.6,2640.5 1639.0,2639.8 1639.4,2639.9 1639.7,2640.4 1640.1,2640.7 1640.5,2640.6 1640.9,2640.5 1641.3,2640.9 1641.6,2640.1 1642.0,2640.5 1642.4,2639.8 1642.8,2640.1 1643.2,2640.6 1643.5,2640.2 1643.9,2640.5 1644.3,2641.1 1644.7,2640.1 1645.1,2640.1 1645.4,2640.4 1645.8,2640.5 1646.2,2640.5 1646.6,2639.9 1647.0,2640.0 1647.3,2641.1 1647.7,2640.2 1648.1,2640.9 1648.5,2641.1 1648.9,2640.8 1649.2,2640.3 1649.6,2639.8 1650.0,2640.8 1650.4,2641.1 1650.8,2640.4 1651.1,2640.6 1651.5,2640.1 1651.9,2640.2 1652.3,2641.0 1652.7,2640.0 1653.0,2640.7 1653.4,2641.2 1653.8,2641.0 1654.2,2640.6 1654.6,2639.9 1654.9,2640.1 1655.3,2641.0 1655.7,2639.9 1656.1,2640.4 1656.5,2640.3 1656.8,2640.4 1657.2,2641.1 1657.6,2640.7 1658.0,2640.9 1658.4,2639.9 1658.7,2640.5 1659.1,2641.0 1659.5,2640.7 1659.9,2640.3 1660.3,2641.1 1660.6,2639.9 1661.0,2639.7 1661.4,2640.2 1661.8,2639.8 1662.2,2640.6 1662.5,2639.6 1662.9,2639.9 1663.3,2639.8 1663.7,2640.3 1664.1,2640.8 1664.4,2639.8 1664.8,2639.9 1665.2,2639.9 1665.6,2640.0 1666.0,2639.4 1666.3,2640.4 1666.7,2639.9 1667.1,2639.1 1667.5,2639.7 1667.9,2640.1 1668.2,2639.1 1668.6,2639.3 1669.0,2639.6 1669.4,2638.5 1669.8,2638.2 1670.1,2638.3 1670.5,2636.9 1670.9,2635.9 1671.3,2634.1 1671.7,2630.7 1672.0,2628.1 1672.4,2624.3 1672.8,2621.5 1673.2,2617.7 1673.6,2614.8 1673.9,2614.0 1674.3,2612.2 1674.7,2613.4 1675.1,2615.2 1675.5,2617.4 1675.8,2621.2 1676.2,2625.1 1676.6,2628.0 1677.0,2631.1 1677.4,2634.2 1677.7,2635.8 1678.1,2636.6 1678.5,2637.5 1678.9,2638.3 1679.3,2638.8 1679.6,2639.2 1680.0,2639.1 1680.4,2639.0 1680.8,2639.2 1681.2,2639.9 1681.5,2640.4 1681.9,2640.1 1682.3,2640.2 1682.7,2639.5 1683.1,2640.6 1683.4,2639.8 1683.8,2640.1 1684.2,2640.4 1684.6,2640.4 1685.0,2640.5 1685.3,2639.6 1685.7,2639.7 1686.1,2640.9 1686.5,2640.8 1686.9,2639.7 1687.2,2640.0 1687.6,2640.3 1688.0,2640.0 1688.4,2640.0 1688.8,2641.1 1689.1,2640.6 1689.5,2640.3 1689.9,2640.8 1690.3,2640.1 1690.7,2640.1 1691.0,2640.0 1691.4,2641.0 1691.8,2640.0 1692.2,2640.0 1692.6,2641.1 1692.9,2641.0 1693.3,2640.5 1693.7,2639.9 1694.1,2640.9 1694.5,2640.9 1694.8,2640.1 1695.2,2640.2 1695.6,2640.9 1696.0,2640.9 1696.4,2641.0 1696.7,2640.6 1697.1,2640.1 1697.5,2641.0 1697.9,2640.9 1698.3,2640.6 1698.6,2640.6 1699.0,2640.2 1699.4,2640.0 1699.8,2640.0 1700.2,2640.2 1700.5,2641.1 1700.9,2640.9 1701.3,2640.5 1701.7,2640.5 1702.1,2641.1 1702.4,2641.2 1702.8,2640.1 1703.2,2640.2 1703.6,2640.6 1704.0,2641.0 1704.3,2641.2 1704.7,2641.1 1705.1,2640.9 1705.5,2641.0 1705.9,2640.4 1706.2,2640.3 1706.6,2640.7 1707.0,2640.3 1707.4,2641.3 1707.8,2640.9 1708.1,2640.3 1708.5,2641.3 1708.9,2640.4 1709.3,2640.2 1709.7,2640.4 1710.0,2640.9 1710.4,2640.9 1710.8,2640.2 1711.2,2640.2 1711.6,2640.2 1711.9,2640.4 1712.3,2640.5 1712.7,2640.0 1713.1,2640.5 1713.5,2640.9 1713.8,2640.3 1714.2,2640.9 1714.6,2640.7 1715.0,2640.0 1715.4,2640.6 1715.7,2639.9 1716.1,2641.0 1716.5,2641.2 1716.9,2641.2 1717.3,2640.2 1717.6,2640.3 1718.0,2640.3 1718.4,2640.7 1718.8,2641.0 1719.2,2640.2 1719.5,2640.6 1719.9,2641.0 1720.3,2641.0 1720.7,2641.2 1721.1,2640.8 1721.4,2640.4 1721.8,2640.8 1722.2,2640.1 1722.6,2639.9 1723.0,2640.2 1723.3,2640.1 1723.7,2640.4 1724.1,2640.2 1724.5,2640.4 1724.9,2640.6 1725.2,2640.4 1725.6,2640.4 1726.0,2640.1 1726.4,2641.1 1726.8,2641.1 1727.1,2640.9 1727.5,2640.6 1727.9,2641.0 1728.3,2640.1 1728.7,2640.1 1729.0,2640.5 1729.4,2640.0 1729.8,2640.0 1730.2,2640.7 1730.6,2640.5 1730.9,2640.9 1731.3,2640.5 1731.7,2641.1 1732.1,2640.0 1732.5,2640.9 1732.8,2640.9 1733.2,2640.4 1733.6,2640.8 1734.0,2640.0 1734.4,2639.9 1734.7,2640.8 1735.1,2641.0 1735.5,2640.3 1735.9,2640.2 1736.3,2640.0 1736.6,2640.2 1737.0,2640.0 1737.4,2640.2 1737.8,2640.6 1738.2,2640.3 1738.5,2640.1 1738.9,2640.6 1739.3,2639.8 1739.7,2640.1 1740.1,2641.1 1740.4,2640.1 1740.8,2640.5 1741.2,2641.1 1741.6,2641.0 1742.0,2640.7 1742.3,2640.4 1742.7,2640.0 1743.1,2639.8 1743.5,2639.8 1743.9,2639.7 1744.2,2640.7 1744.6,2640.6 1745.0,2639.9 1745.4,2640.6 1745.8,2639.6 1746.1,2639.7 1746.5,2640.6 1746.9,2640.8 1747.3,2640.0 1747.7,2640.2 1748.0,2639.5 1748.4,2640.1 1748.8,2639.4 1749.2,2640.1 1749.6,2639.5 1749.9,2639.4 1750.3,2640.1 1750.7,2639.7 1751.1,2640.0 1751.5,2640.0 1751.8,2638.8 1752.2,2639.1 1752.6,2638.7 1753.0,2638.7 1753.4,2639.3 1753.7,2638.3 1754.1,2638.3 1754.5,2637.7 1754.9,2638.2 1755.3,2637.3 1755.6,2635.8 1756.0,2634.6 1756.4,2633.6 1756.8,2630.8 1757.2,2626.4 1757.5,2623.3 1757.9,2617.5 1758.3,2612.7 1758.7,2606.9 1759.1,2602.8 1759.4,2598.7 1759.8,2595.3 1760.2,2595.3 1760.6,2595.9 1761.0,2598.6 1761.3,2601.8 1761.7,2606.6 1762.1,2613.2 1762.5,2617.4 1762.9,2622.9 1763.2,2626.8 1763.6,2629.8 1764.0,2633.1 1764.4,2634.3 1764.8,2636.8 1765.1,2636.5 1765.5,2637.6 1765.9,2638.1 1766.3,2638.8 1766.7,2639.4 1767.0,2639.1 1767.4,2639.5 1767.8,2639.2 1768.2,2639.7 1768.6,2639.4 1768.9,2639.2 1769.3,2639.9 1769.7,2639.4 1770.1,2639.1 1770.5,2639.8 1770.8,2640.3 1771.2,2640.2 1771.6,2639.5 1772.0,2639.8 1772.4,2640.2 1772.7,2640.7 1773.1,2640.1 1773.5,2640.5 1773.9,2640.3 1774.3,2640.4 1774.6,2640.4 1775.0,2639.7 1775.4,2640.7 1775.8,2640.7 1776.2,2640.7 1776.5,2640.8 1776.9,2640.0 1777.3,2640.5 1777.7,2640.5 1778.1,2640.9 1778.4,2640.5 1778.8,2641.0 1779.2,2641.0 1779.6,2639.8 1780.0,2640.7 1780.3,2640.3 1780.7,2640.7 1781.1,2640.9 1781.5,2640.3 1781.9,2640.3 1782.2,2641.2 1782.6,2640.2 1783.0,2640.8 1783.4,2641.0 1783.8,2640.8 1784.1,2641.1 1784.5,2640.5 1784.9,2640.3 1785.3,2640.3 1785.7,2640.7 1786.0,2641.2 1786.4,2641.1 1786.8,2640.6 1787.2,2640.5 1787.6,2640.3 1787.9,2640.1 1788.3,2640.7 1788.7,2640.0 1789.1,2640.5 1789.5,2640.6 1789.8,2640.0 1790.2,2640.4 1790.6,2641.3 1791.0,2640.2 1791.4,2641.2 1791.7,2640.5 1792.1,2640.7 1792.5,2640.3 1792.9,2640.3 1793.3,2640.8 1793.6,2640.5 1794.0,2641.2 1794.4,2640.5 1794.8,2640.4 1795.2,2640.2 1795.5,2640.2 1795.9,2640.5 1796.3,2641.1 1796.7,2641.2 1797.1,2641.3 1797.4,2640.4 1797.8,2640.4 1798.2,2641.2 1798.6,2641.1 1799.0,2640.8 1799.3,2641.2 1799.7,2641.4 1800.1,2640.5 1800.5,2640.0 1800.9,2641.2 1801.2,2640.1 1801.6,2640.4 1802.0,2640.8 1802.4,2640.9 1802.8,2641.0 1803.1,2641.0 1803.5,2641.4 1803.9,2641.0 1804.3,2641.1 1804.7,2640.9 1805.0,2640.2 1805.4,2641.1 1805.8,2640.4 1806.2,2640.7 1806.6,2640.8 1806.9,2640.5 1807.3,2640.5 1807.7,2640.5 1808.1,2640.5 1808.5,2641.1 1808.8,2641.0 1809.2,2641.4 1809.6,2641.2 1810.0,2640.2 1810.4,2641.0 1810.7,2640.8 1811.1,2641.0 1811.5,2640.1 1811.9,2641.3 1812.3,2641.3 1812.6,2640.2 1813.0,2640.6 1813.4,2640.5 1813.8,2640.8 1814.2,2640.3 1814.5,2640.9 1814.9,2640.7 1815.3,2641.4 1815.7,2640.7 1816.1,2640.1 1816.4,2641.4 1816.8,2640.4 1817.2,2640.3 1817.6,2641.4 1818.0,2640.8 1818.3,2641.5 1818.7,2640.3 1819.1,2640.9 1819.5,2641.4 1819.9,2640.9 1820.2,2640.4 1820.6,2641.1 1821.0,2640.1 1821.4,2640.8 1821.8,2640.6 1822.1,2640.2 1822.5,2641.4 1822.9,2641.0 1823.3,2640.8 1823.7,2641.4 1824.0,2640.6 1824.4,2641.3 1824.8,2640.5 1825.2,2641.2 1825.6,2640.8 1825.9,2640.1 1826.3,2640.8 1826.7,2641.3 1827.1,2640.3 1827.5,2641.2 1827.8,2640.1 1828.2,2640.5 1828.6,2640.8 1829.0,2641.0 1829.4,2641.3 1829.7,2640.9 1830.1,2641.4 1830.5,2641.1 1830.9,2640.6 1831.3,2641.0 1831.6,2640.4 1832.0,2641.3 1832.4,2640.7 1832.8,2640.9 1833.2,2641.3 1833.5,2640.6 1833.9,2641.0 1834.3,2640.5 1834.7,2640.5 1835.1,2641.1 1835.4,2640.7 1835.8,2640.2 1836.2,2641.3 1836.6,2640.9 1837.0,2640.7 1837.3,2640.6 1837.7,2640.2 1838.1,2641.3 1838.5,2640.1 1838.9,2640.4 1839.2,2640.8 1839.6,2640.9 1840.0,2641.2 1840.4,2640.6 1840.8,2640.1 1841.1,2640.5 1841.5,2641.0 1841.9,2640.5 1842.3,2641.1 1842.7,2641.2 1843.0,2640.1 1843.4,2640.6 1843.8,2640.0 1844.2,2640.7 1844.6,2640.9 1844.9,2640.3 1845.3,2640.7 1845.7,2640.4 1846.1,2641.2 1846.5,2641.1 1846.8,2641.1 1847.2,2639.9 1847.6,2640.6 1848.0,2640.9 1848.4,2640.8 1848.7,2640.5 1849.1,2640.7 1849.5,2639.5 1849.9,2639.4 1850.3,2640.0 1850.6,2639.8 1851.0,2638.7 1851.4,2638.8 1851.8,2639.2 1852.2,2638.8 1852.5,2638.6 1852.9,2637.6 1853.3,2637.5 1853.7,2637.0 1854.1,2637.6 1854.4,2637.2 1854.8,2636.3 1855.2,2637.1 1855.6,2636.7 1856.0,2637.5 1856.3,2636.8 1856.7,2636.9 1857.1,2637.8 1857.5,2638.4 1857.9,2637.5 1858.2,2637.7 1858.6,2638.8 1859.0,2638.6 1859.4,2639.1 1859.8,2639.1 1860.1,2640.0 1860.5,2640.2 1860.9,2640.2 1861.3,2640.6 1861.7,2639.7 1862.0,2639.9 1862.4,2640.9 1862.8,2640.1 1863.2,2639.9 1863.6,2640.2 1863.9,2639.9 1864.3,2641.2 1864.7,2641.2 1865.1,2640.4 1865.5,2640.3 1865.8,2640.8 1866.2,2641.1 1866.6,2640.4 1867.0,2641.2 1867.4,2640.9 1867.7,2641.0 1868.1,2640.8 1868.5,2640.6 1868.9,2640.8 1869.3,2641.2 1869.6,2640.4 1870.0,2640.4 1870.4,2640.7 1870.8,2641.1 1871.2,2640.0 1871.5,2639.9 1871.9,2640.6 1872.3,2640.1 1872.7,2641.2 1873.1,2640.2 1873.4,2640.5 1873.8,2641.0 1874.2,2640.5 1874.6,2640.6 1875.0,2641.2 1875.3,2640.7 1875.7,2640.7 1876.1,2639.9 1876.5,2640.6 1876.9,2640.5 1877.2,2640.5 1877.6,2640.2 1878.0,2641.1 1878.4,2641.1 1878.8,2640.5 1879.1,2640.1 1879.5,2640.5 1879.9,2640.9 1880.3,2640.1 1880.7,2641.0 1881.0,2640.4 1881.4,2640.6 1881.8,2639.9 1882.2,2639.8 1882.6,2640.6 1882.9,2639.8 1883.3,2639.9 1883.7,2640.7 1884.1,2639.7 1884.5,2639.4 1884.8,2639.3 1885.2,2639.5 1885.6,2640.1 1886.0,2639.0 1886.4,2638.9 1886.7,2638.4 1887.1,2636.2 1887.5,2635.1 1887.9,2633.4 1888.3,2631.2 1888.6,2628.0 1889.0,2626.0 1889.4,2623.8 1889.8,2622.1 1890.2,2622.3 1890.5,2622.7 1890.9,2623.8 1891.3,2625.4 1891.7,2628.5 1892.1,2630.4 1892.4,2632.8 1892.8,2635.6 1893.2,2636.2 1893.6,2638.4 1894.0,2637.9 1894.3,2639.5 1894.7,2639.8 1895.1,2640.0 1895.5,2640.1 1895.9,2639.4 1896.2,2640.3 1896.6,2640.4 1897.0,2639.7 1897.4,2640.5 1897.8,2639.4 1898.1,2640.5 1898.5,2640.3 1898.9,2639.5 1899.3,2640.0 1899.7,2640.1 1900.0,2640.7 1900.4,2640.4 1900.8,2640.6 1901.2,2640.3 1901.6,2640.3 1901.9,2640.4 1902.3,2640.3 1902.7,2640.0 1903.1,2640.0 1903.5,2639.7 1903.8,2640.5 1904.2,2640.5 1904.6,2640.1 1905.0,2639.5 1905.4,2640.4 1905.7,2640.5 1906.1,2639.9 1906.5,2640.5 1906.9,2639.8 1907.3,2640.5 1907.6,2639.9 1908.0,2639.3 1908.4,2639.6 1908.8,2639.5 1909.2,2640.2 1909.5,2640.3 1909.9,2640.0 1910.3,2639.4 1910.7,2638.8 1911.1,2638.6 1911.4,2638.1 1911.8,2637.8 1912.2,2637.3 1912.6,2634.9 1913.0,2633.4 1913.3,2632.0 1913.7,2629.2 1914.1,2626.9 1914.5,2624.1 1914.9,2620.8 1915.2,2619.8 1915.6,2617.8 1916.0,2616.9 1916.4,2617.3 1916.8,2619.5 1917.1,2621.2 1917.5,2622.9 1917.9,2626.6 1918.3,2629.4 1918.7,2630.5 1919.0,2633.4 1919.4,2634.1 1919.8,2635.7 1920.2,2636.8 1920.6,2637.0 1920.9,2636.2 1921.3,2636.2 1921.7,2635.6 1922.1,2635.4 1922.5,2634.8 1922.8,2632.7 1923.2,2632.2 1923.6,2631.6 1924.0,2631.7 1924.4,2630.1 1924.7,2630.8 1925.1,2630.9 1925.5,2630.3 1925.9,2630.9 1926.3,2632.0 1926.6,2632.4 1927.0,2633.6 1927.4,2634.3 1927.8,2635.0 1928.2,2636.1 1928.5,2637.1 1928.9,2636.9 1929.3,2638.2 1929.7,2639.0 1930.1,2639.6 1930.4,2639.5 1930.8,2639.5 1931.2,2640.2 1931.6,2640.0 1932.0,2639.4 1932.3,2640.0 1932.7,2640.0 1933.1,2640.4 1933.5,2640.6 1933.9,2640.8 1934.2,2639.6 1934.6,2640.4 1935.0,2640.7 1935.4,2640.0 1935.8,2640.7 1936.1,2640.6 1936.5,2640.1 1936.9,2641.0 1937.3,2640.1 1937.7,2639.8 1938.0,2640.5 1938.4,2640.4 1938.8,2641.2 1939.2,2641.2 1939.6,2640.9 1939.9,2639.9 1940.3,2640.7 1940.7,2640.7 1941.1,2640.5 1941.5,2640.0 1941.8,2640.6 1942.2,2640.6 1942.6,2641.3 1943.0,2641.0 1943.4,2641.2 1943.7,2640.1 1944.1,2640.2 1944.5,2640.7 1944.9,2640.8 1945.3,2640.4 1945.6,2640.7 1946.0,2641.3 1946.4,2640.5 1946.8,2641.2 1947.2,2640.1 1947.5,2640.0 1947.9,2640.9 1948.3,2640.1 1948.7,2640.8 1949.1,2640.9 1949.4,2641.1 1949.8,2640.8 1950.2,2641.0 1950.6,2641.0 1951.0,2640.9 1951.3,2640.7 1951.7,2641.0 1952.1,2640.8 1952.5,2640.3 1952.9,2640.3 1953.2,2640.8 1953.6,2641.2 1954.0,2640.4 1954.4,2641.1 1954.8,2641.1 1955.1,2641.0 1955.5,2641.4 1955.9,2640.9 1956.3,2640.2 1956.7,2640.8 1957.0,2641.0 1957.4,2640.2 1957.8,2640.4 1958.2,2641.3 1958.6,2641.5 1958.9,2640.2 1959.3,2640.5 1959.7,2640.5 1960.1,2640.5 1960.5,2640.8 1960.8,2640.9 1961.2,2640.6 1961.6,2640.4 1962.0,2640.2 1962.4,2640.2 1962.7,2641.1 1963.1,2641.2 1963.5,2640.4 1963.9,2640.7 1964.3,2641.5 1964.6,2641.4 1965.0,2640.9 1965.4,2640.4 1965.8,2641.2 1966.2,2641.2 1966.5,2640.2 1966.9,2640.2 1967.3,2640.2 1967.7,2641.2 1968.1,2641.1 1968.4,2640.3 1968.8,2641.4 1969.2,2641.3 1969.6,2640.2 1970.0,2641.0 1970.3,2640.5 1970.7,2640.5 1971.1,2640.3 1971.5,2641.3 1971.9,2641.3 1972.2,2640.2 1972.6,2640.7 1973.0,2640.4 1973.4,2640.4 1973.8,2641.5 1974.1,2641.1 1974.5,2640.8 1974.9,2641.0 1975.3,2641.2 1975.7,2641.2 1976.0,2640.6 1976.4,2641.3 1976.8,2640.2 1977.2,2640.9 1977.6,2640.6 1977.9,2640.9 1978.3,2640.7 1978.7,2641.3 1979.1,2640.2 1979.5,2641.2 1979.8,2640.5 1980.2,2640.6 1980.6,2640.3 1981.0,2640.4 1981.4,2640.2 1981.7,2641.4 1982.1,2640.8 1982.5,2640.6 1982.9,2640.3 1983.3,2640.3 1983.6,2640.8 1984.0,2640.5 1984.4,2640.2 1984.8,2641.1 1985.2,2640.5 1985.5,2641.4 1985.9,2641.5 1986.3,2640.9 1986.7,2641.2 1987.1,2641.0 1987.4,2641.1 1987.8,2640.5 1988.2,2641.2 1988.6,2641.4 1989.0,2641.2 1989.3,2640.8 1989.7,2640.3 1990.1,2641.5 1990.5,2641.0 1990.9,2641.0 1991.2,2640.4 1991.6,2641.5 1992.0,2640.6 1992.4,2640.7 1992.8,2640.6 1993.1,2641.5 1993.5,2640.3 1993.9,2641.4 1994.3,2641.1 1994.7,2641.0 1995.0,2641.1 1995.4,2641.2 1995.8,2640.4 1996.2,2640.3 1996.6,2640.3 1996.9,2640.7 1997.3,2640.3 1997.7,2641.2 1998.1,2640.9 1998.5,2640.3 1998.8,2640.3 1999.2,2640.9 1999.6,2641.2 2000.0,2641.1 2000.4,2640.9 2000.7,2641.4 2001.1,2641.5 2001.5,2640.8 2001.9,2641.4 2002.3,2640.5 2002.6,2640.7 2003.0,2641.1 2003.4,2640.4 2003.8,2641.6 2004.2,2641.4 2004.5,2641.4 2004.9,2640.8 2005.3,2640.6 2005.7,2640.5 2006.1,2640.7 2006.4,2641.3 2006.8,2640.3 2007.2,2640.5 2007.6,2640.7 2008.0,2640.6 2008.3,2641.0 2008.7,2641.4 2009.1,2640.3 2009.5,2640.3 2009.9,2641.3 2010.2,2641.1 2010.6,2640.6 2011.0,2640.5 2011.4,2640.2 2011.8,2640.8 2012.1,2641.3 2012.5,2640.3 2012.9,2640.5 2013.3,2640.3 2013.7,2641.0 2014.0,2640.3 2014.4,2640.6 2014.8,2640.5 2015.2,2641.5 2015.6,2641.5 2015.9,2640.7 2016.3,2640.9 2016.7,2640.4 2017.1,2640.7 2017.5,2641.2 2017.8,2640.7 2018.2,2640.4 2018.6,2641.1 2019.0,2641.4 2019.4,2641.4 2019.7,2640.4 2020.1,2641.2 2020.5,2641.5 2020.9,2640.2 2021.3,2641.1 2021.6,2641.4 2022.0,2641.2 2022.4,2641.4 2022.8,2640.5 2023.2,2641.4 2023.5,2640.5 2023.9,2640.2 2024.3,2640.3 2024.7,2640.7 2025.1,2640.7 2025.4,2640.5 2025.8,2640.8 2026.2,2640.8 2026.6,2640.3 2027.0,2640.9 2027.3,2640.8 2027.7,2640.7 2028.1,2640.8 2028.5,2641.4 2028.9,2641.4 2029.2,2640.7 2029.6,2640.2 2030.0,2640.4 2030.4,2640.5 2030.8,2640.8 2031.1,2640.5 2031.5,2640.6 2031.9,2640.2 2032.3,2640.9 2032.7,2640.8 2033.0,2640.4 2033.4,2641.0 2033.8,2641.5 2034.2,2641.4 2034.6,2640.7 2034.9,2640.2 2035.3,2640.7 2035.7,2640.2 2036.1,2640.9 2036.5,2640.8 2036.8,2640.6 2037.2,2640.3 2037.6,2640.8 2038.0,2640.8 2038.4,2641.4 2038.7,2641.2 2039.1,2640.3 2039.5,2641.2 2039.9,2641.0 2040.3,2640.3 2040.6,2640.5 2041.0,2641.2 2041.4,2640.2 2041.8,2641.1 2042.2,2640.8 2042.5,2640.5 2042.9,2640.8 2043.3,2641.0 2043.7,2641.2 2044.1,2641.4 2044.4,2641.0 2044.8,2641.1 2045.2,2640.1 2045.6,2641.0 2046.0,2641.2 2046.3,2641.0 2046.7,2640.3 2047.1,2640.6 2047.5,2640.6 2047.9,2641.3 2048.2,2640.5 2048.6,2640.1 2049.0,2641.3 2049.4,2641.0 2049.8,2641.0 2050.1,2641.0 2050.5,2640.1 2050.9,2640.7 2051.3,2641.1 2051.7,2640.7 2052.0,2641.2 2052.4,2640.4 2052.8,2641.4 2053.2,2641.2 2053.6,2640.4 2053.9,2640.4 2054.3,2640.3 2054.7,2640.1 2055.1,2640.0 2055.5,2640.2 2055.8,2640.5 2056.2,2640.6 2056.6,2640.0 2057.0,2640.4 2057.4,2641.1 2057.7,2640.9 2058.1,2640.8 2058.5,2640.2 2058.9,2641.1 2059.3,2640.1 2059.6,2640.4 2060.0,2640.2 2060.4,2640.8 2060.8,2640.0 2061.2,2640.9 2061.5,2640.5 2061.9,2639.4 2062.3,2639.4 2062.7,2639.6 2063.1,2639.8 2063.4,2639.4 2063.8,2639.4 2064.2,2638.3 2064.6,2638.8 2065.0,2637.5 2065.3,2638.0 2065.7,2637.2 2066.1,2636.6 2066.5,2636.2 2066.9,2635.5 2067.2,2634.9 2067.6,2635.0 2068.0,2634.2 2068.4,2634.1 2068.8,2634.6 2069.1,2634.6 2069.5,2633.3 2069.9,2633.6 2070.3,2634.4 2070.7,2633.8 2071.0,2634.4 2071.4,2634.3 2071.8,2635.7 2072.2,2636.1 2072.6,2635.8 2072.9,2636.7 2073.3,2636.7 2073.7,2637.0 2074.1,2638.3 2074.5,2639.0 2074.8,2639.0 2075.2,2638.4 2075.6,2639.1 2076.0,2639.9 2076.4,2640.3 2076.7,2640.4 2077.1,2639.4 2077.5,2640.5 2077.9,2639.7 2078.3,2639.8 2078.6,2639.7 2079.0,2640.2 2079.4,2640.1 2079.8,2640.7 2080.2,2640.8 2080.5,2640.6 2080.9,2640.4 2081.3,2640.5 2081.7,2640.6 2082.1,2640.8 2082.4,2640.4 2082.8,2640.6 2083.2,2640.7 2083.6,2640.5 2084.0,2640.7 2084.3,2640.2 2084.7,2640.4 2085.1,2641.1 2085.5,2641.2 2085.9,2640.8 2086.2,2640.5 2086.6,2641.3 2087.0,2640.3 2087.4,2641.1 2087.8,2640.9 2088.1,2640.0 2088.5,2640.9 2088.9,2640.2 2089.3,2640.4 2089.7,2641.2 2090.0,2640.5 2090.4,2640.4 2090.8,2641.0 2091.2,2641.3 2091.6,2641.2 2091.9,2640.6 2092.3,2640.4 2092.7,2641.3 2093.1,2641.3 2093.5,2640.0 2093.8,2641.2 2094.2,2640.6 2094.6,2640.4 2095.0,2640.1 2095.4,2640.9 2095.7,2640.4 2096.1,2640.8 2096.5,2640.4 2096.9,2640.5 2097.3,2640.3 2097.6,2641.2 2098.0,2640.7 2098.4,2641.0 2098.8,2639.9 2099.2,2640.4 2099.5,2640.9 2099.9,2640.4 2100.3,2640.4 2100.7,2640.1 2101.1,2639.9 2101.4,2639.6 2101.8,2639.8 2102.2,2639.3 2102.6,2639.7 2103.0,2638.8 2103.3,2639.2 2103.7,2638.6 2104.1,2638.2 2104.5,2637.9 2104.9,2636.9 2105.2,2636.0 2105.6,2636.2 2106.0,2635.2 2106.4,2635.0 2106.8,2634.1 2107.1,2633.7 2107.5,2633.8 2107.9,2633.7 2108.3,2632.9 2108.7,2633.4 2109.0,2633.1 2109.4,2632.4 2109.8,2632.5 2110.2,2633.2 2110.6,2633.9 2110.9,2634.4 2111.3,2633.9 2111.7,2635.5 2112.1,2635.6 2112.5,2635.9 2112.8,2636.6 2113.2,2636.4 2113.6,2637.9 2114.0,2638.4 2114.4,2637.8 2114.7,2638.4 2115.1,2638.6 2115.5,2638.9 2115.9,2640.1 2116.3,2640.2 2116.6,2639.5 2117.0,2639.4 2117.4,2639.6 2117.8,2639.7 2118.2,2639.9 2118.5,2640.3 2118.9,2639.8 2119.3,2640.2 2119.7,2640.2 2120.1,2640.8 2120.4,2641.0 2120.8,2640.3 2121.2,2641.2 2121.6,2640.2 2122.0,2640.3 2122.3,2640.0 2122.7,2640.0 2123.1,2641.3 2123.5,2640.1 2123.9,2641.2 2124.2,2640.4 2124.6,2640.7 2125.0,2640.2 2125.4,2640.8 2125.8,2641.4 2126.1,2641.1 2126.5,2641.0 2126.9,2641.2 2127.3,2640.6 2127.7,2640.4 2128.0,2640.0 2128.4,2640.4 2128.8,2640.1 2129.2,2640.7 2129.6,2640.1 2129.9,2640.2 2130.3,2641.1 2130.7,2640.7 2131.1,2640.7 2131.5,2641.2 2131.8,2640.9 2132.2,2641.2 2132.6,2640.7 2133.0,2640.6 2133.4,2640.1 2133.7,2641.3 2134.1,2640.3 2134.5,2641.2 2134.9,2640.7 2135.3,2641.1 2135.6,2640.7 2136.0,2640.8 2136.4,2640.5 2136.8,2640.1 2137.2,2640.4 2137.5,2640.1 2137.9,2640.8 2138.3,2640.3 2138.7,2641.0 2139.1,2640.7 2139.4,2640.3 2139.8,2640.3 2140.2,2641.4 2140.6,2641.4 2141.0,2641.3 2141.3,2640.2 2141.7,2640.1 2142.1,2640.7 2142.5,2640.5 2142.9,2641.0 2143.2,2641.0 2143.6,2641.0 2144.0,2641.1 2144.4,2640.5 2144.8,2640.7 2145.1,2640.4 2145.5,2641.0 2145.9,2640.4 2146.3,2640.4 2146.7,2640.4 2147.0,2640.2 2147.4,2640.1 2147.8,2640.8 2148.2,2640.2 2148.6,2639.9 2148.9,2640.2 2149.3,2640.8 2149.7,2640.7 2150.1,2640.8 2150.5,2640.4 2150.8,2640.0 2151.2,2639.6 2151.6,2639.1 2152.0,2639.8 2152.4,2639.5 2152.7,2639.0 2153.1,2638.2 2153.5,2638.9 2153.9,2638.2 2154.3,2637.8 2154.6,2638.1 2155.0,2637.8 2155.4,2636.8 2155.8,2636.9 2156.2,2636.4 2156.5,2636.6 2156.9,2636.4 2157.3,2635.7 2157.7,2635.3 2158.1,2636.3 2158.4,2635.5 2158.8,2636.8 2159.2,2635.9 2159.6,2637.1 2160.0,2637.5 2160.3,2637.3 2160.7,2636.9 2161.1,2638.1 2161.5,2637.6 2161.9,2638.8 2162.2,2639.3 2162.6,2639.3 2163.0,2639.1 2163.4,2639.6 2163.8,2639.3 2164.1,2640.2 2164.5,2640.4 2164.9,2640.5 2165.3,2639.7 2165.7,2641.0 2166.0,2640.7 2166.4,2640.6 2166.8,2640.8 2167.2,2640.3 2167.6,2641.1 2167.9,2640.8 2168.3,2640.5 2168.7,2640.3 2169.1,2640.5 2169.5,2641.1 2169.8,2641.0 2170.2,2640.5 2170.6,2641.3 2171.0,2640.7 2171.4,2640.8 2171.7,2640.2 2172.1,2641.4 2172.5,2641.4 2172.9,2641.1 2173.3,2640.6 2173.6,2640.4 2174.0,2640.4 2174.4,2641.2 2174.8,2641.2 2175.2,2640.7 2175.5,2640.4 2175.9,2641.2 2176.3,2641.2 2176.7,2641.4 2177.1,2640.8 2177.4,2641.3 2177.8,2640.8 2178.2,2641.3 2178.6,2640.2 2179.0,2640.9 2179.3,2641.3 2179.7,2641.1 2180.1,2641.5 2180.5,2641.0 2180.9,2640.6 2181.2,2641.2 2181.6,2641.3 2182.0,2641.1 2182.4,2641.1 2182.8,2640.2 2183.1,2640.2 2183.5,2640.5 2183.9,2640.6 2184.3,2641.3 2184.7,2640.5 2185.0,2640.2 2185.4,2640.2 2185.8,2641.6 2186.2,2640.5 2186.6,2640.6 2186.9,2641.4 2187.3,2641.5 2187.7,2640.6 2188.1,2641.0 2188.5,2640.7 2188.8,2640.6 2189.2,2641.5 2189.6,2640.2 2190.0,2641.1 2190.4,2641.2 2190.7,2641.3 2191.1,2641.0 2191.5,2641.5 2191.9,2641.3 2192.3,2641.1 2192.6,2640.3 2193.0,2641.4 2193.4,2640.4 2193.8,2640.4 2194.2,2640.6 2194.5,2640.9 2194.9,2640.6 2195.3,2640.8 2195.7,2640.6 2196.1,2640.5 2196.4,2641.2 2196.8,2641.1 2197.2,2640.3 2197.6,2641.4 2198.0,2640.4 2198.3,2640.6 2198.7,2641.3 2199.1,2641.4 2199.5,2641.5 2199.9,2641.4 2200.2,2641.0 2200.6,2641.5 2201.0,2641.3 2201.4,2641.4 2201.8,2641.6 2202.1,2641.5 2202.5,2640.9 2202.9,2640.8 2203.3,2641.3 2203.7,2641.4 2204.0,2641.2 2204.4,2640.7 2204.8,2640.3 2205.2,2640.4 2205.6,2641.5 2205.9,2641.5 2206.3,2640.3 2206.7,2640.7 2207.1,2641.1 2207.5,2640.9 2207.8,2640.3 2208.2,2641.4 2208.6,2641.1 2209.0,2640.7 2209.4,2640.9 2209.7,2640.8 2210.1,2641.1 2210.5,2641.5 2210.9,2641.0 2211.3,2640.7 2211.6,2640.7 2212.0,2641.4 2212.4,2641.3 2212.8,2640.7 2213.2,2641.5 2213.5,2641.1 2213.9,2641.6 2214.3,2641.5 2214.7,2640.3 2215.1,2640.8 2215.4,2640.2 2215.8,2641.6 2216.2,2640.5 2216.6,2640.5 2217.0,2641.0 2217.3,2641.5 2217.7,2641.1 2218.1,2641.4 2218.5,2641.1 2218.9,2641.0 2219.2,2640.9 2219.6,2641.0 2220.0,2640.3" fill="none" stroke="#0c0c0c" stroke-width="5.5" stroke-linejoin="round" stroke-linecap="round"/>
<text transform="translate(1200.5 2313) rotate(-90)" font-size="43.5" fill="#0c0c0c" textLength="108" lengthAdjust="spacingAndGlyphs">(002)</text>
<text transform="translate(1446 2615) rotate(-90)" font-size="43.5" fill="#0c0c0c" textLength="108" lengthAdjust="spacingAndGlyphs">(004)</text>
<text transform="translate(1492.7 2599) rotate(-90)" font-size="43.5" fill="#0c0c0c" textLength="108" lengthAdjust="spacingAndGlyphs">(100)</text>
<text transform="translate(1537 2607) rotate(-90)" font-size="43.5" fill="#0c0c0c" textLength="108" lengthAdjust="spacingAndGlyphs">(101)</text>
<text transform="translate(1575 2637) rotate(-90)" font-size="43.5" fill="#0c0c0c" textLength="108" lengthAdjust="spacingAndGlyphs">(102)</text>
<text transform="translate(1613.6 2534) rotate(-90)" font-size="43.5" fill="#0c0c0c" textLength="108" lengthAdjust="spacingAndGlyphs">(103)</text>
<text transform="translate(1687 2602) rotate(-90)" font-size="43.5" fill="#0c0c0c" textLength="108" lengthAdjust="spacingAndGlyphs">(006)</text>
<text transform="translate(1781.6 2582) rotate(-90)" font-size="43.5" fill="#0c0c0c" textLength="108" lengthAdjust="spacingAndGlyphs">(105)</text>
<text transform="translate(1864 2630) rotate(-90)" font-size="43.5" fill="#0c0c0c" textLength="108" lengthAdjust="spacingAndGlyphs">(106)</text>
<text transform="translate(1906.5 2612) rotate(-90)" font-size="43.5" fill="#0c0c0c" textLength="108" lengthAdjust="spacingAndGlyphs">(110)</text>
<text transform="translate(1952.7 2598) rotate(-90)" font-size="43.5" fill="#0c0c0c" textLength="108" lengthAdjust="spacingAndGlyphs">(008)</text>
<text transform="translate(2079.6 2626) rotate(-90)" font-size="43.5" fill="#0c0c0c" textLength="108" lengthAdjust="spacingAndGlyphs">(108)</text>
<text transform="translate(2126 2616) rotate(-90)" font-size="43.5" fill="#0c0c0c" textLength="108" lengthAdjust="spacingAndGlyphs">(203)</text>
<text transform="translate(2176 2616) rotate(-90)" font-size="43.5" fill="#0c0c0c" textLength="108" lengthAdjust="spacingAndGlyphs">(116)</text>
<line x1="1779" y1="2089" x2="1888" y2="2089" stroke="#c9322c" stroke-width="6.5"/>
<line x1="1779" y1="2156.5" x2="1888" y2="2156.5" stroke="#0c0c0c" stroke-width="5"/>
<text x="1913" y="2107.5" font-size="60" fill="#0c0c0c">nanosheets</text>
<text x="1913" y="2174.5" font-size="60" fill="#0c0c0c">powder</text>
<text x="2117" y="1985.2" font-size="106" fill="#060606" text-anchor="middle">(f)</text>
</g>
</svg></body></html>
